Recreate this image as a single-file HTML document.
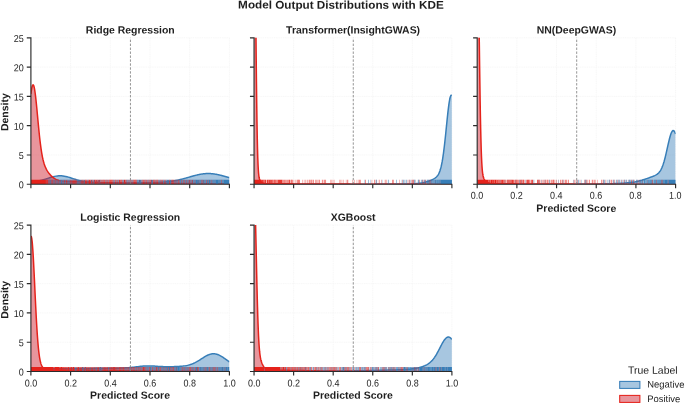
<!DOCTYPE html><html><head><meta charset="utf-8"><title>Model Output Distributions with KDE</title>
<style>html,body{margin:0;padding:0;background:#fff}svg{display:block;will-change:transform}text{font-family:"Liberation Sans",Arial,sans-serif;fill:#1e1e1e;text-rendering:geometricPrecision}</style></head><body>
<svg width="685" height="404" viewBox="0 0 685 404">
<rect width="685" height="404" fill="#fff"/>
<text transform="translate(340.95 8.7) scale(1.037 1) skewY(0.06)" font-size="11.3" text-anchor="middle" font-weight="bold" fill="#1a1a1a">Model Output Distributions with KDE</text>
<g>
<clipPath id="c0"><rect x="30.9" y="37.8" width="198.5" height="146.45"/></clipPath>
<path d="M70.6 37.8V184.25M30.9 154.96H229.4M110.3 37.8V184.25M30.9 125.67H229.4M150 37.8V184.25M30.9 96.38H229.4M189.7 37.8V184.25M30.9 67.09H229.4M229.4 37.8V184.25M30.9 37.8H229.4" stroke="#f4f4f4" stroke-width="0.75" stroke-dasharray="1.2 0.6" fill="none"/>
<g clip-path="url(#c0)">
<polygon points="30.9,184.25 30.9,181.92 31.17,181.9 31.44,181.88 31.7,181.86 31.97,181.84 32.24,181.81 32.51,181.79 32.77,181.76 33.04,181.73 33.31,181.7 33.58,181.67 33.84,181.64 34.11,181.61 34.38,181.58 34.65,181.54 34.91,181.51 35.18,181.47 35.45,181.43 35.72,181.4 35.99,181.36 36.25,181.31 36.52,181.27 36.79,181.23 37.06,181.18 37.32,181.13 37.59,181.09 37.86,181.04 38.13,180.99 38.39,180.93 38.66,180.88 38.93,180.82 39.2,180.77 39.46,180.71 39.73,180.65 40,180.59 40.27,180.53 40.54,180.46 40.8,180.4 41.07,180.33 41.34,180.27 41.61,180.2 41.87,180.13 42.14,180.06 42.41,179.98 42.68,179.91 42.94,179.84 43.21,179.76 43.48,179.68 43.75,179.61 44.01,179.53 44.28,179.45 44.55,179.37 44.82,179.29 45.08,179.2 45.35,179.12 45.62,179.04 45.89,178.95 46.16,178.87 46.42,178.78 46.69,178.7 46.96,178.61 47.23,178.53 47.49,178.44 47.76,178.35 48.03,178.27 48.3,178.18 48.56,178.1 48.83,178.01 49.1,177.92 49.37,177.84 49.63,177.76 49.9,177.67 50.17,177.59 50.44,177.51 50.71,177.42 50.97,177.34 51.24,177.26 51.51,177.19 51.78,177.11 52.04,177.03 52.31,176.96 52.58,176.89 52.85,176.82 53.11,176.75 53.38,176.68 53.65,176.61 53.92,176.55 54.18,176.49 54.45,176.43 54.72,176.37 56.08,176.12 57.45,175.93 58.81,175.82 60.17,175.79 61.54,175.84 62.9,175.97 64.26,176.18 65.63,176.45 66.99,176.77 68.35,177.15 69.72,177.56 71.08,178 72.44,178.45 73.81,178.89 75.17,179.33 76.53,179.75 77.9,180.14 79.26,180.51 80.63,180.84 81.99,181.13 83.35,181.39 84.72,181.61 86.08,181.81 87.44,181.97 88.81,182.11 90.17,182.22 91.53,182.32 92.9,182.4 94.26,182.46 95.62,182.51 96.99,182.56 98.35,182.6 99.71,182.63 101.08,182.65 102.44,182.68 103.8,182.7 105.17,182.72 106.53,182.74 107.89,182.76 109.26,182.77 110.62,182.79 111.98,182.8 113.35,182.82 114.71,182.83 116.07,182.84 117.44,182.85 118.8,182.86 120.16,182.87 121.53,182.88 122.89,182.89 124.26,182.89 125.62,182.9 126.98,182.9 128.35,182.9 129.71,182.9 131.07,182.9 132.44,182.9 133.8,182.89 135.16,182.89 136.53,182.88 137.89,182.87 139.25,182.86 140.62,182.85 141.98,182.84 143.34,182.82 144.71,182.81 146.07,182.79 147.43,182.76 148.8,182.74 150.16,182.71 151.52,182.67 152.89,182.63 154.25,182.59 155.61,182.54 156.98,182.49 158.34,182.42 159.7,182.35 161.07,182.27 162.43,182.18 163.79,182.07 165.16,181.96 166.52,181.83 167.89,181.68 169.25,181.52 170.61,181.34 171.98,181.14 173.34,180.92 174.7,180.69 176.07,180.43 177.43,180.15 178.79,179.86 180.16,179.54 181.52,179.21 182.88,178.86 184.25,178.5 185.61,178.12 186.97,177.74 188.34,177.35 189.7,176.95 190.15,176.83 190.59,176.7 191.04,176.57 191.48,176.44 191.93,176.32 192.38,176.19 192.82,176.07 193.27,175.95 193.71,175.82 194.16,175.7 194.61,175.59 195.05,175.47 195.5,175.36 195.94,175.24 196.39,175.13 196.84,175.03 197.28,174.92 197.73,174.82 198.18,174.72 198.62,174.63 199.07,174.53 199.51,174.45 199.96,174.36 200.41,174.28 200.85,174.2 201.3,174.13 201.74,174.06 202.19,173.99 202.64,173.93 203.08,173.87 203.53,173.82 203.97,173.77 204.42,173.73 204.87,173.69 205.31,173.65 205.76,173.62 206.2,173.6 206.65,173.58 207.1,173.56 207.54,173.55 207.99,173.55 208.43,173.55 208.88,173.55 209.33,173.56 209.77,173.58 210.22,173.6 210.67,173.62 211.11,173.65 211.56,173.69 212,173.72 212.45,173.77 212.9,173.81 213.34,173.87 213.79,173.92 214.23,173.98 214.68,174.05 215.13,174.12 215.57,174.19 216.02,174.27 216.46,174.35 216.91,174.43 217.36,174.52 217.8,174.61 218.25,174.71 218.69,174.81 219.14,174.91 219.59,175.01 220.03,175.12 220.48,175.22 220.92,175.33 221.37,175.45 221.82,175.56 222.26,175.68 222.71,175.8 223.16,175.92 223.6,176.04 224.05,176.16 224.49,176.28 224.94,176.41 225.39,176.53 225.83,176.66 226.28,176.78 226.72,176.91 227.17,177.03 227.62,177.16 228.06,177.28 228.51,177.41 228.95,177.53 229.4,177.66 229.4,184.25" fill="#377eb8" fill-opacity="0.44"/>
<polyline points="30.9,181.92 31.17,181.9 31.44,181.88 31.7,181.86 31.97,181.84 32.24,181.81 32.51,181.79 32.77,181.76 33.04,181.73 33.31,181.7 33.58,181.67 33.84,181.64 34.11,181.61 34.38,181.58 34.65,181.54 34.91,181.51 35.18,181.47 35.45,181.43 35.72,181.4 35.99,181.36 36.25,181.31 36.52,181.27 36.79,181.23 37.06,181.18 37.32,181.13 37.59,181.09 37.86,181.04 38.13,180.99 38.39,180.93 38.66,180.88 38.93,180.82 39.2,180.77 39.46,180.71 39.73,180.65 40,180.59 40.27,180.53 40.54,180.46 40.8,180.4 41.07,180.33 41.34,180.27 41.61,180.2 41.87,180.13 42.14,180.06 42.41,179.98 42.68,179.91 42.94,179.84 43.21,179.76 43.48,179.68 43.75,179.61 44.01,179.53 44.28,179.45 44.55,179.37 44.82,179.29 45.08,179.2 45.35,179.12 45.62,179.04 45.89,178.95 46.16,178.87 46.42,178.78 46.69,178.7 46.96,178.61 47.23,178.53 47.49,178.44 47.76,178.35 48.03,178.27 48.3,178.18 48.56,178.1 48.83,178.01 49.1,177.92 49.37,177.84 49.63,177.76 49.9,177.67 50.17,177.59 50.44,177.51 50.71,177.42 50.97,177.34 51.24,177.26 51.51,177.19 51.78,177.11 52.04,177.03 52.31,176.96 52.58,176.89 52.85,176.82 53.11,176.75 53.38,176.68 53.65,176.61 53.92,176.55 54.18,176.49 54.45,176.43 54.72,176.37 56.08,176.12 57.45,175.93 58.81,175.82 60.17,175.79 61.54,175.84 62.9,175.97 64.26,176.18 65.63,176.45 66.99,176.77 68.35,177.15 69.72,177.56 71.08,178 72.44,178.45 73.81,178.89 75.17,179.33 76.53,179.75 77.9,180.14 79.26,180.51 80.63,180.84 81.99,181.13 83.35,181.39 84.72,181.61 86.08,181.81 87.44,181.97 88.81,182.11 90.17,182.22 91.53,182.32 92.9,182.4 94.26,182.46 95.62,182.51 96.99,182.56 98.35,182.6 99.71,182.63 101.08,182.65 102.44,182.68 103.8,182.7 105.17,182.72 106.53,182.74 107.89,182.76 109.26,182.77 110.62,182.79 111.98,182.8 113.35,182.82 114.71,182.83 116.07,182.84 117.44,182.85 118.8,182.86 120.16,182.87 121.53,182.88 122.89,182.89 124.26,182.89 125.62,182.9 126.98,182.9 128.35,182.9 129.71,182.9 131.07,182.9 132.44,182.9 133.8,182.89 135.16,182.89 136.53,182.88 137.89,182.87 139.25,182.86 140.62,182.85 141.98,182.84 143.34,182.82 144.71,182.81 146.07,182.79 147.43,182.76 148.8,182.74 150.16,182.71 151.52,182.67 152.89,182.63 154.25,182.59 155.61,182.54 156.98,182.49 158.34,182.42 159.7,182.35 161.07,182.27 162.43,182.18 163.79,182.07 165.16,181.96 166.52,181.83 167.89,181.68 169.25,181.52 170.61,181.34 171.98,181.14 173.34,180.92 174.7,180.69 176.07,180.43 177.43,180.15 178.79,179.86 180.16,179.54 181.52,179.21 182.88,178.86 184.25,178.5 185.61,178.12 186.97,177.74 188.34,177.35 189.7,176.95 190.15,176.83 190.59,176.7 191.04,176.57 191.48,176.44 191.93,176.32 192.38,176.19 192.82,176.07 193.27,175.95 193.71,175.82 194.16,175.7 194.61,175.59 195.05,175.47 195.5,175.36 195.94,175.24 196.39,175.13 196.84,175.03 197.28,174.92 197.73,174.82 198.18,174.72 198.62,174.63 199.07,174.53 199.51,174.45 199.96,174.36 200.41,174.28 200.85,174.2 201.3,174.13 201.74,174.06 202.19,173.99 202.64,173.93 203.08,173.87 203.53,173.82 203.97,173.77 204.42,173.73 204.87,173.69 205.31,173.65 205.76,173.62 206.2,173.6 206.65,173.58 207.1,173.56 207.54,173.55 207.99,173.55 208.43,173.55 208.88,173.55 209.33,173.56 209.77,173.58 210.22,173.6 210.67,173.62 211.11,173.65 211.56,173.69 212,173.72 212.45,173.77 212.9,173.81 213.34,173.87 213.79,173.92 214.23,173.98 214.68,174.05 215.13,174.12 215.57,174.19 216.02,174.27 216.46,174.35 216.91,174.43 217.36,174.52 217.8,174.61 218.25,174.71 218.69,174.81 219.14,174.91 219.59,175.01 220.03,175.12 220.48,175.22 220.92,175.33 221.37,175.45 221.82,175.56 222.26,175.68 222.71,175.8 223.16,175.92 223.6,176.04 224.05,176.16 224.49,176.28 224.94,176.41 225.39,176.53 225.83,176.66 226.28,176.78 226.72,176.91 227.17,177.03 227.62,177.16 228.06,177.28 228.51,177.41 228.95,177.53 229.4,177.66" fill="none" stroke="#377eb8" stroke-width="1.5" stroke-linejoin="round"/>
<polygon points="30.9,184.25 30.9,93.96 31.17,91.92 31.44,90.12 31.7,88.56 31.97,87.25 32.24,86.22 32.51,85.47 32.77,85 33.04,84.82 33.31,84.93 33.58,85.32 33.84,86 34.11,86.95 34.38,88.17 34.65,89.63 34.91,91.32 35.18,93.23 35.45,95.34 35.72,97.62 35.99,100.05 36.25,102.61 36.52,105.28 36.79,108.03 37.06,110.85 37.32,113.7 37.59,116.58 37.86,119.45 38.13,122.31 38.39,125.13 38.66,127.9 38.93,130.6 39.2,133.23 39.46,135.77 39.73,138.21 40,140.56 40.27,142.79 40.54,144.92 40.8,146.94 41.07,148.85 41.34,150.65 41.61,152.33 41.87,153.92 42.14,155.4 42.41,156.78 42.68,158.07 42.94,159.28 43.21,160.4 43.48,161.44 43.75,162.41 44.01,163.32 44.28,164.16 44.55,164.95 44.82,165.69 45.08,166.39 45.35,167.04 45.62,167.65 45.89,168.23 46.16,168.78 46.42,169.3 46.69,169.79 46.96,170.27 47.23,170.72 47.49,171.15 47.76,171.57 48.03,171.97 48.3,172.36 48.56,172.73 48.83,173.09 49.1,173.44 49.37,173.78 49.63,174.11 49.9,174.42 50.17,174.73 50.44,175.03 50.71,175.32 50.97,175.6 51.24,175.87 51.51,176.13 51.78,176.38 52.04,176.63 52.31,176.86 52.58,177.09 52.85,177.31 53.11,177.52 53.38,177.73 53.65,177.92 53.92,178.11 54.18,178.29 54.45,178.47 54.72,178.63 56.08,179.37 57.45,179.95 58.81,180.4 60.17,180.73 61.54,180.97 62.9,181.15 64.26,181.28 65.63,181.37 66.99,181.45 68.35,181.5 69.72,181.55 71.08,181.59 72.44,181.64 73.81,181.68 75.17,181.72 76.53,181.77 77.9,181.82 79.26,181.87 80.63,181.92 81.99,181.97 83.35,182.03 84.72,182.08 86.08,182.14 87.44,182.19 88.81,182.25 90.17,182.3 91.53,182.35 92.9,182.4 94.26,182.45 95.62,182.5 96.99,182.54 98.35,182.59 99.71,182.63 101.08,182.67 102.44,182.71 103.8,182.74 105.17,182.77 106.53,182.8 107.89,182.83 109.26,182.86 110.62,182.88 111.98,182.91 113.35,182.93 114.71,182.95 116.07,182.96 117.44,182.98 118.8,183 120.16,183.01 121.53,183.02 122.89,183.04 124.26,183.05 125.62,183.06 126.98,183.07 128.35,183.08 129.71,183.09 131.07,183.1 132.44,183.1 133.8,183.11 135.16,183.12 136.53,183.13 137.89,183.14 139.25,183.15 140.62,183.15 141.98,183.16 143.34,183.17 144.71,183.18 146.07,183.19 147.43,183.2 148.8,183.21 150.16,183.22 151.52,183.22 152.89,183.23 154.25,183.24 155.61,183.25 156.98,183.26 158.34,183.27 159.7,183.28 161.07,183.29 162.43,183.31 163.79,183.32 165.16,183.33 166.52,183.34 167.89,183.35 169.25,183.36 170.61,183.37 171.98,183.38 173.34,183.4 174.7,183.41 176.07,183.42 177.43,183.43 178.79,183.44 180.16,183.45 181.52,183.47 182.88,183.48 184.25,183.49 185.61,183.5 186.97,183.51 188.34,183.53 189.7,183.54 190.15,183.54 190.59,183.55 191.04,183.55 191.48,183.56 191.93,183.56 192.38,183.56 192.82,183.57 193.27,183.57 193.71,183.58 194.16,183.58 194.61,183.58 195.05,183.59 195.5,183.59 195.94,183.6 196.39,183.6 196.84,183.6 197.28,183.61 197.73,183.61 198.18,183.61 198.62,183.62 199.07,183.62 199.51,183.63 199.96,183.63 200.41,183.63 200.85,183.64 201.3,183.64 201.74,183.65 202.19,183.65 202.64,183.65 203.08,183.66 203.53,183.66 203.97,183.67 204.42,183.67 204.87,183.67 205.31,183.68 205.76,183.68 206.2,183.69 206.65,183.69 207.1,183.69 207.54,183.7 207.99,183.7 208.43,183.7 208.88,183.71 209.33,183.71 209.77,183.72 210.22,183.72 210.67,183.72 211.11,183.73 211.56,183.73 212,183.73 212.45,183.74 212.9,183.74 213.34,183.75 213.79,183.75 214.23,183.75 214.68,183.76 215.13,183.76 215.57,183.76 216.02,183.77 216.46,183.77 216.91,183.77 217.36,183.78 217.8,183.78 218.25,183.79 218.69,183.79 219.14,183.79 219.59,183.8 220.03,183.8 220.48,183.8 220.92,183.81 221.37,183.81 221.82,183.81 222.26,183.82 222.71,183.82 223.16,183.82 223.6,183.83 224.05,183.83 224.49,183.83 224.94,183.84 225.39,183.84 225.83,183.84 226.28,183.85 226.72,183.85 227.17,183.85 227.62,183.86 228.06,183.86 228.51,183.86 228.95,183.87 229.4,183.87 229.4,184.25" fill="#cf1e2d" fill-opacity="0.47"/>
<polyline points="30.9,93.96 31.17,91.92 31.44,90.12 31.7,88.56 31.97,87.25 32.24,86.22 32.51,85.47 32.77,85 33.04,84.82 33.31,84.93 33.58,85.32 33.84,86 34.11,86.95 34.38,88.17 34.65,89.63 34.91,91.32 35.18,93.23 35.45,95.34 35.72,97.62 35.99,100.05 36.25,102.61 36.52,105.28 36.79,108.03 37.06,110.85 37.32,113.7 37.59,116.58 37.86,119.45 38.13,122.31 38.39,125.13 38.66,127.9 38.93,130.6 39.2,133.23 39.46,135.77 39.73,138.21 40,140.56 40.27,142.79 40.54,144.92 40.8,146.94 41.07,148.85 41.34,150.65 41.61,152.33 41.87,153.92 42.14,155.4 42.41,156.78 42.68,158.07 42.94,159.28 43.21,160.4 43.48,161.44 43.75,162.41 44.01,163.32 44.28,164.16 44.55,164.95 44.82,165.69 45.08,166.39 45.35,167.04 45.62,167.65 45.89,168.23 46.16,168.78 46.42,169.3 46.69,169.79 46.96,170.27 47.23,170.72 47.49,171.15 47.76,171.57 48.03,171.97 48.3,172.36 48.56,172.73 48.83,173.09 49.1,173.44 49.37,173.78 49.63,174.11 49.9,174.42 50.17,174.73 50.44,175.03 50.71,175.32 50.97,175.6 51.24,175.87 51.51,176.13 51.78,176.38 52.04,176.63 52.31,176.86 52.58,177.09 52.85,177.31 53.11,177.52 53.38,177.73 53.65,177.92 53.92,178.11 54.18,178.29 54.45,178.47 54.72,178.63 56.08,179.37 57.45,179.95 58.81,180.4 60.17,180.73 61.54,180.97 62.9,181.15 64.26,181.28 65.63,181.37 66.99,181.45 68.35,181.5 69.72,181.55 71.08,181.59 72.44,181.64 73.81,181.68 75.17,181.72 76.53,181.77 77.9,181.82 79.26,181.87 80.63,181.92 81.99,181.97 83.35,182.03 84.72,182.08 86.08,182.14 87.44,182.19 88.81,182.25 90.17,182.3 91.53,182.35 92.9,182.4 94.26,182.45 95.62,182.5 96.99,182.54 98.35,182.59 99.71,182.63 101.08,182.67 102.44,182.71 103.8,182.74 105.17,182.77 106.53,182.8 107.89,182.83 109.26,182.86 110.62,182.88 111.98,182.91 113.35,182.93 114.71,182.95 116.07,182.96 117.44,182.98 118.8,183 120.16,183.01 121.53,183.02 122.89,183.04 124.26,183.05 125.62,183.06 126.98,183.07 128.35,183.08 129.71,183.09 131.07,183.1 132.44,183.1 133.8,183.11 135.16,183.12 136.53,183.13 137.89,183.14 139.25,183.15 140.62,183.15 141.98,183.16 143.34,183.17 144.71,183.18 146.07,183.19 147.43,183.2 148.8,183.21 150.16,183.22 151.52,183.22 152.89,183.23 154.25,183.24 155.61,183.25 156.98,183.26 158.34,183.27 159.7,183.28 161.07,183.29 162.43,183.31 163.79,183.32 165.16,183.33 166.52,183.34 167.89,183.35 169.25,183.36 170.61,183.37 171.98,183.38 173.34,183.4 174.7,183.41 176.07,183.42 177.43,183.43 178.79,183.44 180.16,183.45 181.52,183.47 182.88,183.48 184.25,183.49 185.61,183.5 186.97,183.51 188.34,183.53 189.7,183.54 190.15,183.54 190.59,183.55 191.04,183.55 191.48,183.56 191.93,183.56 192.38,183.56 192.82,183.57 193.27,183.57 193.71,183.58 194.16,183.58 194.61,183.58 195.05,183.59 195.5,183.59 195.94,183.6 196.39,183.6 196.84,183.6 197.28,183.61 197.73,183.61 198.18,183.61 198.62,183.62 199.07,183.62 199.51,183.63 199.96,183.63 200.41,183.63 200.85,183.64 201.3,183.64 201.74,183.65 202.19,183.65 202.64,183.65 203.08,183.66 203.53,183.66 203.97,183.67 204.42,183.67 204.87,183.67 205.31,183.68 205.76,183.68 206.2,183.69 206.65,183.69 207.1,183.69 207.54,183.7 207.99,183.7 208.43,183.7 208.88,183.71 209.33,183.71 209.77,183.72 210.22,183.72 210.67,183.72 211.11,183.73 211.56,183.73 212,183.73 212.45,183.74 212.9,183.74 213.34,183.75 213.79,183.75 214.23,183.75 214.68,183.76 215.13,183.76 215.57,183.76 216.02,183.77 216.46,183.77 216.91,183.77 217.36,183.78 217.8,183.78 218.25,183.79 218.69,183.79 219.14,183.79 219.59,183.8 220.03,183.8 220.48,183.8 220.92,183.81 221.37,183.81 221.82,183.81 222.26,183.82 222.71,183.82 223.16,183.82 223.6,183.83 224.05,183.83 224.49,183.83 224.94,183.84 225.39,183.84 225.83,183.84 226.28,183.85 226.72,183.85 227.17,183.85 227.62,183.86 228.06,183.86 228.51,183.86 228.95,183.87 229.4,183.87" fill="none" stroke="#e5221b" stroke-width="1.5" stroke-linejoin="round"/>
<path d="M165.9 184.25v-4.4h0.6v4.4z" fill="#377eb8" fill-opacity="0.9"/>
<path d="M49.5 184.25v-4.4h0.6v4.4zM59.1 184.25v-4.4h0.6v4.4zM63.3 184.25v-4.4h0.6v4.4zM63.9 184.25v-4.4h0.6v4.4zM65.1 184.25v-4.4h0.6v4.4zM68.1 184.25v-4.4h0.6v4.4zM79.5 184.25v-4.4h0.6v4.4zM82.5 184.25v-4.4h0.6v4.4zM137.7 184.25v-4.4h0.6v4.4zM141.9 184.25v-4.4h0.6v4.4zM148.5 184.25v-4.4h0.6v4.4zM163.5 184.25v-4.4h0.6v4.4zM170.1 184.25v-4.4h0.6v4.4zM170.7 184.25v-4.4h0.6v4.4zM180.3 184.25v-4.4h0.6v4.4zM180.9 184.25v-4.4h0.6v4.4zM182.7 184.25v-4.4h0.6v4.4zM186.9 184.25v-4.4h0.6v4.4zM192.9 184.25v-4.4h0.6v4.4zM194.1 184.25v-4.4h0.6v4.4zM195.3 184.25v-4.4h0.6v4.4zM195.9 184.25v-4.4h0.6v4.4zM196.5 184.25v-4.4h0.6v4.4zM199.5 184.25v-4.4h0.6v4.4zM200.1 184.25v-4.4h0.6v4.4zM204.9 184.25v-4.4h0.6v4.4zM206.7 184.25v-4.4h0.6v4.4zM207.3 184.25v-4.4h0.6v4.4zM208.5 184.25v-4.4h0.6v4.4zM209.1 184.25v-4.4h0.6v4.4zM209.7 184.25v-4.4h0.6v4.4zM211.5 184.25v-4.4h0.6v4.4zM213.3 184.25v-4.4h0.6v4.4zM214.5 184.25v-4.4h0.6v4.4zM215.7 184.25v-4.4h0.6v4.4zM216.3 184.25v-4.4h0.6v4.4zM216.9 184.25v-4.4h0.6v4.4zM217.5 184.25v-4.4h0.6v4.4zM218.1 184.25v-4.4h0.6v4.4zM219.3 184.25v-4.4h0.6v4.4zM219.9 184.25v-4.4h0.6v4.4zM222.3 184.25v-4.4h0.6v4.4zM223.5 184.25v-4.4h0.6v4.4zM224.1 184.25v-4.4h0.6v4.4zM224.7 184.25v-4.4h0.6v4.4zM225.3 184.25v-4.4h0.6v4.4zM225.9 184.25v-4.4h0.6v4.4zM226.5 184.25v-4.4h0.6v4.4zM227.1 184.25v-4.4h0.6v4.4zM227.7 184.25v-4.4h0.6v4.4zM228.3 184.25v-4.4h0.6v4.4zM228.9 184.25v-4.4h0.6v4.4z" fill="#377eb8" fill-opacity="1.0"/>
<path d="M60.9 184.25v-4.4h0.6v4.4zM61.5 184.25v-4.4h0.6v4.4zM67.5 184.25v-4.4h0.6v4.4zM69.3 184.25v-4.4h0.6v4.4zM77.1 184.25v-4.4h0.6v4.4zM78.3 184.25v-4.4h0.6v4.4zM88.5 184.25v-4.4h0.6v4.4zM97.5 184.25v-4.4h0.6v4.4zM105.3 184.25v-4.4h0.6v4.4zM117.9 184.25v-4.4h0.6v4.4zM127.5 184.25v-4.4h0.6v4.4zM136.5 184.25v-4.4h0.6v4.4zM137.1 184.25v-4.4h0.6v4.4zM138.3 184.25v-4.4h0.6v4.4zM140.1 184.25v-4.4h0.6v4.4zM140.7 184.25v-4.4h0.6v4.4zM152.1 184.25v-4.4h0.6v4.4zM152.7 184.25v-4.4h0.6v4.4zM167.1 184.25v-4.4h0.6v4.4zM167.7 184.25v-4.4h0.6v4.4zM168.3 184.25v-4.4h0.6v4.4zM174.3 184.25v-4.4h0.6v4.4zM177.3 184.25v-4.4h0.6v4.4zM179.7 184.25v-4.4h0.6v4.4zM182.1 184.25v-4.4h0.6v4.4zM184.5 184.25v-4.4h0.6v4.4zM185.1 184.25v-4.4h0.6v4.4zM193.5 184.25v-4.4h0.6v4.4zM197.1 184.25v-4.4h0.6v4.4zM197.7 184.25v-4.4h0.6v4.4zM198.3 184.25v-4.4h0.6v4.4zM200.7 184.25v-4.4h0.6v4.4zM201.9 184.25v-4.4h0.6v4.4zM204.3 184.25v-4.4h0.6v4.4zM205.5 184.25v-4.4h0.6v4.4zM210.3 184.25v-4.4h0.6v4.4zM212.7 184.25v-4.4h0.6v4.4zM213.9 184.25v-4.4h0.6v4.4zM215.1 184.25v-4.4h0.6v4.4zM218.7 184.25v-4.4h0.6v4.4zM220.5 184.25v-4.4h0.6v4.4zM221.7 184.25v-4.4h0.6v4.4zM222.9 184.25v-4.4h0.6v4.4z" fill="#4875a8" fill-opacity="1.0"/>
<path d="M48.3 184.25v-4.4h0.6v4.4zM50.1 184.25v-4.4h0.6v4.4zM50.7 184.25v-4.4h0.6v4.4zM53.1 184.25v-4.4h0.6v4.4zM56.1 184.25v-4.4h0.6v4.4zM62.1 184.25v-4.4h0.6v4.4zM65.7 184.25v-4.4h0.6v4.4zM77.7 184.25v-4.4h0.6v4.4zM80.7 184.25v-4.4h0.6v4.4zM93.3 184.25v-4.4h0.6v4.4zM112.5 184.25v-4.4h0.6v4.4zM113.7 184.25v-4.4h0.6v4.4zM116.7 184.25v-4.4h0.6v4.4zM123.3 184.25v-4.4h0.6v4.4zM129.3 184.25v-4.4h0.6v4.4zM146.7 184.25v-4.4h0.6v4.4zM158.7 184.25v-4.4h0.6v4.4zM162.9 184.25v-4.4h0.6v4.4zM174.9 184.25v-4.4h0.6v4.4zM176.1 184.25v-4.4h0.6v4.4zM177.9 184.25v-4.4h0.6v4.4zM188.1 184.25v-4.4h0.6v4.4zM191.1 184.25v-4.4h0.6v4.4zM203.1 184.25v-4.4h0.6v4.4zM203.7 184.25v-4.4h0.6v4.4zM212.1 184.25v-4.4h0.6v4.4z" fill="#5a6c99" fill-opacity="1.0"/>
<path d="M54.3 184.25v-4.4h0.6v4.4zM54.9 184.25v-4.4h0.6v4.4zM57.3 184.25v-4.4h0.6v4.4zM60.3 184.25v-4.4h0.6v4.4zM70.5 184.25v-4.4h0.6v4.4zM80.1 184.25v-4.4h0.6v4.4zM83.7 184.25v-4.4h0.6v4.4zM84.3 184.25v-4.4h0.6v4.4zM87.3 184.25v-4.4h0.6v4.4zM107.7 184.25v-4.4h0.6v4.4zM114.3 184.25v-4.4h0.6v4.4zM122.1 184.25v-4.4h0.6v4.4zM126.3 184.25v-4.4h0.6v4.4zM126.9 184.25v-4.4h0.6v4.4zM128.1 184.25v-4.4h0.6v4.4zM131.1 184.25v-4.4h0.6v4.4zM132.3 184.25v-4.4h0.6v4.4zM138.9 184.25v-4.4h0.6v4.4zM139.5 184.25v-4.4h0.6v4.4zM143.7 184.25v-4.4h0.6v4.4zM145.5 184.25v-4.4h0.6v4.4zM158.1 184.25v-4.4h0.6v4.4zM159.3 184.25v-4.4h0.6v4.4zM164.7 184.25v-4.4h0.6v4.4zM166.5 184.25v-4.4h0.6v4.4zM168.9 184.25v-4.4h0.6v4.4zM185.7 184.25v-4.4h0.6v4.4zM187.5 184.25v-4.4h0.6v4.4zM190.5 184.25v-4.4h0.6v4.4zM198.9 184.25v-4.4h0.6v4.4z" fill="#6b6289" fill-opacity="1.0"/>
<path d="M51.9 184.25v-4.4h0.6v4.4zM53.7 184.25v-4.4h0.6v4.4zM56.7 184.25v-4.4h0.6v4.4zM57.9 184.25v-4.4h0.6v4.4zM59.7 184.25v-4.4h0.6v4.4zM62.7 184.25v-4.4h0.6v4.4zM66.9 184.25v-4.4h0.6v4.4zM68.7 184.25v-4.4h0.6v4.4zM71.1 184.25v-4.4h0.6v4.4zM73.5 184.25v-4.4h0.6v4.4zM74.7 184.25v-4.4h0.6v4.4zM76.5 184.25v-4.4h0.6v4.4zM78.9 184.25v-4.4h0.6v4.4zM86.7 184.25v-4.4h0.6v4.4zM90.9 184.25v-4.4h0.6v4.4zM91.5 184.25v-4.4h0.6v4.4zM92.7 184.25v-4.4h0.6v4.4zM100.5 184.25v-4.4h0.6v4.4zM102.9 184.25v-4.4h0.6v4.4zM106.5 184.25v-4.4h0.6v4.4zM108.3 184.25v-4.4h0.6v4.4zM116.1 184.25v-4.4h0.6v4.4zM118.5 184.25v-4.4h0.6v4.4zM122.7 184.25v-4.4h0.6v4.4zM129.9 184.25v-4.4h0.6v4.4zM132.9 184.25v-4.4h0.6v4.4zM141.3 184.25v-4.4h0.6v4.4zM147.3 184.25v-4.4h0.6v4.4zM150.9 184.25v-4.4h0.6v4.4zM151.5 184.25v-4.4h0.6v4.4zM155.1 184.25v-4.4h0.6v4.4zM159.9 184.25v-4.4h0.6v4.4zM161.1 184.25v-4.4h0.6v4.4zM179.1 184.25v-4.4h0.6v4.4zM189.9 184.25v-4.4h0.6v4.4z" fill="#7d5979" fill-opacity="1.0"/>
<path d="M58.5 184.25v-4.4h0.6v4.4zM72.3 184.25v-4.4h0.6v4.4zM81.3 184.25v-4.4h0.6v4.4zM83.1 184.25v-4.4h0.6v4.4zM93.9 184.25v-4.4h0.6v4.4zM94.5 184.25v-4.4h0.6v4.4zM98.1 184.25v-4.4h0.6v4.4zM98.7 184.25v-4.4h0.6v4.4zM99.3 184.25v-4.4h0.6v4.4zM99.9 184.25v-4.4h0.6v4.4zM101.7 184.25v-4.4h0.6v4.4zM113.1 184.25v-4.4h0.6v4.4zM114.9 184.25v-4.4h0.6v4.4zM121.5 184.25v-4.4h0.6v4.4zM128.7 184.25v-4.4h0.6v4.4zM131.7 184.25v-4.4h0.6v4.4zM135.3 184.25v-4.4h0.6v4.4zM144.9 184.25v-4.4h0.6v4.4zM149.1 184.25v-4.4h0.6v4.4zM154.5 184.25v-4.4h0.6v4.4zM156.3 184.25v-4.4h0.6v4.4zM160.5 184.25v-4.4h0.6v4.4zM165.3 184.25v-4.4h0.6v4.4zM171.9 184.25v-4.4h0.6v4.4zM173.1 184.25v-4.4h0.6v4.4zM175.5 184.25v-4.4h0.6v4.4zM176.7 184.25v-4.4h0.6v4.4zM183.3 184.25v-4.4h0.6v4.4zM186.3 184.25v-4.4h0.6v4.4zM188.7 184.25v-4.4h0.6v4.4zM189.3 184.25v-4.4h0.6v4.4zM191.7 184.25v-4.4h0.6v4.4zM192.3 184.25v-4.4h0.6v4.4zM194.7 184.25v-4.4h0.6v4.4zM201.3 184.25v-4.4h0.6v4.4zM207.9 184.25v-4.4h0.6v4.4zM210.9 184.25v-4.4h0.6v4.4zM221.1 184.25v-4.4h0.6v4.4z" fill="#9f475a" fill-opacity="1.0"/>
<path d="M48.9 184.25v-4.4h0.6v4.4zM51.3 184.25v-4.4h0.6v4.4zM55.5 184.25v-4.4h0.6v4.4zM71.7 184.25v-4.4h0.6v4.4zM75.9 184.25v-4.4h0.6v4.4zM84.9 184.25v-4.4h0.6v4.4zM90.3 184.25v-4.4h0.6v4.4zM92.1 184.25v-4.4h0.6v4.4zM95.7 184.25v-4.4h0.6v4.4zM96.3 184.25v-4.4h0.6v4.4zM101.1 184.25v-4.4h0.6v4.4zM102.3 184.25v-4.4h0.6v4.4zM105.9 184.25v-4.4h0.6v4.4zM120.3 184.25v-4.4h0.6v4.4zM125.1 184.25v-4.4h0.6v4.4zM130.5 184.25v-4.4h0.6v4.4zM147.9 184.25v-4.4h0.6v4.4zM149.7 184.25v-4.4h0.6v4.4zM155.7 184.25v-4.4h0.6v4.4zM156.9 184.25v-4.4h0.6v4.4zM162.3 184.25v-4.4h0.6v4.4zM164.1 184.25v-4.4h0.6v4.4zM183.9 184.25v-4.4h0.6v4.4zM202.5 184.25v-4.4h0.6v4.4zM206.1 184.25v-4.4h0.6v4.4z" fill="#b13e4a" fill-opacity="1.0"/>
<path d="M47.7 184.25v-4.4h0.6v4.4zM66.3 184.25v-4.4h0.6v4.4zM69.9 184.25v-4.4h0.6v4.4zM75.3 184.25v-4.4h0.6v4.4zM104.1 184.25v-4.4h0.6v4.4zM107.1 184.25v-4.4h0.6v4.4zM108.9 184.25v-4.4h0.6v4.4zM117.3 184.25v-4.4h0.6v4.4zM125.7 184.25v-4.4h0.6v4.4zM133.5 184.25v-4.4h0.6v4.4zM142.5 184.25v-4.4h0.6v4.4zM144.3 184.25v-4.4h0.6v4.4zM171.3 184.25v-4.4h0.6v4.4zM173.7 184.25v-4.4h0.6v4.4zM181.5 184.25v-4.4h0.6v4.4z" fill="#c2343a" fill-opacity="1.0"/>
<path d="M45.9 184.25v-4.4h0.6v4.4zM52.5 184.25v-4.4h0.6v4.4zM64.5 184.25v-4.4h0.6v4.4zM74.1 184.25v-4.4h0.6v4.4zM86.1 184.25v-4.4h0.6v4.4zM87.9 184.25v-4.4h0.6v4.4zM103.5 184.25v-4.4h0.6v4.4zM109.5 184.25v-4.4h0.6v4.4zM110.1 184.25v-4.4h0.6v4.4zM111.3 184.25v-4.4h0.6v4.4zM115.5 184.25v-4.4h0.6v4.4zM119.1 184.25v-4.4h0.6v4.4zM119.7 184.25v-4.4h0.6v4.4zM123.9 184.25v-4.4h0.6v4.4zM124.5 184.25v-4.4h0.6v4.4zM134.1 184.25v-4.4h0.6v4.4zM146.1 184.25v-4.4h0.6v4.4zM150.3 184.25v-4.4h0.6v4.4zM153.3 184.25v-4.4h0.6v4.4zM153.9 184.25v-4.4h0.6v4.4zM157.5 184.25v-4.4h0.6v4.4zM161.7 184.25v-4.4h0.6v4.4zM169.5 184.25v-4.4h0.6v4.4zM178.5 184.25v-4.4h0.6v4.4z" fill="#d42b2b" fill-opacity="1.0"/>
<path d="M30.9 184.25v-4.4h0.6v4.4zM31.5 184.25v-4.4h0.6v4.4zM32.1 184.25v-4.4h0.6v4.4zM32.7 184.25v-4.4h0.6v4.4zM33.3 184.25v-4.4h0.6v4.4zM33.9 184.25v-4.4h0.6v4.4zM34.5 184.25v-4.4h0.6v4.4zM35.1 184.25v-4.4h0.6v4.4zM35.7 184.25v-4.4h0.6v4.4zM36.3 184.25v-4.4h0.6v4.4zM36.9 184.25v-4.4h0.6v4.4zM37.5 184.25v-4.4h0.6v4.4zM38.1 184.25v-4.4h0.6v4.4zM38.7 184.25v-4.4h0.6v4.4zM39.3 184.25v-4.4h0.6v4.4zM39.9 184.25v-4.4h0.6v4.4zM40.5 184.25v-4.4h0.6v4.4zM41.1 184.25v-4.4h0.6v4.4zM41.7 184.25v-4.4h0.6v4.4zM42.3 184.25v-4.4h0.6v4.4zM42.9 184.25v-4.4h0.6v4.4zM43.5 184.25v-4.4h0.6v4.4zM44.1 184.25v-4.4h0.6v4.4zM44.7 184.25v-4.4h0.6v4.4zM45.3 184.25v-4.4h0.6v4.4zM46.5 184.25v-4.4h0.6v4.4zM47.1 184.25v-4.4h0.6v4.4zM72.9 184.25v-4.4h0.6v4.4zM81.9 184.25v-4.4h0.6v4.4zM85.5 184.25v-4.4h0.6v4.4zM89.1 184.25v-4.4h0.6v4.4zM89.7 184.25v-4.4h0.6v4.4zM95.1 184.25v-4.4h0.6v4.4zM96.9 184.25v-4.4h0.6v4.4zM104.7 184.25v-4.4h0.6v4.4zM110.7 184.25v-4.4h0.6v4.4zM111.9 184.25v-4.4h0.6v4.4zM120.9 184.25v-4.4h0.6v4.4zM134.7 184.25v-4.4h0.6v4.4zM135.9 184.25v-4.4h0.6v4.4zM143.1 184.25v-4.4h0.6v4.4zM172.5 184.25v-4.4h0.6v4.4z" fill="#e5221b" fill-opacity="1.0"/>
</g>
<path d="M130.45 184.25V37.8" stroke="#828282" stroke-width="0.85" stroke-dasharray="2.4 1.55" fill="none"/>
<path d="M30.9 37.3V184.25H229.9M30.9 184.25v4.1M30.9 184.25h-4.1M70.6 184.25v4.1M30.9 154.96h-4.1M110.3 184.25v4.1M30.9 125.67h-4.1M150 184.25v4.1M30.9 96.38h-4.1M189.7 184.25v4.1M30.9 67.09h-4.1M229.4 184.25v4.1M30.9 37.8h-4.1" stroke="#2b2b2b" stroke-width="1.15" fill="none"/>
<text transform="translate(130.25 33.5) scale(1.005 1) skewY(0.06)" font-size="10.4" text-anchor="middle" font-weight="bold">Ridge Regression</text>
<text transform="translate(23.7 188.35) scale(0.900 1) skewY(0.06)" font-size="10.0" text-anchor="end">0</text>
<text transform="translate(23.7 159.06) scale(0.900 1) skewY(0.06)" font-size="10.0" text-anchor="end">5</text>
<text transform="translate(23.7 129.77) scale(0.900 1) skewY(0.06)" font-size="10.0" text-anchor="end">10</text>
<text transform="translate(23.7 100.48) scale(0.900 1) skewY(0.06)" font-size="10.0" text-anchor="end">15</text>
<text transform="translate(23.7 71.19) scale(0.900 1) skewY(0.06)" font-size="10.0" text-anchor="end">20</text>
<text transform="translate(23.7 41.9) scale(0.900 1) skewY(0.06)" font-size="10.0" text-anchor="end">25</text>
<text transform="translate(8.2 112.12) rotate(-90) scale(1.010 1) skewY(0.06)" font-size="10.4" text-anchor="middle" font-weight="bold">Density</text>
</g>
<g>
<clipPath id="c1"><rect x="254.05" y="37.8" width="197.85" height="146.45"/></clipPath>
<path d="M293.62 37.8V184.25M254.05 154.96H451.9M333.19 37.8V184.25M254.05 125.67H451.9M372.76 37.8V184.25M254.05 96.38H451.9M412.33 37.8V184.25M254.05 67.09H451.9M451.9 37.8V184.25M254.05 37.8H451.9" stroke="#f4f4f4" stroke-width="0.75" stroke-dasharray="1.2 0.6" fill="none"/>
<g clip-path="url(#c1)">
<polygon points="254.05,184.25 254.05,184.25 254.32,184.25 254.58,184.25 254.85,184.25 255.12,184.25 255.38,184.25 255.65,184.25 255.92,184.25 256.18,184.25 256.45,184.25 256.72,184.25 256.98,184.25 257.25,184.25 257.52,184.25 257.78,184.25 258.05,184.25 258.32,184.25 258.58,184.25 258.85,184.25 259.12,184.25 259.39,184.25 259.65,184.25 259.92,184.25 260.19,184.25 260.45,184.25 260.72,184.25 260.99,184.25 261.25,184.25 261.52,184.25 261.79,184.25 262.05,184.25 262.32,184.25 262.59,184.25 262.85,184.25 263.12,184.25 263.39,184.25 263.65,184.25 263.92,184.25 264.19,184.25 264.45,184.25 264.72,184.25 264.99,184.25 265.25,184.25 265.52,184.25 265.79,184.25 266.05,184.25 266.32,184.25 266.59,184.25 266.85,184.25 267.12,184.25 267.39,184.25 267.65,184.25 267.92,184.25 268.19,184.25 268.46,184.25 268.72,184.25 268.99,184.25 269.26,184.25 269.52,184.25 269.79,184.25 270.06,184.25 270.32,184.25 270.59,184.25 270.86,184.25 271.12,184.25 271.39,184.25 271.66,184.25 271.92,184.25 272.19,184.25 272.46,184.25 272.72,184.25 272.99,184.25 273.26,184.25 273.52,184.25 273.79,184.25 274.06,184.25 274.32,184.25 274.59,184.25 274.86,184.25 275.12,184.25 275.39,184.25 275.66,184.25 275.92,184.25 276.19,184.25 276.46,184.25 276.72,184.25 276.99,184.25 277.26,184.25 277.53,184.25 277.79,184.25 279.15,184.25 280.51,184.25 281.87,184.25 283.23,184.24 284.59,184.24 285.95,184.24 287.3,184.24 288.66,184.24 290.02,184.24 291.38,184.24 292.74,184.24 294.1,184.24 295.46,184.24 296.82,184.24 298.18,184.24 299.54,184.24 300.89,184.24 302.25,184.24 303.61,184.24 304.97,184.24 306.33,184.24 307.69,184.23 309.05,184.23 310.41,184.23 311.77,184.23 313.13,184.23 314.48,184.23 315.84,184.23 317.2,184.23 318.56,184.23 319.92,184.23 321.28,184.22 322.64,184.22 324,184.22 325.36,184.22 326.71,184.22 328.07,184.22 329.43,184.22 330.79,184.21 332.15,184.21 333.51,184.21 334.87,184.21 336.23,184.21 337.59,184.2 338.95,184.2 340.3,184.2 341.66,184.2 343.02,184.2 344.38,184.19 345.74,184.19 347.1,184.19 348.46,184.19 349.82,184.18 351.18,184.18 352.54,184.18 353.89,184.18 355.25,184.17 356.61,184.17 357.97,184.17 359.33,184.16 360.69,184.16 362.05,184.16 363.41,184.15 364.77,184.15 366.13,184.15 367.48,184.14 368.84,184.14 370.2,184.14 371.56,184.13 372.92,184.13 374.28,184.13 375.64,184.12 377,184.12 378.36,184.11 379.71,184.11 381.07,184.11 382.43,184.1 383.79,184.1 385.15,184.09 386.51,184.09 387.87,184.09 389.23,184.08 390.59,184.08 391.95,184.07 393.3,184.07 394.66,184.06 396.02,184.06 397.38,184.05 398.74,184.05 400.1,184.04 401.46,184.03 402.82,184.02 404.18,184.01 405.54,184 406.89,183.98 408.25,183.96 409.61,183.93 410.97,183.89 412.33,183.84 412.77,183.82 413.22,183.8 413.66,183.78 414.11,183.75 414.55,183.73 415,183.7 415.44,183.67 415.89,183.64 416.33,183.61 416.78,183.57 417.22,183.53 417.67,183.49 418.11,183.44 418.55,183.39 419,183.34 419.44,183.29 419.89,183.23 420.33,183.17 420.78,183.1 421.22,183.03 421.67,182.96 422.11,182.88 422.56,182.8 423,182.71 423.45,182.62 423.89,182.52 424.33,182.42 424.78,182.31 425.22,182.2 425.67,182.08 426.11,181.95 426.56,181.82 427,181.69 427.45,181.55 427.89,181.4 428.34,181.25 428.78,181.09 429.23,180.93 429.67,180.76 430.11,180.58 430.56,180.4 431,180.21 431.45,180.01 431.89,179.81 432.34,179.6 432.78,179.38 433.23,179.15 433.67,178.91 434.12,178.65 434.56,178.37 435,178.08 435.45,177.75 435.89,177.4 436.34,177 436.78,176.56 437.23,176.05 437.67,175.48 438.12,174.82 438.56,174.05 439.01,173.17 439.45,172.15 439.9,170.96 440.34,169.6 440.78,168.03 441.23,166.24 441.67,164.2 442.12,161.9 442.56,159.33 443.01,156.48 443.45,153.35 443.9,149.94 444.34,146.27 444.79,142.37 445.23,138.26 445.68,133.99 446.12,129.62 446.56,125.21 447.01,120.82 447.45,116.54 447.9,112.45 448.34,108.62 448.79,105.14 449.23,102.09 449.68,99.53 450.12,97.52 450.57,96.12 451.01,95.35 451.46,95.25 451.9,95.8 451.9,184.25" fill="#377eb8" fill-opacity="0.44"/>
<polyline points="254.05,184.25 254.32,184.25 254.58,184.25 254.85,184.25 255.12,184.25 255.38,184.25 255.65,184.25 255.92,184.25 256.18,184.25 256.45,184.25 256.72,184.25 256.98,184.25 257.25,184.25 257.52,184.25 257.78,184.25 258.05,184.25 258.32,184.25 258.58,184.25 258.85,184.25 259.12,184.25 259.39,184.25 259.65,184.25 259.92,184.25 260.19,184.25 260.45,184.25 260.72,184.25 260.99,184.25 261.25,184.25 261.52,184.25 261.79,184.25 262.05,184.25 262.32,184.25 262.59,184.25 262.85,184.25 263.12,184.25 263.39,184.25 263.65,184.25 263.92,184.25 264.19,184.25 264.45,184.25 264.72,184.25 264.99,184.25 265.25,184.25 265.52,184.25 265.79,184.25 266.05,184.25 266.32,184.25 266.59,184.25 266.85,184.25 267.12,184.25 267.39,184.25 267.65,184.25 267.92,184.25 268.19,184.25 268.46,184.25 268.72,184.25 268.99,184.25 269.26,184.25 269.52,184.25 269.79,184.25 270.06,184.25 270.32,184.25 270.59,184.25 270.86,184.25 271.12,184.25 271.39,184.25 271.66,184.25 271.92,184.25 272.19,184.25 272.46,184.25 272.72,184.25 272.99,184.25 273.26,184.25 273.52,184.25 273.79,184.25 274.06,184.25 274.32,184.25 274.59,184.25 274.86,184.25 275.12,184.25 275.39,184.25 275.66,184.25 275.92,184.25 276.19,184.25 276.46,184.25 276.72,184.25 276.99,184.25 277.26,184.25 277.53,184.25 277.79,184.25 279.15,184.25 280.51,184.25 281.87,184.25 283.23,184.24 284.59,184.24 285.95,184.24 287.3,184.24 288.66,184.24 290.02,184.24 291.38,184.24 292.74,184.24 294.1,184.24 295.46,184.24 296.82,184.24 298.18,184.24 299.54,184.24 300.89,184.24 302.25,184.24 303.61,184.24 304.97,184.24 306.33,184.24 307.69,184.23 309.05,184.23 310.41,184.23 311.77,184.23 313.13,184.23 314.48,184.23 315.84,184.23 317.2,184.23 318.56,184.23 319.92,184.23 321.28,184.22 322.64,184.22 324,184.22 325.36,184.22 326.71,184.22 328.07,184.22 329.43,184.22 330.79,184.21 332.15,184.21 333.51,184.21 334.87,184.21 336.23,184.21 337.59,184.2 338.95,184.2 340.3,184.2 341.66,184.2 343.02,184.2 344.38,184.19 345.74,184.19 347.1,184.19 348.46,184.19 349.82,184.18 351.18,184.18 352.54,184.18 353.89,184.18 355.25,184.17 356.61,184.17 357.97,184.17 359.33,184.16 360.69,184.16 362.05,184.16 363.41,184.15 364.77,184.15 366.13,184.15 367.48,184.14 368.84,184.14 370.2,184.14 371.56,184.13 372.92,184.13 374.28,184.13 375.64,184.12 377,184.12 378.36,184.11 379.71,184.11 381.07,184.11 382.43,184.1 383.79,184.1 385.15,184.09 386.51,184.09 387.87,184.09 389.23,184.08 390.59,184.08 391.95,184.07 393.3,184.07 394.66,184.06 396.02,184.06 397.38,184.05 398.74,184.05 400.1,184.04 401.46,184.03 402.82,184.02 404.18,184.01 405.54,184 406.89,183.98 408.25,183.96 409.61,183.93 410.97,183.89 412.33,183.84 412.77,183.82 413.22,183.8 413.66,183.78 414.11,183.75 414.55,183.73 415,183.7 415.44,183.67 415.89,183.64 416.33,183.61 416.78,183.57 417.22,183.53 417.67,183.49 418.11,183.44 418.55,183.39 419,183.34 419.44,183.29 419.89,183.23 420.33,183.17 420.78,183.1 421.22,183.03 421.67,182.96 422.11,182.88 422.56,182.8 423,182.71 423.45,182.62 423.89,182.52 424.33,182.42 424.78,182.31 425.22,182.2 425.67,182.08 426.11,181.95 426.56,181.82 427,181.69 427.45,181.55 427.89,181.4 428.34,181.25 428.78,181.09 429.23,180.93 429.67,180.76 430.11,180.58 430.56,180.4 431,180.21 431.45,180.01 431.89,179.81 432.34,179.6 432.78,179.38 433.23,179.15 433.67,178.91 434.12,178.65 434.56,178.37 435,178.08 435.45,177.75 435.89,177.4 436.34,177 436.78,176.56 437.23,176.05 437.67,175.48 438.12,174.82 438.56,174.05 439.01,173.17 439.45,172.15 439.9,170.96 440.34,169.6 440.78,168.03 441.23,166.24 441.67,164.2 442.12,161.9 442.56,159.33 443.01,156.48 443.45,153.35 443.9,149.94 444.34,146.27 444.79,142.37 445.23,138.26 445.68,133.99 446.12,129.62 446.56,125.21 447.01,120.82 447.45,116.54 447.9,112.45 448.34,108.62 448.79,105.14 449.23,102.09 449.68,99.53 450.12,97.52 450.57,96.12 451.01,95.35 451.46,95.25 451.9,95.8" fill="none" stroke="#377eb8" stroke-width="1.5" stroke-linejoin="round"/>
<polygon points="254.05,184.25 254.05,26.08 254.32,26.08 254.58,26.08 254.85,26.08 255.12,26.08 255.38,26.08 255.65,26.08 255.92,30.41 256.18,57.31 256.45,81.92 256.72,103.55 256.98,121.88 257.25,136.89 257.52,148.77 257.78,157.9 258.05,164.73 258.32,169.71 258.58,173.27 258.85,175.77 259.12,177.52 259.39,178.75 259.65,179.62 259.92,180.26 260.19,180.75 260.45,181.14 260.72,181.46 260.99,181.74 261.25,181.98 261.52,182.2 261.79,182.4 262.05,182.57 262.32,182.73 262.59,182.87 262.85,183 263.12,183.11 263.39,183.21 263.65,183.29 263.92,183.37 264.19,183.44 264.45,183.49 264.72,183.54 264.99,183.58 265.25,183.62 265.52,183.65 265.79,183.68 266.05,183.7 266.32,183.71 266.59,183.73 266.85,183.74 267.12,183.75 267.39,183.76 267.65,183.77 267.92,183.77 268.19,183.78 268.46,183.78 268.72,183.79 268.99,183.79 269.26,183.79 269.52,183.79 269.79,183.79 270.06,183.8 270.32,183.8 270.59,183.8 270.86,183.8 271.12,183.8 271.39,183.8 271.66,183.8 271.92,183.8 272.19,183.8 272.46,183.8 272.72,183.8 272.99,183.8 273.26,183.81 273.52,183.81 273.79,183.81 274.06,183.81 274.32,183.81 274.59,183.81 274.86,183.81 275.12,183.81 275.39,183.81 275.66,183.81 275.92,183.81 276.19,183.81 276.46,183.81 276.72,183.81 276.99,183.82 277.26,183.82 277.53,183.82 277.79,183.82 279.15,183.82 280.51,183.83 281.87,183.83 283.23,183.83 284.59,183.84 285.95,183.84 287.3,183.85 288.66,183.85 290.02,183.86 291.38,183.87 292.74,183.87 294.1,183.88 295.46,183.88 296.82,183.89 298.18,183.89 299.54,183.9 300.89,183.91 302.25,183.91 303.61,183.92 304.97,183.93 306.33,183.93 307.69,183.94 309.05,183.94 310.41,183.95 311.77,183.96 313.13,183.96 314.48,183.97 315.84,183.98 317.2,183.98 318.56,183.99 319.92,184 321.28,184 322.64,184.01 324,184.02 325.36,184.02 326.71,184.03 328.07,184.03 329.43,184.04 330.79,184.05 332.15,184.05 333.51,184.06 334.87,184.06 336.23,184.07 337.59,184.08 338.95,184.08 340.3,184.09 341.66,184.09 343.02,184.1 344.38,184.1 345.74,184.11 347.1,184.11 348.46,184.12 349.82,184.12 351.18,184.13 352.54,184.13 353.89,184.14 355.25,184.14 356.61,184.14 357.97,184.15 359.33,184.15 360.69,184.16 362.05,184.16 363.41,184.16 364.77,184.17 366.13,184.17 367.48,184.17 368.84,184.18 370.2,184.18 371.56,184.18 372.92,184.19 374.28,184.19 375.64,184.19 377,184.2 378.36,184.2 379.71,184.2 381.07,184.2 382.43,184.2 383.79,184.21 385.15,184.21 386.51,184.21 387.87,184.21 389.23,184.21 390.59,184.22 391.95,184.22 393.3,184.22 394.66,184.22 396.02,184.22 397.38,184.22 398.74,184.23 400.1,184.23 401.46,184.23 402.82,184.23 404.18,184.23 405.54,184.23 406.89,184.23 408.25,184.23 409.61,184.23 410.97,184.24 412.33,184.24 412.77,184.24 413.22,184.24 413.66,184.24 414.11,184.24 414.55,184.24 415,184.24 415.44,184.24 415.89,184.24 416.33,184.24 416.78,184.24 417.22,184.24 417.67,184.24 418.11,184.24 418.55,184.24 419,184.24 419.44,184.24 419.89,184.24 420.33,184.24 420.78,184.24 421.22,184.24 421.67,184.24 422.11,184.24 422.56,184.24 423,184.24 423.45,184.24 423.89,184.24 424.33,184.24 424.78,184.24 425.22,184.24 425.67,184.24 426.11,184.24 426.56,184.24 427,184.24 427.45,184.24 427.89,184.24 428.34,184.24 428.78,184.24 429.23,184.24 429.67,184.24 430.11,184.24 430.56,184.24 431,184.24 431.45,184.24 431.89,184.24 432.34,184.24 432.78,184.24 433.23,184.25 433.67,184.25 434.12,184.25 434.56,184.25 435,184.25 435.45,184.25 435.89,184.25 436.34,184.25 436.78,184.25 437.23,184.25 437.67,184.25 438.12,184.25 438.56,184.25 439.01,184.25 439.45,184.25 439.9,184.25 440.34,184.25 440.78,184.25 441.23,184.25 441.67,184.25 442.12,184.25 442.56,184.25 443.01,184.25 443.45,184.25 443.9,184.25 444.34,184.25 444.79,184.25 445.23,184.25 445.68,184.25 446.12,184.25 446.56,184.25 447.01,184.25 447.45,184.25 447.9,184.25 448.34,184.25 448.79,184.25 449.23,184.25 449.68,184.25 450.12,184.25 450.57,184.25 451.01,184.25 451.46,184.25 451.9,184.25 451.9,184.25" fill="#cf1e2d" fill-opacity="0.47"/>
<polyline points="254.05,26.08 254.32,26.08 254.58,26.08 254.85,26.08 255.12,26.08 255.38,26.08 255.65,26.08 255.92,30.41 256.18,57.31 256.45,81.92 256.72,103.55 256.98,121.88 257.25,136.89 257.52,148.77 257.78,157.9 258.05,164.73 258.32,169.71 258.58,173.27 258.85,175.77 259.12,177.52 259.39,178.75 259.65,179.62 259.92,180.26 260.19,180.75 260.45,181.14 260.72,181.46 260.99,181.74 261.25,181.98 261.52,182.2 261.79,182.4 262.05,182.57 262.32,182.73 262.59,182.87 262.85,183 263.12,183.11 263.39,183.21 263.65,183.29 263.92,183.37 264.19,183.44 264.45,183.49 264.72,183.54 264.99,183.58 265.25,183.62 265.52,183.65 265.79,183.68 266.05,183.7 266.32,183.71 266.59,183.73 266.85,183.74 267.12,183.75 267.39,183.76 267.65,183.77 267.92,183.77 268.19,183.78 268.46,183.78 268.72,183.79 268.99,183.79 269.26,183.79 269.52,183.79 269.79,183.79 270.06,183.8 270.32,183.8 270.59,183.8 270.86,183.8 271.12,183.8 271.39,183.8 271.66,183.8 271.92,183.8 272.19,183.8 272.46,183.8 272.72,183.8 272.99,183.8 273.26,183.81 273.52,183.81 273.79,183.81 274.06,183.81 274.32,183.81 274.59,183.81 274.86,183.81 275.12,183.81 275.39,183.81 275.66,183.81 275.92,183.81 276.19,183.81 276.46,183.81 276.72,183.81 276.99,183.82 277.26,183.82 277.53,183.82 277.79,183.82 279.15,183.82 280.51,183.83 281.87,183.83 283.23,183.83 284.59,183.84 285.95,183.84 287.3,183.85 288.66,183.85 290.02,183.86 291.38,183.87 292.74,183.87 294.1,183.88 295.46,183.88 296.82,183.89 298.18,183.89 299.54,183.9 300.89,183.91 302.25,183.91 303.61,183.92 304.97,183.93 306.33,183.93 307.69,183.94 309.05,183.94 310.41,183.95 311.77,183.96 313.13,183.96 314.48,183.97 315.84,183.98 317.2,183.98 318.56,183.99 319.92,184 321.28,184 322.64,184.01 324,184.02 325.36,184.02 326.71,184.03 328.07,184.03 329.43,184.04 330.79,184.05 332.15,184.05 333.51,184.06 334.87,184.06 336.23,184.07 337.59,184.08 338.95,184.08 340.3,184.09 341.66,184.09 343.02,184.1 344.38,184.1 345.74,184.11 347.1,184.11 348.46,184.12 349.82,184.12 351.18,184.13 352.54,184.13 353.89,184.14 355.25,184.14 356.61,184.14 357.97,184.15 359.33,184.15 360.69,184.16 362.05,184.16 363.41,184.16 364.77,184.17 366.13,184.17 367.48,184.17 368.84,184.18 370.2,184.18 371.56,184.18 372.92,184.19 374.28,184.19 375.64,184.19 377,184.2 378.36,184.2 379.71,184.2 381.07,184.2 382.43,184.2 383.79,184.21 385.15,184.21 386.51,184.21 387.87,184.21 389.23,184.21 390.59,184.22 391.95,184.22 393.3,184.22 394.66,184.22 396.02,184.22 397.38,184.22 398.74,184.23 400.1,184.23 401.46,184.23 402.82,184.23 404.18,184.23 405.54,184.23 406.89,184.23 408.25,184.23 409.61,184.23 410.97,184.24 412.33,184.24 412.77,184.24 413.22,184.24 413.66,184.24 414.11,184.24 414.55,184.24 415,184.24 415.44,184.24 415.89,184.24 416.33,184.24 416.78,184.24 417.22,184.24 417.67,184.24 418.11,184.24 418.55,184.24 419,184.24 419.44,184.24 419.89,184.24 420.33,184.24 420.78,184.24 421.22,184.24 421.67,184.24 422.11,184.24 422.56,184.24 423,184.24 423.45,184.24 423.89,184.24 424.33,184.24 424.78,184.24 425.22,184.24 425.67,184.24 426.11,184.24 426.56,184.24 427,184.24 427.45,184.24 427.89,184.24 428.34,184.24 428.78,184.24 429.23,184.24 429.67,184.24 430.11,184.24 430.56,184.24 431,184.24 431.45,184.24 431.89,184.24 432.34,184.24 432.78,184.24 433.23,184.25 433.67,184.25 434.12,184.25 434.56,184.25 435,184.25 435.45,184.25 435.89,184.25 436.34,184.25 436.78,184.25 437.23,184.25 437.67,184.25 438.12,184.25 438.56,184.25 439.01,184.25 439.45,184.25 439.9,184.25 440.34,184.25 440.78,184.25 441.23,184.25 441.67,184.25 442.12,184.25 442.56,184.25 443.01,184.25 443.45,184.25 443.9,184.25 444.34,184.25 444.79,184.25 445.23,184.25 445.68,184.25 446.12,184.25 446.56,184.25 447.01,184.25 447.45,184.25 447.9,184.25 448.34,184.25 448.79,184.25 449.23,184.25 449.68,184.25 450.12,184.25 450.57,184.25 451.01,184.25 451.46,184.25 451.9,184.25" fill="none" stroke="#e5221b" stroke-width="1.5" stroke-linejoin="round"/>
<path d="M364.45 184.25v-4.4h0.6v4.4zM370.45 184.25v-4.4h0.6v4.4zM381.85 184.25v-4.4h0.6v4.4zM387.85 184.25v-4.4h0.6v4.4zM388.45 184.25v-4.4h0.6v4.4zM401.65 184.25v-4.4h0.6v4.4zM402.85 184.25v-4.4h0.6v4.4zM403.45 184.25v-4.4h0.6v4.4zM410.05 184.25v-4.4h0.6v4.4zM411.85 184.25v-4.4h0.6v4.4zM413.65 184.25v-4.4h0.6v4.4zM420.85 184.25v-4.4h0.6v4.4zM421.45 184.25v-4.4h0.6v4.4zM425.65 184.25v-4.4h0.6v4.4zM432.25 184.25v-4.4h0.6v4.4zM433.45 184.25v-4.4h0.6v4.4zM434.05 184.25v-4.4h0.6v4.4zM435.85 184.25v-4.4h0.6v4.4z" fill="#377eb8" fill-opacity="0.5"/>
<path d="M368.05 184.25v-4.4h0.6v4.4zM375.85 184.25v-4.4h0.6v4.4zM396.25 184.25v-4.4h0.6v4.4zM414.25 184.25v-4.4h0.6v4.4zM417.85 184.25v-4.4h0.6v4.4zM424.45 184.25v-4.4h0.6v4.4zM427.45 184.25v-4.4h0.6v4.4zM438.25 184.25v-4.4h0.6v4.4z" fill="#377eb8" fill-opacity="0.8"/>
<path d="M406.45 184.25v-4.4h0.6v4.4zM422.05 184.25v-4.4h0.6v4.4zM431.05 184.25v-4.4h0.6v4.4zM432.85 184.25v-4.4h0.6v4.4zM436.45 184.25v-4.4h0.6v4.4zM437.05 184.25v-4.4h0.6v4.4z" fill="#377eb8" fill-opacity="0.9"/>
<path d="M437.65 184.25v-4.4h0.6v4.4zM439.45 184.25v-4.4h0.6v4.4zM440.65 184.25v-4.4h0.6v4.4zM441.25 184.25v-4.4h0.6v4.4zM441.85 184.25v-4.4h0.6v4.4zM442.45 184.25v-4.4h0.6v4.4zM443.05 184.25v-4.4h0.6v4.4zM443.65 184.25v-4.4h0.6v4.4zM444.25 184.25v-4.4h0.6v4.4zM444.85 184.25v-4.4h0.6v4.4zM445.45 184.25v-4.4h0.6v4.4zM446.05 184.25v-4.4h0.6v4.4zM446.65 184.25v-4.4h0.6v4.4zM447.25 184.25v-4.4h0.6v4.4zM447.85 184.25v-4.4h0.6v4.4zM448.45 184.25v-4.4h0.6v4.4zM449.05 184.25v-4.4h0.6v4.4zM449.65 184.25v-4.4h0.6v4.4zM450.25 184.25v-4.4h0.6v4.4zM450.85 184.25v-4.4h0.6v4.4zM451.45 184.25v-4.4h0.6v4.4z" fill="#377eb8" fill-opacity="1.0"/>
<path d="M404.65 184.25v-4.4h0.6v4.4zM418.45 184.25v-4.4h0.6v4.4zM426.85 184.25v-4.4h0.6v4.4zM428.65 184.25v-4.4h0.6v4.4zM430.45 184.25v-4.4h0.6v4.4z" fill="#4875a8" fill-opacity="0.9"/>
<path d="M428.05 184.25v-4.4h0.6v4.4zM434.65 184.25v-4.4h0.6v4.4zM435.25 184.25v-4.4h0.6v4.4zM438.85 184.25v-4.4h0.6v4.4zM440.05 184.25v-4.4h0.6v4.4z" fill="#4875a8" fill-opacity="1.0"/>
<path d="M376.45 184.25v-4.4h0.6v4.4zM408.85 184.25v-4.4h0.6v4.4zM414.85 184.25v-4.4h0.6v4.4zM431.65 184.25v-4.4h0.6v4.4z" fill="#6b6289" fill-opacity="0.8"/>
<path d="M423.85 184.25v-4.4h0.6v4.4z" fill="#6b6289" fill-opacity="0.9"/>
<path d="M429.25 184.25v-4.4h0.6v4.4z" fill="#6b6289" fill-opacity="1.0"/>
<path d="M419.05 184.25v-4.4h0.6v4.4zM429.85 184.25v-4.4h0.6v4.4z" fill="#b13e4a" fill-opacity="0.8"/>
<path d="M425.05 184.25v-4.4h0.6v4.4z" fill="#b13e4a" fill-opacity="0.9"/>
<path d="M273.25 184.25v-4.4h0.6v4.4zM276.25 184.25v-4.4h0.6v4.4zM277.45 184.25v-4.4h0.6v4.4zM282.25 184.25v-4.4h0.6v4.4zM282.85 184.25v-4.4h0.6v4.4zM283.45 184.25v-4.4h0.6v4.4zM287.05 184.25v-4.4h0.6v4.4zM287.65 184.25v-4.4h0.6v4.4zM288.25 184.25v-4.4h0.6v4.4zM291.85 184.25v-4.4h0.6v4.4zM292.45 184.25v-4.4h0.6v4.4zM293.65 184.25v-4.4h0.6v4.4zM295.45 184.25v-4.4h0.6v4.4zM296.65 184.25v-4.4h0.6v4.4zM297.25 184.25v-4.4h0.6v4.4zM298.45 184.25v-4.4h0.6v4.4zM302.05 184.25v-4.4h0.6v4.4zM303.85 184.25v-4.4h0.6v4.4zM305.05 184.25v-4.4h0.6v4.4zM308.65 184.25v-4.4h0.6v4.4zM309.25 184.25v-4.4h0.6v4.4zM311.05 184.25v-4.4h0.6v4.4zM312.85 184.25v-4.4h0.6v4.4zM313.45 184.25v-4.4h0.6v4.4zM315.25 184.25v-4.4h0.6v4.4zM318.85 184.25v-4.4h0.6v4.4zM319.45 184.25v-4.4h0.6v4.4zM321.85 184.25v-4.4h0.6v4.4zM322.45 184.25v-4.4h0.6v4.4zM323.65 184.25v-4.4h0.6v4.4zM324.25 184.25v-4.4h0.6v4.4zM324.85 184.25v-4.4h0.6v4.4zM325.45 184.25v-4.4h0.6v4.4zM330.25 184.25v-4.4h0.6v4.4zM331.45 184.25v-4.4h0.6v4.4zM332.65 184.25v-4.4h0.6v4.4zM333.85 184.25v-4.4h0.6v4.4zM339.25 184.25v-4.4h0.6v4.4zM340.45 184.25v-4.4h0.6v4.4zM341.65 184.25v-4.4h0.6v4.4zM343.45 184.25v-4.4h0.6v4.4zM345.85 184.25v-4.4h0.6v4.4zM347.05 184.25v-4.4h0.6v4.4zM347.65 184.25v-4.4h0.6v4.4zM352.45 184.25v-4.4h0.6v4.4zM354.25 184.25v-4.4h0.6v4.4zM356.65 184.25v-4.4h0.6v4.4zM358.45 184.25v-4.4h0.6v4.4zM359.05 184.25v-4.4h0.6v4.4zM359.65 184.25v-4.4h0.6v4.4zM360.25 184.25v-4.4h0.6v4.4zM371.65 184.25v-4.4h0.6v4.4zM374.05 184.25v-4.4h0.6v4.4zM374.65 184.25v-4.4h0.6v4.4zM381.25 184.25v-4.4h0.6v4.4zM386.05 184.25v-4.4h0.6v4.4zM392.05 184.25v-4.4h0.6v4.4zM392.65 184.25v-4.4h0.6v4.4zM393.25 184.25v-4.4h0.6v4.4zM399.25 184.25v-4.4h0.6v4.4zM402.25 184.25v-4.4h0.6v4.4zM407.65 184.25v-4.4h0.6v4.4zM409.45 184.25v-4.4h0.6v4.4zM411.25 184.25v-4.4h0.6v4.4z" fill="#e5221b" fill-opacity="0.5"/>
<path d="M264.25 184.25v-4.4h0.6v4.4zM268.45 184.25v-4.4h0.6v4.4zM270.85 184.25v-4.4h0.6v4.4zM271.45 184.25v-4.4h0.6v4.4zM272.05 184.25v-4.4h0.6v4.4zM275.05 184.25v-4.4h0.6v4.4zM285.25 184.25v-4.4h0.6v4.4zM286.45 184.25v-4.4h0.6v4.4zM288.85 184.25v-4.4h0.6v4.4zM289.45 184.25v-4.4h0.6v4.4zM291.25 184.25v-4.4h0.6v4.4zM306.85 184.25v-4.4h0.6v4.4zM309.85 184.25v-4.4h0.6v4.4zM311.65 184.25v-4.4h0.6v4.4zM315.85 184.25v-4.4h0.6v4.4zM317.65 184.25v-4.4h0.6v4.4zM365.05 184.25v-4.4h0.6v4.4zM378.85 184.25v-4.4h0.6v4.4zM384.85 184.25v-4.4h0.6v4.4zM412.45 184.25v-4.4h0.6v4.4zM413.05 184.25v-4.4h0.6v4.4zM422.65 184.25v-4.4h0.6v4.4z" fill="#e5221b" fill-opacity="0.8"/>
<path d="M261.85 184.25v-4.4h0.6v4.4zM262.45 184.25v-4.4h0.6v4.4zM263.05 184.25v-4.4h0.6v4.4zM264.85 184.25v-4.4h0.6v4.4zM265.45 184.25v-4.4h0.6v4.4zM266.65 184.25v-4.4h0.6v4.4zM267.25 184.25v-4.4h0.6v4.4zM267.85 184.25v-4.4h0.6v4.4zM269.05 184.25v-4.4h0.6v4.4zM269.65 184.25v-4.4h0.6v4.4zM270.25 184.25v-4.4h0.6v4.4zM273.85 184.25v-4.4h0.6v4.4zM275.65 184.25v-4.4h0.6v4.4zM276.85 184.25v-4.4h0.6v4.4zM278.05 184.25v-4.4h0.6v4.4zM278.65 184.25v-4.4h0.6v4.4zM279.25 184.25v-4.4h0.6v4.4zM279.85 184.25v-4.4h0.6v4.4zM280.45 184.25v-4.4h0.6v4.4zM281.05 184.25v-4.4h0.6v4.4zM281.65 184.25v-4.4h0.6v4.4zM284.05 184.25v-4.4h0.6v4.4zM290.65 184.25v-4.4h0.6v4.4zM297.85 184.25v-4.4h0.6v4.4zM299.05 184.25v-4.4h0.6v4.4z" fill="#e5221b" fill-opacity="0.9"/>
<path d="M254.05 184.25v-4.4h0.6v4.4zM254.65 184.25v-4.4h0.6v4.4zM255.25 184.25v-4.4h0.6v4.4zM255.85 184.25v-4.4h0.6v4.4zM256.45 184.25v-4.4h0.6v4.4zM257.05 184.25v-4.4h0.6v4.4zM257.65 184.25v-4.4h0.6v4.4zM258.25 184.25v-4.4h0.6v4.4zM258.85 184.25v-4.4h0.6v4.4zM259.45 184.25v-4.4h0.6v4.4zM260.05 184.25v-4.4h0.6v4.4zM260.65 184.25v-4.4h0.6v4.4zM261.25 184.25v-4.4h0.6v4.4zM263.65 184.25v-4.4h0.6v4.4zM272.65 184.25v-4.4h0.6v4.4zM274.45 184.25v-4.4h0.6v4.4z" fill="#e5221b" fill-opacity="1.0"/>
</g>
<path d="M353.28 184.25V37.8" stroke="#828282" stroke-width="0.85" stroke-dasharray="2.4 1.55" fill="none"/>
<path d="M254.05 37.3V184.25H452.4M254.05 184.25v4.1M254.05 184.25h-4.1M293.62 184.25v4.1M254.05 154.96h-4.1M333.19 184.25v4.1M254.05 125.67h-4.1M372.76 184.25v4.1M254.05 96.38h-4.1M412.33 184.25v4.1M254.05 67.09h-4.1M451.9 184.25v4.1M254.05 37.8h-4.1" stroke="#2b2b2b" stroke-width="1.15" fill="none"/>
<text transform="translate(353.08 33.5) scale(1.005 1) skewY(0.06)" font-size="10.4" text-anchor="middle" font-weight="bold">Transformer(InsightGWAS)</text>
</g>
<g>
<clipPath id="c2"><rect x="477.2" y="37.8" width="198.4" height="146.45"/></clipPath>
<path d="M516.88 37.8V184.25M477.2 154.96H675.6M556.56 37.8V184.25M477.2 125.67H675.6M596.24 37.8V184.25M477.2 96.38H675.6M635.92 37.8V184.25M477.2 67.09H675.6M675.6 37.8V184.25M477.2 37.8H675.6" stroke="#f4f4f4" stroke-width="0.75" stroke-dasharray="1.2 0.6" fill="none"/>
<g clip-path="url(#c2)">
<polygon points="477.2,184.25 477.2,184.25 477.47,184.25 477.74,184.25 478,184.25 478.27,184.25 478.54,184.25 478.81,184.25 479.07,184.25 479.34,184.25 479.61,184.25 479.88,184.25 480.14,184.25 480.41,184.25 480.68,184.25 480.95,184.25 481.21,184.25 481.48,184.25 481.75,184.25 482.02,184.25 482.28,184.25 482.55,184.25 482.82,184.25 483.09,184.25 483.35,184.25 483.62,184.25 483.89,184.25 484.16,184.25 484.42,184.25 484.69,184.25 484.96,184.25 485.23,184.25 485.49,184.25 485.76,184.25 486.03,184.25 486.3,184.25 486.56,184.25 486.83,184.25 487.1,184.25 487.37,184.25 487.63,184.25 487.9,184.25 488.17,184.25 488.44,184.25 488.7,184.25 488.97,184.25 489.24,184.25 489.51,184.25 489.77,184.25 490.04,184.25 490.31,184.25 490.58,184.25 490.84,184.25 491.11,184.25 491.38,184.25 491.65,184.25 491.91,184.25 492.18,184.25 492.45,184.25 492.72,184.25 492.98,184.25 493.25,184.25 493.52,184.25 493.79,184.25 494.05,184.25 494.32,184.25 494.59,184.25 494.86,184.25 495.12,184.25 495.39,184.25 495.66,184.25 495.93,184.25 496.19,184.25 496.46,184.25 496.73,184.25 497,184.25 497.26,184.25 497.53,184.25 497.8,184.25 498.07,184.25 498.33,184.25 498.6,184.25 498.87,184.25 499.14,184.25 499.4,184.25 499.67,184.25 499.94,184.25 500.21,184.25 500.47,184.25 500.74,184.25 501.01,184.25 502.37,184.25 503.73,184.25 505.1,184.25 506.46,184.25 507.82,184.25 509.18,184.25 510.55,184.25 511.91,184.25 513.27,184.25 514.64,184.25 516,184.25 517.36,184.25 518.72,184.25 520.09,184.25 521.45,184.25 522.81,184.25 524.17,184.25 525.54,184.25 526.9,184.25 528.26,184.24 529.63,184.24 530.99,184.24 532.35,184.24 533.71,184.24 535.08,184.24 536.44,184.24 537.8,184.24 539.16,184.24 540.53,184.24 541.89,184.23 543.25,184.23 544.62,184.23 545.98,184.23 547.34,184.23 548.7,184.23 550.07,184.22 551.43,184.22 552.79,184.22 554.16,184.22 555.52,184.21 556.88,184.21 558.24,184.21 559.61,184.2 560.97,184.2 562.33,184.19 563.69,184.19 565.06,184.18 566.42,184.18 567.78,184.17 569.15,184.17 570.51,184.16 571.87,184.15 573.23,184.15 574.6,184.14 575.96,184.13 577.32,184.12 578.68,184.11 580.05,184.1 581.41,184.09 582.77,184.08 584.14,184.07 585.5,184.06 586.86,184.04 588.22,184.03 589.59,184.01 590.95,184 592.31,183.98 593.67,183.97 595.04,183.95 596.4,183.93 597.76,183.91 599.13,183.9 600.49,183.87 601.85,183.85 603.21,183.83 604.58,183.81 605.94,183.78 607.3,183.76 608.67,183.73 610.03,183.7 611.39,183.67 612.75,183.63 614.12,183.6 615.48,183.56 616.84,183.51 618.2,183.46 619.57,183.4 620.93,183.34 622.29,183.26 623.66,183.18 625.02,183.08 626.38,182.97 627.74,182.85 629.11,182.7 630.47,182.54 631.83,182.35 633.19,182.14 634.56,181.91 635.92,181.65 636.37,181.56 636.81,181.46 637.26,181.37 637.7,181.27 638.15,181.16 638.6,181.06 639.04,180.95 639.49,180.83 639.93,180.72 640.38,180.6 640.82,180.48 641.27,180.35 641.72,180.23 642.16,180.1 642.61,179.96 643.05,179.83 643.5,179.69 643.95,179.55 644.39,179.41 644.84,179.26 645.28,179.11 645.73,178.96 646.17,178.81 646.62,178.66 647.07,178.51 647.51,178.35 647.96,178.19 648.4,178.03 648.85,177.88 649.3,177.72 649.74,177.55 650.19,177.39 650.63,177.23 651.08,177.06 651.52,176.9 651.97,176.73 652.42,176.55 652.86,176.38 653.31,176.2 653.75,176.01 654.2,175.82 654.65,175.62 655.09,175.41 655.54,175.18 655.98,174.94 656.43,174.67 656.87,174.38 657.32,174.07 657.77,173.71 658.21,173.32 658.66,172.88 659.1,172.39 659.55,171.84 660,171.22 660.44,170.53 660.89,169.76 661.33,168.91 661.78,167.96 662.22,166.91 662.67,165.76 663.12,164.51 663.56,163.14 664.01,161.68 664.45,160.1 664.9,158.43 665.35,156.67 665.79,154.83 666.24,152.92 666.68,150.96 667.13,148.96 667.57,146.95 668.02,144.95 668.47,142.98 668.91,141.07 669.36,139.24 669.8,137.53 670.25,135.95 670.7,134.54 671.14,133.31 671.59,132.29 672.03,131.49 672.48,130.93 672.92,130.62 673.37,130.57 673.82,130.78 674.26,131.25 674.71,131.96 675.15,132.92 675.6,134.1 675.6,184.25" fill="#377eb8" fill-opacity="0.44"/>
<polyline points="477.2,184.25 477.47,184.25 477.74,184.25 478,184.25 478.27,184.25 478.54,184.25 478.81,184.25 479.07,184.25 479.34,184.25 479.61,184.25 479.88,184.25 480.14,184.25 480.41,184.25 480.68,184.25 480.95,184.25 481.21,184.25 481.48,184.25 481.75,184.25 482.02,184.25 482.28,184.25 482.55,184.25 482.82,184.25 483.09,184.25 483.35,184.25 483.62,184.25 483.89,184.25 484.16,184.25 484.42,184.25 484.69,184.25 484.96,184.25 485.23,184.25 485.49,184.25 485.76,184.25 486.03,184.25 486.3,184.25 486.56,184.25 486.83,184.25 487.1,184.25 487.37,184.25 487.63,184.25 487.9,184.25 488.17,184.25 488.44,184.25 488.7,184.25 488.97,184.25 489.24,184.25 489.51,184.25 489.77,184.25 490.04,184.25 490.31,184.25 490.58,184.25 490.84,184.25 491.11,184.25 491.38,184.25 491.65,184.25 491.91,184.25 492.18,184.25 492.45,184.25 492.72,184.25 492.98,184.25 493.25,184.25 493.52,184.25 493.79,184.25 494.05,184.25 494.32,184.25 494.59,184.25 494.86,184.25 495.12,184.25 495.39,184.25 495.66,184.25 495.93,184.25 496.19,184.25 496.46,184.25 496.73,184.25 497,184.25 497.26,184.25 497.53,184.25 497.8,184.25 498.07,184.25 498.33,184.25 498.6,184.25 498.87,184.25 499.14,184.25 499.4,184.25 499.67,184.25 499.94,184.25 500.21,184.25 500.47,184.25 500.74,184.25 501.01,184.25 502.37,184.25 503.73,184.25 505.1,184.25 506.46,184.25 507.82,184.25 509.18,184.25 510.55,184.25 511.91,184.25 513.27,184.25 514.64,184.25 516,184.25 517.36,184.25 518.72,184.25 520.09,184.25 521.45,184.25 522.81,184.25 524.17,184.25 525.54,184.25 526.9,184.25 528.26,184.24 529.63,184.24 530.99,184.24 532.35,184.24 533.71,184.24 535.08,184.24 536.44,184.24 537.8,184.24 539.16,184.24 540.53,184.24 541.89,184.23 543.25,184.23 544.62,184.23 545.98,184.23 547.34,184.23 548.7,184.23 550.07,184.22 551.43,184.22 552.79,184.22 554.16,184.22 555.52,184.21 556.88,184.21 558.24,184.21 559.61,184.2 560.97,184.2 562.33,184.19 563.69,184.19 565.06,184.18 566.42,184.18 567.78,184.17 569.15,184.17 570.51,184.16 571.87,184.15 573.23,184.15 574.6,184.14 575.96,184.13 577.32,184.12 578.68,184.11 580.05,184.1 581.41,184.09 582.77,184.08 584.14,184.07 585.5,184.06 586.86,184.04 588.22,184.03 589.59,184.01 590.95,184 592.31,183.98 593.67,183.97 595.04,183.95 596.4,183.93 597.76,183.91 599.13,183.9 600.49,183.87 601.85,183.85 603.21,183.83 604.58,183.81 605.94,183.78 607.3,183.76 608.67,183.73 610.03,183.7 611.39,183.67 612.75,183.63 614.12,183.6 615.48,183.56 616.84,183.51 618.2,183.46 619.57,183.4 620.93,183.34 622.29,183.26 623.66,183.18 625.02,183.08 626.38,182.97 627.74,182.85 629.11,182.7 630.47,182.54 631.83,182.35 633.19,182.14 634.56,181.91 635.92,181.65 636.37,181.56 636.81,181.46 637.26,181.37 637.7,181.27 638.15,181.16 638.6,181.06 639.04,180.95 639.49,180.83 639.93,180.72 640.38,180.6 640.82,180.48 641.27,180.35 641.72,180.23 642.16,180.1 642.61,179.96 643.05,179.83 643.5,179.69 643.95,179.55 644.39,179.41 644.84,179.26 645.28,179.11 645.73,178.96 646.17,178.81 646.62,178.66 647.07,178.51 647.51,178.35 647.96,178.19 648.4,178.03 648.85,177.88 649.3,177.72 649.74,177.55 650.19,177.39 650.63,177.23 651.08,177.06 651.52,176.9 651.97,176.73 652.42,176.55 652.86,176.38 653.31,176.2 653.75,176.01 654.2,175.82 654.65,175.62 655.09,175.41 655.54,175.18 655.98,174.94 656.43,174.67 656.87,174.38 657.32,174.07 657.77,173.71 658.21,173.32 658.66,172.88 659.1,172.39 659.55,171.84 660,171.22 660.44,170.53 660.89,169.76 661.33,168.91 661.78,167.96 662.22,166.91 662.67,165.76 663.12,164.51 663.56,163.14 664.01,161.68 664.45,160.1 664.9,158.43 665.35,156.67 665.79,154.83 666.24,152.92 666.68,150.96 667.13,148.96 667.57,146.95 668.02,144.95 668.47,142.98 668.91,141.07 669.36,139.24 669.8,137.53 670.25,135.95 670.7,134.54 671.14,133.31 671.59,132.29 672.03,131.49 672.48,130.93 672.92,130.62 673.37,130.57 673.82,130.78 674.26,131.25 674.71,131.96 675.15,132.92 675.6,134.1" fill="none" stroke="#377eb8" stroke-width="1.5" stroke-linejoin="round"/>
<polygon points="477.2,184.25 477.2,26.08 477.47,26.08 477.74,26.08 478,26.08 478.27,26.08 478.54,26.08 478.81,26.08 479.07,26.08 479.34,45.35 479.61,65.33 479.88,84.08 480.14,101.14 480.41,116.24 480.68,129.26 480.95,140.22 481.21,149.23 481.48,156.48 481.75,162.2 482.02,166.64 482.28,170.03 482.55,172.59 482.82,174.51 483.09,175.96 483.35,177.05 483.62,177.9 483.89,178.56 484.16,179.1 484.42,179.55 484.69,179.93 484.96,180.28 485.23,180.59 485.49,180.87 485.76,181.13 486.03,181.38 486.3,181.6 486.56,181.81 486.83,182.01 487.1,182.19 487.37,182.35 487.63,182.51 487.9,182.65 488.17,182.77 488.44,182.89 488.7,182.99 488.97,183.09 489.24,183.17 489.51,183.25 489.77,183.32 490.04,183.38 490.31,183.44 490.58,183.48 490.84,183.53 491.11,183.56 491.38,183.6 491.65,183.63 491.91,183.65 492.18,183.67 492.45,183.69 492.72,183.71 492.98,183.72 493.25,183.74 493.52,183.75 493.79,183.76 494.05,183.76 494.32,183.77 494.59,183.78 494.86,183.78 495.12,183.79 495.39,183.79 495.66,183.79 495.93,183.79 496.19,183.8 496.46,183.8 496.73,183.8 497,183.8 497.26,183.8 497.53,183.81 497.8,183.81 498.07,183.81 498.33,183.81 498.6,183.81 498.87,183.81 499.14,183.81 499.4,183.81 499.67,183.81 499.94,183.81 500.21,183.81 500.47,183.82 500.74,183.82 501.01,183.82 502.37,183.82 503.73,183.83 505.1,183.83 506.46,183.83 507.82,183.84 509.18,183.84 510.55,183.85 511.91,183.85 513.27,183.86 514.64,183.87 516,183.87 517.36,183.88 518.72,183.88 520.09,183.89 521.45,183.89 522.81,183.9 524.17,183.91 525.54,183.91 526.9,183.92 528.26,183.93 529.63,183.93 530.99,183.94 532.35,183.94 533.71,183.95 535.08,183.96 536.44,183.96 537.8,183.97 539.16,183.98 540.53,183.98 541.89,183.99 543.25,184 544.62,184 545.98,184.01 547.34,184.02 548.7,184.02 550.07,184.03 551.43,184.03 552.79,184.04 554.16,184.05 555.52,184.05 556.88,184.06 558.24,184.06 559.61,184.07 560.97,184.08 562.33,184.08 563.69,184.09 565.06,184.09 566.42,184.1 567.78,184.1 569.15,184.11 570.51,184.11 571.87,184.12 573.23,184.12 574.6,184.13 575.96,184.13 577.32,184.14 578.68,184.14 580.05,184.14 581.41,184.15 582.77,184.15 584.14,184.16 585.5,184.16 586.86,184.16 588.22,184.17 589.59,184.17 590.95,184.17 592.31,184.18 593.67,184.18 595.04,184.18 596.4,184.19 597.76,184.19 599.13,184.19 600.49,184.2 601.85,184.2 603.21,184.2 604.58,184.2 605.94,184.2 607.3,184.21 608.67,184.21 610.03,184.21 611.39,184.21 612.75,184.21 614.12,184.22 615.48,184.22 616.84,184.22 618.2,184.22 619.57,184.22 620.93,184.22 622.29,184.23 623.66,184.23 625.02,184.23 626.38,184.23 627.74,184.23 629.11,184.23 630.47,184.23 631.83,184.23 633.19,184.23 634.56,184.24 635.92,184.24 636.37,184.24 636.81,184.24 637.26,184.24 637.7,184.24 638.15,184.24 638.6,184.24 639.04,184.24 639.49,184.24 639.93,184.24 640.38,184.24 640.82,184.24 641.27,184.24 641.72,184.24 642.16,184.24 642.61,184.24 643.05,184.24 643.5,184.24 643.95,184.24 644.39,184.24 644.84,184.24 645.28,184.24 645.73,184.24 646.17,184.24 646.62,184.24 647.07,184.24 647.51,184.24 647.96,184.24 648.4,184.24 648.85,184.24 649.3,184.24 649.74,184.24 650.19,184.24 650.63,184.24 651.08,184.24 651.52,184.24 651.97,184.24 652.42,184.24 652.86,184.24 653.31,184.24 653.75,184.24 654.2,184.24 654.65,184.24 655.09,184.24 655.54,184.24 655.98,184.24 656.43,184.24 656.87,184.25 657.32,184.25 657.77,184.25 658.21,184.25 658.66,184.25 659.1,184.25 659.55,184.25 660,184.25 660.44,184.25 660.89,184.25 661.33,184.25 661.78,184.25 662.22,184.25 662.67,184.25 663.12,184.25 663.56,184.25 664.01,184.25 664.45,184.25 664.9,184.25 665.35,184.25 665.79,184.25 666.24,184.25 666.68,184.25 667.13,184.25 667.57,184.25 668.02,184.25 668.47,184.25 668.91,184.25 669.36,184.25 669.8,184.25 670.25,184.25 670.7,184.25 671.14,184.25 671.59,184.25 672.03,184.25 672.48,184.25 672.92,184.25 673.37,184.25 673.82,184.25 674.26,184.25 674.71,184.25 675.15,184.25 675.6,184.25 675.6,184.25" fill="#cf1e2d" fill-opacity="0.47"/>
<polyline points="477.2,26.08 477.47,26.08 477.74,26.08 478,26.08 478.27,26.08 478.54,26.08 478.81,26.08 479.07,26.08 479.34,45.35 479.61,65.33 479.88,84.08 480.14,101.14 480.41,116.24 480.68,129.26 480.95,140.22 481.21,149.23 481.48,156.48 481.75,162.2 482.02,166.64 482.28,170.03 482.55,172.59 482.82,174.51 483.09,175.96 483.35,177.05 483.62,177.9 483.89,178.56 484.16,179.1 484.42,179.55 484.69,179.93 484.96,180.28 485.23,180.59 485.49,180.87 485.76,181.13 486.03,181.38 486.3,181.6 486.56,181.81 486.83,182.01 487.1,182.19 487.37,182.35 487.63,182.51 487.9,182.65 488.17,182.77 488.44,182.89 488.7,182.99 488.97,183.09 489.24,183.17 489.51,183.25 489.77,183.32 490.04,183.38 490.31,183.44 490.58,183.48 490.84,183.53 491.11,183.56 491.38,183.6 491.65,183.63 491.91,183.65 492.18,183.67 492.45,183.69 492.72,183.71 492.98,183.72 493.25,183.74 493.52,183.75 493.79,183.76 494.05,183.76 494.32,183.77 494.59,183.78 494.86,183.78 495.12,183.79 495.39,183.79 495.66,183.79 495.93,183.79 496.19,183.8 496.46,183.8 496.73,183.8 497,183.8 497.26,183.8 497.53,183.81 497.8,183.81 498.07,183.81 498.33,183.81 498.6,183.81 498.87,183.81 499.14,183.81 499.4,183.81 499.67,183.81 499.94,183.81 500.21,183.81 500.47,183.82 500.74,183.82 501.01,183.82 502.37,183.82 503.73,183.83 505.1,183.83 506.46,183.83 507.82,183.84 509.18,183.84 510.55,183.85 511.91,183.85 513.27,183.86 514.64,183.87 516,183.87 517.36,183.88 518.72,183.88 520.09,183.89 521.45,183.89 522.81,183.9 524.17,183.91 525.54,183.91 526.9,183.92 528.26,183.93 529.63,183.93 530.99,183.94 532.35,183.94 533.71,183.95 535.08,183.96 536.44,183.96 537.8,183.97 539.16,183.98 540.53,183.98 541.89,183.99 543.25,184 544.62,184 545.98,184.01 547.34,184.02 548.7,184.02 550.07,184.03 551.43,184.03 552.79,184.04 554.16,184.05 555.52,184.05 556.88,184.06 558.24,184.06 559.61,184.07 560.97,184.08 562.33,184.08 563.69,184.09 565.06,184.09 566.42,184.1 567.78,184.1 569.15,184.11 570.51,184.11 571.87,184.12 573.23,184.12 574.6,184.13 575.96,184.13 577.32,184.14 578.68,184.14 580.05,184.14 581.41,184.15 582.77,184.15 584.14,184.16 585.5,184.16 586.86,184.16 588.22,184.17 589.59,184.17 590.95,184.17 592.31,184.18 593.67,184.18 595.04,184.18 596.4,184.19 597.76,184.19 599.13,184.19 600.49,184.2 601.85,184.2 603.21,184.2 604.58,184.2 605.94,184.2 607.3,184.21 608.67,184.21 610.03,184.21 611.39,184.21 612.75,184.21 614.12,184.22 615.48,184.22 616.84,184.22 618.2,184.22 619.57,184.22 620.93,184.22 622.29,184.23 623.66,184.23 625.02,184.23 626.38,184.23 627.74,184.23 629.11,184.23 630.47,184.23 631.83,184.23 633.19,184.23 634.56,184.24 635.92,184.24 636.37,184.24 636.81,184.24 637.26,184.24 637.7,184.24 638.15,184.24 638.6,184.24 639.04,184.24 639.49,184.24 639.93,184.24 640.38,184.24 640.82,184.24 641.27,184.24 641.72,184.24 642.16,184.24 642.61,184.24 643.05,184.24 643.5,184.24 643.95,184.24 644.39,184.24 644.84,184.24 645.28,184.24 645.73,184.24 646.17,184.24 646.62,184.24 647.07,184.24 647.51,184.24 647.96,184.24 648.4,184.24 648.85,184.24 649.3,184.24 649.74,184.24 650.19,184.24 650.63,184.24 651.08,184.24 651.52,184.24 651.97,184.24 652.42,184.24 652.86,184.24 653.31,184.24 653.75,184.24 654.2,184.24 654.65,184.24 655.09,184.24 655.54,184.24 655.98,184.24 656.43,184.24 656.87,184.25 657.32,184.25 657.77,184.25 658.21,184.25 658.66,184.25 659.1,184.25 659.55,184.25 660,184.25 660.44,184.25 660.89,184.25 661.33,184.25 661.78,184.25 662.22,184.25 662.67,184.25 663.12,184.25 663.56,184.25 664.01,184.25 664.45,184.25 664.9,184.25 665.35,184.25 665.79,184.25 666.24,184.25 666.68,184.25 667.13,184.25 667.57,184.25 668.02,184.25 668.47,184.25 668.91,184.25 669.36,184.25 669.8,184.25 670.25,184.25 670.7,184.25 671.14,184.25 671.59,184.25 672.03,184.25 672.48,184.25 672.92,184.25 673.37,184.25 673.82,184.25 674.26,184.25 674.71,184.25 675.15,184.25 675.6,184.25" fill="none" stroke="#e5221b" stroke-width="1.5" stroke-linejoin="round"/>
<path d="M525.2 184.25v-4.4h0.6v4.4zM541.4 184.25v-4.4h0.6v4.4zM543.8 184.25v-4.4h0.6v4.4zM563 184.25v-4.4h0.6v4.4zM573.2 184.25v-4.4h0.6v4.4zM576.2 184.25v-4.4h0.6v4.4zM578 184.25v-4.4h0.6v4.4zM578.6 184.25v-4.4h0.6v4.4zM581 184.25v-4.4h0.6v4.4zM584.6 184.25v-4.4h0.6v4.4zM586.4 184.25v-4.4h0.6v4.4zM603.8 184.25v-4.4h0.6v4.4zM604.4 184.25v-4.4h0.6v4.4zM607.4 184.25v-4.4h0.6v4.4zM608.6 184.25v-4.4h0.6v4.4zM612.8 184.25v-4.4h0.6v4.4zM614.6 184.25v-4.4h0.6v4.4zM617.6 184.25v-4.4h0.6v4.4zM618.2 184.25v-4.4h0.6v4.4zM619.4 184.25v-4.4h0.6v4.4zM620.6 184.25v-4.4h0.6v4.4zM626.6 184.25v-4.4h0.6v4.4zM630.2 184.25v-4.4h0.6v4.4zM630.8 184.25v-4.4h0.6v4.4zM632 184.25v-4.4h0.6v4.4zM637.4 184.25v-4.4h0.6v4.4zM639.2 184.25v-4.4h0.6v4.4zM639.8 184.25v-4.4h0.6v4.4zM641 184.25v-4.4h0.6v4.4zM641.6 184.25v-4.4h0.6v4.4zM642.8 184.25v-4.4h0.6v4.4zM645.2 184.25v-4.4h0.6v4.4zM647.6 184.25v-4.4h0.6v4.4zM649.4 184.25v-4.4h0.6v4.4zM656.6 184.25v-4.4h0.6v4.4z" fill="#377eb8" fill-opacity="0.5"/>
<path d="M621.8 184.25v-4.4h0.6v4.4zM644 184.25v-4.4h0.6v4.4zM644.6 184.25v-4.4h0.6v4.4zM646.4 184.25v-4.4h0.6v4.4zM650.6 184.25v-4.4h0.6v4.4zM651.2 184.25v-4.4h0.6v4.4zM653.6 184.25v-4.4h0.6v4.4zM654.8 184.25v-4.4h0.6v4.4zM657.2 184.25v-4.4h0.6v4.4zM658.4 184.25v-4.4h0.6v4.4zM659.6 184.25v-4.4h0.6v4.4zM660.2 184.25v-4.4h0.6v4.4z" fill="#377eb8" fill-opacity="0.8"/>
<path d="M624.8 184.25v-4.4h0.6v4.4zM629.6 184.25v-4.4h0.6v4.4zM632.6 184.25v-4.4h0.6v4.4zM648.2 184.25v-4.4h0.6v4.4zM650 184.25v-4.4h0.6v4.4zM654.2 184.25v-4.4h0.6v4.4zM655.4 184.25v-4.4h0.6v4.4zM657.8 184.25v-4.4h0.6v4.4zM659 184.25v-4.4h0.6v4.4zM663.2 184.25v-4.4h0.6v4.4zM663.8 184.25v-4.4h0.6v4.4z" fill="#377eb8" fill-opacity="0.9"/>
<path d="M648.8 184.25v-4.4h0.6v4.4zM660.8 184.25v-4.4h0.6v4.4zM662.6 184.25v-4.4h0.6v4.4zM664.4 184.25v-4.4h0.6v4.4zM665 184.25v-4.4h0.6v4.4zM665.6 184.25v-4.4h0.6v4.4zM666.2 184.25v-4.4h0.6v4.4zM666.8 184.25v-4.4h0.6v4.4zM668.6 184.25v-4.4h0.6v4.4zM669.2 184.25v-4.4h0.6v4.4zM669.8 184.25v-4.4h0.6v4.4zM670.4 184.25v-4.4h0.6v4.4zM671 184.25v-4.4h0.6v4.4zM671.6 184.25v-4.4h0.6v4.4zM672.2 184.25v-4.4h0.6v4.4zM672.8 184.25v-4.4h0.6v4.4zM673.4 184.25v-4.4h0.6v4.4zM674 184.25v-4.4h0.6v4.4zM674.6 184.25v-4.4h0.6v4.4zM675.2 184.25v-4.4h0.6v4.4z" fill="#377eb8" fill-opacity="1.0"/>
<path d="M549.2 184.25v-4.4h0.6v4.4zM585.2 184.25v-4.4h0.6v4.4zM609.2 184.25v-4.4h0.6v4.4zM616.4 184.25v-4.4h0.6v4.4zM629 184.25v-4.4h0.6v4.4zM636.2 184.25v-4.4h0.6v4.4z" fill="#4875a8" fill-opacity="0.9"/>
<path d="M667.4 184.25v-4.4h0.6v4.4z" fill="#4875a8" fill-opacity="1.0"/>
<path d="M519.2 184.25v-4.4h0.6v4.4z" fill="#5a6c99" fill-opacity="0.9"/>
<path d="M558.2 184.25v-4.4h0.6v4.4zM613.4 184.25v-4.4h0.6v4.4zM618.8 184.25v-4.4h0.6v4.4zM624.2 184.25v-4.4h0.6v4.4zM626 184.25v-4.4h0.6v4.4zM628.4 184.25v-4.4h0.6v4.4zM636.8 184.25v-4.4h0.6v4.4zM640.4 184.25v-4.4h0.6v4.4zM647 184.25v-4.4h0.6v4.4z" fill="#6b6289" fill-opacity="0.8"/>
<path d="M533.6 184.25v-4.4h0.6v4.4zM603.2 184.25v-4.4h0.6v4.4zM633.8 184.25v-4.4h0.6v4.4z" fill="#6b6289" fill-opacity="0.9"/>
<path d="M642.2 184.25v-4.4h0.6v4.4zM668 184.25v-4.4h0.6v4.4z" fill="#6b6289" fill-opacity="1.0"/>
<path d="M515 184.25v-4.4h0.6v4.4zM538.4 184.25v-4.4h0.6v4.4z" fill="#7d5979" fill-opacity="0.9"/>
<path d="M521 184.25v-4.4h0.6v4.4z" fill="#8e506a" fill-opacity="0.9"/>
<path d="M507.8 184.25v-4.4h0.6v4.4zM651.8 184.25v-4.4h0.6v4.4zM656 184.25v-4.4h0.6v4.4zM661.4 184.25v-4.4h0.6v4.4z" fill="#8e506a" fill-opacity="1.0"/>
<path d="M662 184.25v-4.4h0.6v4.4z" fill="#9f475a" fill-opacity="0.9"/>
<path d="M498.8 184.25v-4.4h0.6v4.4zM505.4 184.25v-4.4h0.6v4.4zM545 184.25v-4.4h0.6v4.4zM556.4 184.25v-4.4h0.6v4.4zM562.4 184.25v-4.4h0.6v4.4zM577.4 184.25v-4.4h0.6v4.4zM605.6 184.25v-4.4h0.6v4.4zM623.6 184.25v-4.4h0.6v4.4zM633.2 184.25v-4.4h0.6v4.4zM638.6 184.25v-4.4h0.6v4.4zM652.4 184.25v-4.4h0.6v4.4z" fill="#b13e4a" fill-opacity="0.8"/>
<path d="M500 184.25v-4.4h0.6v4.4zM504.2 184.25v-4.4h0.6v4.4zM510.8 184.25v-4.4h0.6v4.4z" fill="#b13e4a" fill-opacity="0.9"/>
<path d="M573.8 184.25v-4.4h0.6v4.4z" fill="#d42b2b" fill-opacity="0.9"/>
<path d="M504.8 184.25v-4.4h0.6v4.4zM517.4 184.25v-4.4h0.6v4.4zM518 184.25v-4.4h0.6v4.4zM518.6 184.25v-4.4h0.6v4.4zM519.8 184.25v-4.4h0.6v4.4zM522.2 184.25v-4.4h0.6v4.4zM524 184.25v-4.4h0.6v4.4zM525.8 184.25v-4.4h0.6v4.4zM526.4 184.25v-4.4h0.6v4.4zM529.4 184.25v-4.4h0.6v4.4zM530 184.25v-4.4h0.6v4.4zM539.6 184.25v-4.4h0.6v4.4zM540.8 184.25v-4.4h0.6v4.4zM542 184.25v-4.4h0.6v4.4zM543.2 184.25v-4.4h0.6v4.4zM544.4 184.25v-4.4h0.6v4.4zM545.6 184.25v-4.4h0.6v4.4zM547.4 184.25v-4.4h0.6v4.4zM548 184.25v-4.4h0.6v4.4zM549.8 184.25v-4.4h0.6v4.4zM552.2 184.25v-4.4h0.6v4.4zM552.8 184.25v-4.4h0.6v4.4zM560 184.25v-4.4h0.6v4.4zM560.6 184.25v-4.4h0.6v4.4zM561.8 184.25v-4.4h0.6v4.4zM563.6 184.25v-4.4h0.6v4.4zM564.8 184.25v-4.4h0.6v4.4zM565.4 184.25v-4.4h0.6v4.4zM567.8 184.25v-4.4h0.6v4.4zM568.4 184.25v-4.4h0.6v4.4zM575.6 184.25v-4.4h0.6v4.4zM579.8 184.25v-4.4h0.6v4.4zM584 184.25v-4.4h0.6v4.4zM587 184.25v-4.4h0.6v4.4zM588.8 184.25v-4.4h0.6v4.4zM589.4 184.25v-4.4h0.6v4.4zM591.8 184.25v-4.4h0.6v4.4zM592.4 184.25v-4.4h0.6v4.4zM593.6 184.25v-4.4h0.6v4.4zM594.2 184.25v-4.4h0.6v4.4zM595.4 184.25v-4.4h0.6v4.4zM597.2 184.25v-4.4h0.6v4.4zM602.6 184.25v-4.4h0.6v4.4zM609.8 184.25v-4.4h0.6v4.4zM611 184.25v-4.4h0.6v4.4zM611.6 184.25v-4.4h0.6v4.4zM614 184.25v-4.4h0.6v4.4zM617 184.25v-4.4h0.6v4.4zM621.2 184.25v-4.4h0.6v4.4z" fill="#e5221b" fill-opacity="0.5"/>
<path d="M489.8 184.25v-4.4h0.6v4.4zM496.4 184.25v-4.4h0.6v4.4zM497 184.25v-4.4h0.6v4.4zM497.6 184.25v-4.4h0.6v4.4zM500.6 184.25v-4.4h0.6v4.4zM503 184.25v-4.4h0.6v4.4zM506.6 184.25v-4.4h0.6v4.4zM509.6 184.25v-4.4h0.6v4.4zM514.4 184.25v-4.4h0.6v4.4zM516.2 184.25v-4.4h0.6v4.4zM522.8 184.25v-4.4h0.6v4.4zM527 184.25v-4.4h0.6v4.4zM527.6 184.25v-4.4h0.6v4.4zM531.2 184.25v-4.4h0.6v4.4zM531.8 184.25v-4.4h0.6v4.4zM532.4 184.25v-4.4h0.6v4.4zM539 184.25v-4.4h0.6v4.4zM551 184.25v-4.4h0.6v4.4zM554.6 184.25v-4.4h0.6v4.4zM566 184.25v-4.4h0.6v4.4zM585.8 184.25v-4.4h0.6v4.4zM601.4 184.25v-4.4h0.6v4.4zM631.4 184.25v-4.4h0.6v4.4z" fill="#e5221b" fill-opacity="0.8"/>
<path d="M488 184.25v-4.4h0.6v4.4zM490.4 184.25v-4.4h0.6v4.4zM492.8 184.25v-4.4h0.6v4.4zM493.4 184.25v-4.4h0.6v4.4zM494 184.25v-4.4h0.6v4.4zM498.2 184.25v-4.4h0.6v4.4zM499.4 184.25v-4.4h0.6v4.4zM501.2 184.25v-4.4h0.6v4.4zM501.8 184.25v-4.4h0.6v4.4zM502.4 184.25v-4.4h0.6v4.4zM503.6 184.25v-4.4h0.6v4.4zM508.4 184.25v-4.4h0.6v4.4zM509 184.25v-4.4h0.6v4.4zM510.2 184.25v-4.4h0.6v4.4zM512 184.25v-4.4h0.6v4.4zM512.6 184.25v-4.4h0.6v4.4zM513.2 184.25v-4.4h0.6v4.4zM516.8 184.25v-4.4h0.6v4.4zM521.6 184.25v-4.4h0.6v4.4zM528.2 184.25v-4.4h0.6v4.4zM528.8 184.25v-4.4h0.6v4.4zM537.2 184.25v-4.4h0.6v4.4zM537.8 184.25v-4.4h0.6v4.4zM546.8 184.25v-4.4h0.6v4.4zM553.4 184.25v-4.4h0.6v4.4z" fill="#e5221b" fill-opacity="0.9"/>
<path d="M477.2 184.25v-4.4h0.6v4.4zM477.8 184.25v-4.4h0.6v4.4zM478.4 184.25v-4.4h0.6v4.4zM479 184.25v-4.4h0.6v4.4zM479.6 184.25v-4.4h0.6v4.4zM480.2 184.25v-4.4h0.6v4.4zM480.8 184.25v-4.4h0.6v4.4zM481.4 184.25v-4.4h0.6v4.4zM482 184.25v-4.4h0.6v4.4zM482.6 184.25v-4.4h0.6v4.4zM483.2 184.25v-4.4h0.6v4.4zM483.8 184.25v-4.4h0.6v4.4zM484.4 184.25v-4.4h0.6v4.4zM485 184.25v-4.4h0.6v4.4zM485.6 184.25v-4.4h0.6v4.4zM486.2 184.25v-4.4h0.6v4.4zM486.8 184.25v-4.4h0.6v4.4zM487.4 184.25v-4.4h0.6v4.4zM488.6 184.25v-4.4h0.6v4.4zM489.2 184.25v-4.4h0.6v4.4zM491 184.25v-4.4h0.6v4.4zM491.6 184.25v-4.4h0.6v4.4zM492.2 184.25v-4.4h0.6v4.4zM494.6 184.25v-4.4h0.6v4.4zM495.2 184.25v-4.4h0.6v4.4zM495.8 184.25v-4.4h0.6v4.4zM507.2 184.25v-4.4h0.6v4.4zM511.4 184.25v-4.4h0.6v4.4zM515.6 184.25v-4.4h0.6v4.4zM520.4 184.25v-4.4h0.6v4.4zM523.4 184.25v-4.4h0.6v4.4z" fill="#e5221b" fill-opacity="1.0"/>
</g>
<path d="M576.7 184.25V37.8" stroke="#828282" stroke-width="0.85" stroke-dasharray="2.4 1.55" fill="none"/>
<path d="M477.2 37.3V184.25H676.1M477.2 184.25v4.1M477.2 184.25h-4.1M516.88 184.25v4.1M477.2 154.96h-4.1M556.56 184.25v4.1M477.2 125.67h-4.1M596.24 184.25v4.1M477.2 96.38h-4.1M635.92 184.25v4.1M477.2 67.09h-4.1M675.6 184.25v4.1M477.2 37.8h-4.1" stroke="#2b2b2b" stroke-width="1.15" fill="none"/>
<text transform="translate(576.5 33.5) scale(1.005 1) skewY(0.06)" font-size="10.4" text-anchor="middle" font-weight="bold">NN(DeepGWAS)</text>
<text transform="translate(476.9 198.75) scale(0.900 1) skewY(0.06)" font-size="10.0" text-anchor="middle">0.0</text>
<text transform="translate(516.58 198.75) scale(0.900 1) skewY(0.06)" font-size="10.0" text-anchor="middle">0.2</text>
<text transform="translate(556.26 198.75) scale(0.900 1) skewY(0.06)" font-size="10.0" text-anchor="middle">0.4</text>
<text transform="translate(595.94 198.75) scale(0.900 1) skewY(0.06)" font-size="10.0" text-anchor="middle">0.6</text>
<text transform="translate(635.62 198.75) scale(0.900 1) skewY(0.06)" font-size="10.0" text-anchor="middle">0.8</text>
<text transform="translate(675.3 198.75) scale(0.900 1) skewY(0.06)" font-size="10.0" text-anchor="middle">1.0</text>
<text transform="translate(576.3 211.85) scale(1.010 1) skewY(0.06)" font-size="10.4" text-anchor="middle" font-weight="bold">Predicted Score</text>
</g>
<g>
<clipPath id="c3"><rect x="30.9" y="225.05" width="198.5" height="146.45"/></clipPath>
<path d="M70.6 225.05V371.5M30.9 342.21H229.4M110.3 225.05V371.5M30.9 312.92H229.4M150 225.05V371.5M30.9 283.63H229.4M189.7 225.05V371.5M30.9 254.34H229.4M229.4 225.05V371.5M30.9 225.05H229.4" stroke="#f4f4f4" stroke-width="0.75" stroke-dasharray="1.2 0.6" fill="none"/>
<g clip-path="url(#c3)">
<polygon points="30.9,371.5 30.9,368.86 31.17,368.86 31.44,368.86 31.7,368.86 31.97,368.86 32.24,368.86 32.51,368.86 32.77,368.86 33.04,368.86 33.31,368.86 33.58,368.86 33.84,368.86 34.11,368.86 34.38,368.86 34.65,368.86 34.91,368.86 35.18,368.86 35.45,368.86 35.72,368.86 35.99,368.86 36.25,368.86 36.52,368.86 36.79,368.86 37.06,368.86 37.32,368.86 37.59,368.86 37.86,368.86 38.13,368.86 38.39,368.86 38.66,368.86 38.93,368.86 39.2,368.86 39.46,368.86 39.73,368.86 40,368.86 40.27,368.86 40.54,368.86 40.8,368.86 41.07,368.86 41.34,368.86 41.61,368.86 41.87,368.86 42.14,368.86 42.41,368.86 42.68,368.86 42.94,368.86 43.21,368.86 43.48,368.86 43.75,368.86 44.01,368.86 44.28,368.86 44.55,368.86 44.82,368.86 45.08,368.86 45.35,368.86 45.62,368.86 45.89,368.86 46.16,368.86 46.42,368.86 46.69,368.86 46.96,368.86 47.23,368.86 47.49,368.86 47.76,368.86 48.03,368.86 48.3,368.86 48.56,368.86 48.83,368.86 49.1,368.86 49.37,368.86 49.63,368.86 49.9,368.86 50.17,368.86 50.44,368.86 50.71,368.86 50.97,368.86 51.24,368.86 51.51,368.86 51.78,368.86 52.04,368.86 52.31,368.86 52.58,368.86 52.85,368.86 53.11,368.86 53.38,368.86 53.65,368.86 53.92,368.86 54.18,368.86 54.45,368.86 54.72,368.86 56.08,368.86 57.45,368.86 58.81,368.86 60.17,368.86 61.54,368.86 62.9,368.85 64.26,368.85 65.63,368.85 66.99,368.85 68.35,368.84 69.72,368.84 71.08,368.84 72.44,368.83 73.81,368.83 75.17,368.82 76.53,368.81 77.9,368.8 79.26,368.79 80.63,368.78 81.99,368.77 83.35,368.76 84.72,368.75 86.08,368.73 87.44,368.71 88.81,368.7 90.17,368.68 91.53,368.66 92.9,368.64 94.26,368.61 95.62,368.59 96.99,368.57 98.35,368.54 99.71,368.52 101.08,368.49 102.44,368.47 103.8,368.45 105.17,368.42 106.53,368.4 107.89,368.37 109.26,368.35 110.62,368.32 111.98,368.3 113.35,368.27 114.71,368.25 116.07,368.22 117.44,368.19 118.8,368.15 120.16,368.11 121.53,368.06 122.89,368 124.26,367.94 125.62,367.86 126.98,367.77 128.35,367.66 129.71,367.55 131.07,367.42 132.44,367.28 133.8,367.13 135.16,366.97 136.53,366.81 137.89,366.65 139.25,366.5 140.62,366.35 141.98,366.22 143.34,366.11 144.71,366.03 146.07,365.96 147.43,365.92 148.8,365.91 150.16,365.93 151.52,365.97 152.89,366.03 154.25,366.1 155.61,366.19 156.98,366.28 158.34,366.38 159.7,366.47 161.07,366.55 162.43,366.62 163.79,366.67 165.16,366.71 166.52,366.74 167.89,366.75 169.25,366.74 170.61,366.72 171.98,366.68 173.34,366.64 174.7,366.59 176.07,366.53 177.43,366.46 178.79,366.38 180.16,366.28 181.52,366.17 182.88,366.04 184.25,365.87 185.61,365.67 186.97,365.42 188.34,365.12 189.7,364.76 190.15,364.62 190.59,364.48 191.04,364.34 191.48,364.18 191.93,364.02 192.38,363.84 192.82,363.66 193.27,363.48 193.71,363.28 194.16,363.08 194.61,362.87 195.05,362.65 195.5,362.42 195.94,362.19 196.39,361.94 196.84,361.7 197.28,361.44 197.73,361.18 198.18,360.92 198.62,360.64 199.07,360.37 199.51,360.09 199.96,359.81 200.41,359.52 200.85,359.24 201.3,358.95 201.74,358.66 202.19,358.37 202.64,358.08 203.08,357.8 203.53,357.52 203.97,357.24 204.42,356.97 204.87,356.7 205.31,356.44 205.76,356.18 206.2,355.94 206.65,355.7 207.1,355.48 207.54,355.26 207.99,355.06 208.43,354.87 208.88,354.69 209.33,354.52 209.77,354.37 210.22,354.24 210.67,354.12 211.11,354.02 211.56,353.93 212,353.86 212.45,353.81 212.9,353.78 213.34,353.76 213.79,353.77 214.23,353.79 214.68,353.82 215.13,353.88 215.57,353.95 216.02,354.04 216.46,354.15 216.91,354.28 217.36,354.42 217.8,354.57 218.25,354.75 218.69,354.93 219.14,355.14 219.59,355.35 220.03,355.58 220.48,355.82 220.92,356.07 221.37,356.33 221.82,356.6 222.26,356.88 222.71,357.17 223.16,357.47 223.6,357.77 224.05,358.08 224.49,358.39 224.94,358.7 225.39,359.02 225.83,359.34 226.28,359.66 226.72,359.98 227.17,360.3 227.62,360.61 228.06,360.93 228.51,361.24 228.95,361.55 229.4,361.86 229.4,371.5" fill="#377eb8" fill-opacity="0.44"/>
<polyline points="30.9,368.86 31.17,368.86 31.44,368.86 31.7,368.86 31.97,368.86 32.24,368.86 32.51,368.86 32.77,368.86 33.04,368.86 33.31,368.86 33.58,368.86 33.84,368.86 34.11,368.86 34.38,368.86 34.65,368.86 34.91,368.86 35.18,368.86 35.45,368.86 35.72,368.86 35.99,368.86 36.25,368.86 36.52,368.86 36.79,368.86 37.06,368.86 37.32,368.86 37.59,368.86 37.86,368.86 38.13,368.86 38.39,368.86 38.66,368.86 38.93,368.86 39.2,368.86 39.46,368.86 39.73,368.86 40,368.86 40.27,368.86 40.54,368.86 40.8,368.86 41.07,368.86 41.34,368.86 41.61,368.86 41.87,368.86 42.14,368.86 42.41,368.86 42.68,368.86 42.94,368.86 43.21,368.86 43.48,368.86 43.75,368.86 44.01,368.86 44.28,368.86 44.55,368.86 44.82,368.86 45.08,368.86 45.35,368.86 45.62,368.86 45.89,368.86 46.16,368.86 46.42,368.86 46.69,368.86 46.96,368.86 47.23,368.86 47.49,368.86 47.76,368.86 48.03,368.86 48.3,368.86 48.56,368.86 48.83,368.86 49.1,368.86 49.37,368.86 49.63,368.86 49.9,368.86 50.17,368.86 50.44,368.86 50.71,368.86 50.97,368.86 51.24,368.86 51.51,368.86 51.78,368.86 52.04,368.86 52.31,368.86 52.58,368.86 52.85,368.86 53.11,368.86 53.38,368.86 53.65,368.86 53.92,368.86 54.18,368.86 54.45,368.86 54.72,368.86 56.08,368.86 57.45,368.86 58.81,368.86 60.17,368.86 61.54,368.86 62.9,368.85 64.26,368.85 65.63,368.85 66.99,368.85 68.35,368.84 69.72,368.84 71.08,368.84 72.44,368.83 73.81,368.83 75.17,368.82 76.53,368.81 77.9,368.8 79.26,368.79 80.63,368.78 81.99,368.77 83.35,368.76 84.72,368.75 86.08,368.73 87.44,368.71 88.81,368.7 90.17,368.68 91.53,368.66 92.9,368.64 94.26,368.61 95.62,368.59 96.99,368.57 98.35,368.54 99.71,368.52 101.08,368.49 102.44,368.47 103.8,368.45 105.17,368.42 106.53,368.4 107.89,368.37 109.26,368.35 110.62,368.32 111.98,368.3 113.35,368.27 114.71,368.25 116.07,368.22 117.44,368.19 118.8,368.15 120.16,368.11 121.53,368.06 122.89,368 124.26,367.94 125.62,367.86 126.98,367.77 128.35,367.66 129.71,367.55 131.07,367.42 132.44,367.28 133.8,367.13 135.16,366.97 136.53,366.81 137.89,366.65 139.25,366.5 140.62,366.35 141.98,366.22 143.34,366.11 144.71,366.03 146.07,365.96 147.43,365.92 148.8,365.91 150.16,365.93 151.52,365.97 152.89,366.03 154.25,366.1 155.61,366.19 156.98,366.28 158.34,366.38 159.7,366.47 161.07,366.55 162.43,366.62 163.79,366.67 165.16,366.71 166.52,366.74 167.89,366.75 169.25,366.74 170.61,366.72 171.98,366.68 173.34,366.64 174.7,366.59 176.07,366.53 177.43,366.46 178.79,366.38 180.16,366.28 181.52,366.17 182.88,366.04 184.25,365.87 185.61,365.67 186.97,365.42 188.34,365.12 189.7,364.76 190.15,364.62 190.59,364.48 191.04,364.34 191.48,364.18 191.93,364.02 192.38,363.84 192.82,363.66 193.27,363.48 193.71,363.28 194.16,363.08 194.61,362.87 195.05,362.65 195.5,362.42 195.94,362.19 196.39,361.94 196.84,361.7 197.28,361.44 197.73,361.18 198.18,360.92 198.62,360.64 199.07,360.37 199.51,360.09 199.96,359.81 200.41,359.52 200.85,359.24 201.3,358.95 201.74,358.66 202.19,358.37 202.64,358.08 203.08,357.8 203.53,357.52 203.97,357.24 204.42,356.97 204.87,356.7 205.31,356.44 205.76,356.18 206.2,355.94 206.65,355.7 207.1,355.48 207.54,355.26 207.99,355.06 208.43,354.87 208.88,354.69 209.33,354.52 209.77,354.37 210.22,354.24 210.67,354.12 211.11,354.02 211.56,353.93 212,353.86 212.45,353.81 212.9,353.78 213.34,353.76 213.79,353.77 214.23,353.79 214.68,353.82 215.13,353.88 215.57,353.95 216.02,354.04 216.46,354.15 216.91,354.28 217.36,354.42 217.8,354.57 218.25,354.75 218.69,354.93 219.14,355.14 219.59,355.35 220.03,355.58 220.48,355.82 220.92,356.07 221.37,356.33 221.82,356.6 222.26,356.88 222.71,357.17 223.16,357.47 223.6,357.77 224.05,358.08 224.49,358.39 224.94,358.7 225.39,359.02 225.83,359.34 226.28,359.66 226.72,359.98 227.17,360.3 227.62,360.61 228.06,360.93 228.51,361.24 228.95,361.55 229.4,361.86" fill="none" stroke="#377eb8" stroke-width="1.5" stroke-linejoin="round"/>
<polygon points="30.9,371.5 30.9,236.6 31.17,236.44 31.44,236.96 31.7,238.15 31.97,239.99 32.24,242.45 32.51,245.5 32.77,249.09 33.04,253.16 33.31,257.66 33.58,262.53 33.84,267.69 34.11,273.09 34.38,278.65 34.65,284.31 34.91,290 35.18,295.67 35.45,301.26 35.72,306.72 35.99,312.02 36.25,317.1 36.52,321.95 36.79,326.53 37.06,330.84 37.32,334.85 37.59,338.57 37.86,342 38.13,345.13 38.39,347.98 38.66,350.55 38.93,352.86 39.2,354.93 39.46,356.77 39.73,358.4 40,359.84 40.27,361.1 40.54,362.2 40.8,363.17 41.07,364 41.34,364.73 41.61,365.36 41.87,365.91 42.14,366.38 42.41,366.79 42.68,367.15 42.94,367.46 43.21,367.73 43.48,367.97 43.75,368.18 44.01,368.37 44.28,368.54 44.55,368.69 44.82,368.82 45.08,368.94 45.35,369.05 45.62,369.15 45.89,369.25 46.16,369.33 46.42,369.41 46.69,369.49 46.96,369.56 47.23,369.62 47.49,369.68 47.76,369.73 48.03,369.78 48.3,369.83 48.56,369.88 48.83,369.92 49.1,369.96 49.37,369.99 49.63,370.02 49.9,370.05 50.17,370.08 50.44,370.11 50.71,370.13 50.97,370.15 51.24,370.17 51.51,370.19 51.78,370.21 52.04,370.22 52.31,370.24 52.58,370.25 52.85,370.26 53.11,370.27 53.38,370.28 53.65,370.29 53.92,370.3 54.18,370.3 54.45,370.31 54.72,370.31 56.08,370.33 57.45,370.34 58.81,370.34 60.17,370.34 61.54,370.34 62.9,370.34 64.26,370.33 65.63,370.33 66.99,370.33 68.35,370.33 69.72,370.33 71.08,370.33 72.44,370.33 73.81,370.33 75.17,370.33 76.53,370.33 77.9,370.34 79.26,370.34 80.63,370.34 81.99,370.35 83.35,370.35 84.72,370.36 86.08,370.37 87.44,370.37 88.81,370.38 90.17,370.39 91.53,370.4 92.9,370.41 94.26,370.42 95.62,370.43 96.99,370.44 98.35,370.45 99.71,370.46 101.08,370.47 102.44,370.48 103.8,370.5 105.17,370.51 106.53,370.52 107.89,370.54 109.26,370.55 110.62,370.57 111.98,370.58 113.35,370.59 114.71,370.61 116.07,370.62 117.44,370.64 118.8,370.66 120.16,370.67 121.53,370.69 122.89,370.7 124.26,370.72 125.62,370.74 126.98,370.75 128.35,370.77 129.71,370.78 131.07,370.8 132.44,370.82 133.8,370.83 135.16,370.85 136.53,370.87 137.89,370.88 139.25,370.9 140.62,370.91 141.98,370.93 143.34,370.94 144.71,370.96 146.07,370.98 147.43,370.99 148.8,371.01 150.16,371.02 151.52,371.03 152.89,371.05 154.25,371.06 155.61,371.08 156.98,371.09 158.34,371.1 159.7,371.12 161.07,371.13 162.43,371.14 163.79,371.16 165.16,371.17 166.52,371.18 167.89,371.19 169.25,371.2 170.61,371.21 171.98,371.22 173.34,371.24 174.7,371.25 176.07,371.26 177.43,371.27 178.79,371.28 180.16,371.28 181.52,371.29 182.88,371.3 184.25,371.31 185.61,371.32 186.97,371.33 188.34,371.33 189.7,371.34 190.15,371.34 190.59,371.35 191.04,371.35 191.48,371.35 191.93,371.35 192.38,371.36 192.82,371.36 193.27,371.36 193.71,371.36 194.16,371.36 194.61,371.37 195.05,371.37 195.5,371.37 195.94,371.37 196.39,371.37 196.84,371.38 197.28,371.38 197.73,371.38 198.18,371.38 198.62,371.38 199.07,371.39 199.51,371.39 199.96,371.39 200.41,371.39 200.85,371.39 201.3,371.39 201.74,371.4 202.19,371.4 202.64,371.4 203.08,371.4 203.53,371.4 203.97,371.4 204.42,371.41 204.87,371.41 205.31,371.41 205.76,371.41 206.2,371.41 206.65,371.41 207.1,371.42 207.54,371.42 207.99,371.42 208.43,371.42 208.88,371.42 209.33,371.42 209.77,371.42 210.22,371.42 210.67,371.43 211.11,371.43 211.56,371.43 212,371.43 212.45,371.43 212.9,371.43 213.34,371.43 213.79,371.43 214.23,371.44 214.68,371.44 215.13,371.44 215.57,371.44 216.02,371.44 216.46,371.44 216.91,371.44 217.36,371.44 217.8,371.44 218.25,371.45 218.69,371.45 219.14,371.45 219.59,371.45 220.03,371.45 220.48,371.45 220.92,371.45 221.37,371.45 221.82,371.45 222.26,371.45 222.71,371.46 223.16,371.46 223.6,371.46 224.05,371.46 224.49,371.46 224.94,371.46 225.39,371.46 225.83,371.46 226.28,371.46 226.72,371.46 227.17,371.46 227.62,371.46 228.06,371.46 228.51,371.47 228.95,371.47 229.4,371.47 229.4,371.5" fill="#cf1e2d" fill-opacity="0.47"/>
<polyline points="30.9,236.6 31.17,236.44 31.44,236.96 31.7,238.15 31.97,239.99 32.24,242.45 32.51,245.5 32.77,249.09 33.04,253.16 33.31,257.66 33.58,262.53 33.84,267.69 34.11,273.09 34.38,278.65 34.65,284.31 34.91,290 35.18,295.67 35.45,301.26 35.72,306.72 35.99,312.02 36.25,317.1 36.52,321.95 36.79,326.53 37.06,330.84 37.32,334.85 37.59,338.57 37.86,342 38.13,345.13 38.39,347.98 38.66,350.55 38.93,352.86 39.2,354.93 39.46,356.77 39.73,358.4 40,359.84 40.27,361.1 40.54,362.2 40.8,363.17 41.07,364 41.34,364.73 41.61,365.36 41.87,365.91 42.14,366.38 42.41,366.79 42.68,367.15 42.94,367.46 43.21,367.73 43.48,367.97 43.75,368.18 44.01,368.37 44.28,368.54 44.55,368.69 44.82,368.82 45.08,368.94 45.35,369.05 45.62,369.15 45.89,369.25 46.16,369.33 46.42,369.41 46.69,369.49 46.96,369.56 47.23,369.62 47.49,369.68 47.76,369.73 48.03,369.78 48.3,369.83 48.56,369.88 48.83,369.92 49.1,369.96 49.37,369.99 49.63,370.02 49.9,370.05 50.17,370.08 50.44,370.11 50.71,370.13 50.97,370.15 51.24,370.17 51.51,370.19 51.78,370.21 52.04,370.22 52.31,370.24 52.58,370.25 52.85,370.26 53.11,370.27 53.38,370.28 53.65,370.29 53.92,370.3 54.18,370.3 54.45,370.31 54.72,370.31 56.08,370.33 57.45,370.34 58.81,370.34 60.17,370.34 61.54,370.34 62.9,370.34 64.26,370.33 65.63,370.33 66.99,370.33 68.35,370.33 69.72,370.33 71.08,370.33 72.44,370.33 73.81,370.33 75.17,370.33 76.53,370.33 77.9,370.34 79.26,370.34 80.63,370.34 81.99,370.35 83.35,370.35 84.72,370.36 86.08,370.37 87.44,370.37 88.81,370.38 90.17,370.39 91.53,370.4 92.9,370.41 94.26,370.42 95.62,370.43 96.99,370.44 98.35,370.45 99.71,370.46 101.08,370.47 102.44,370.48 103.8,370.5 105.17,370.51 106.53,370.52 107.89,370.54 109.26,370.55 110.62,370.57 111.98,370.58 113.35,370.59 114.71,370.61 116.07,370.62 117.44,370.64 118.8,370.66 120.16,370.67 121.53,370.69 122.89,370.7 124.26,370.72 125.62,370.74 126.98,370.75 128.35,370.77 129.71,370.78 131.07,370.8 132.44,370.82 133.8,370.83 135.16,370.85 136.53,370.87 137.89,370.88 139.25,370.9 140.62,370.91 141.98,370.93 143.34,370.94 144.71,370.96 146.07,370.98 147.43,370.99 148.8,371.01 150.16,371.02 151.52,371.03 152.89,371.05 154.25,371.06 155.61,371.08 156.98,371.09 158.34,371.1 159.7,371.12 161.07,371.13 162.43,371.14 163.79,371.16 165.16,371.17 166.52,371.18 167.89,371.19 169.25,371.2 170.61,371.21 171.98,371.22 173.34,371.24 174.7,371.25 176.07,371.26 177.43,371.27 178.79,371.28 180.16,371.28 181.52,371.29 182.88,371.3 184.25,371.31 185.61,371.32 186.97,371.33 188.34,371.33 189.7,371.34 190.15,371.34 190.59,371.35 191.04,371.35 191.48,371.35 191.93,371.35 192.38,371.36 192.82,371.36 193.27,371.36 193.71,371.36 194.16,371.36 194.61,371.37 195.05,371.37 195.5,371.37 195.94,371.37 196.39,371.37 196.84,371.38 197.28,371.38 197.73,371.38 198.18,371.38 198.62,371.38 199.07,371.39 199.51,371.39 199.96,371.39 200.41,371.39 200.85,371.39 201.3,371.39 201.74,371.4 202.19,371.4 202.64,371.4 203.08,371.4 203.53,371.4 203.97,371.4 204.42,371.41 204.87,371.41 205.31,371.41 205.76,371.41 206.2,371.41 206.65,371.41 207.1,371.42 207.54,371.42 207.99,371.42 208.43,371.42 208.88,371.42 209.33,371.42 209.77,371.42 210.22,371.42 210.67,371.43 211.11,371.43 211.56,371.43 212,371.43 212.45,371.43 212.9,371.43 213.34,371.43 213.79,371.43 214.23,371.44 214.68,371.44 215.13,371.44 215.57,371.44 216.02,371.44 216.46,371.44 216.91,371.44 217.36,371.44 217.8,371.44 218.25,371.45 218.69,371.45 219.14,371.45 219.59,371.45 220.03,371.45 220.48,371.45 220.92,371.45 221.37,371.45 221.82,371.45 222.26,371.45 222.71,371.46 223.16,371.46 223.6,371.46 224.05,371.46 224.49,371.46 224.94,371.46 225.39,371.46 225.83,371.46 226.28,371.46 226.72,371.46 227.17,371.46 227.62,371.46 228.06,371.46 228.51,371.47 228.95,371.47 229.4,371.47" fill="none" stroke="#e5221b" stroke-width="1.5" stroke-linejoin="round"/>
<path d="M137.7 371.5v-4.4h0.6v4.4z" fill="#377eb8" fill-opacity="0.8"/>
<path d="M134.7 371.5v-4.4h0.6v4.4zM141.9 371.5v-4.4h0.6v4.4zM146.1 371.5v-4.4h0.6v4.4zM147.3 371.5v-4.4h0.6v4.4zM151.5 371.5v-4.4h0.6v4.4zM153.3 371.5v-4.4h0.6v4.4zM155.1 371.5v-4.4h0.6v4.4zM162.9 371.5v-4.4h0.6v4.4zM167.1 371.5v-4.4h0.6v4.4zM167.7 371.5v-4.4h0.6v4.4zM174.3 371.5v-4.4h0.6v4.4zM175.5 371.5v-4.4h0.6v4.4zM177.3 371.5v-4.4h0.6v4.4zM177.9 371.5v-4.4h0.6v4.4zM178.5 371.5v-4.4h0.6v4.4zM179.1 371.5v-4.4h0.6v4.4zM180.9 371.5v-4.4h0.6v4.4zM182.7 371.5v-4.4h0.6v4.4zM185.1 371.5v-4.4h0.6v4.4zM188.1 371.5v-4.4h0.6v4.4zM194.1 371.5v-4.4h0.6v4.4zM195.9 371.5v-4.4h0.6v4.4zM196.5 371.5v-4.4h0.6v4.4zM199.5 371.5v-4.4h0.6v4.4zM201.3 371.5v-4.4h0.6v4.4zM202.5 371.5v-4.4h0.6v4.4zM203.1 371.5v-4.4h0.6v4.4zM204.3 371.5v-4.4h0.6v4.4zM206.7 371.5v-4.4h0.6v4.4zM207.3 371.5v-4.4h0.6v4.4zM208.5 371.5v-4.4h0.6v4.4zM210.3 371.5v-4.4h0.6v4.4zM210.9 371.5v-4.4h0.6v4.4zM212.7 371.5v-4.4h0.6v4.4zM216.3 371.5v-4.4h0.6v4.4zM218.7 371.5v-4.4h0.6v4.4zM220.5 371.5v-4.4h0.6v4.4zM221.1 371.5v-4.4h0.6v4.4zM223.5 371.5v-4.4h0.6v4.4zM224.1 371.5v-4.4h0.6v4.4zM225.3 371.5v-4.4h0.6v4.4zM225.9 371.5v-4.4h0.6v4.4zM226.5 371.5v-4.4h0.6v4.4zM227.7 371.5v-4.4h0.6v4.4zM228.3 371.5v-4.4h0.6v4.4zM228.9 371.5v-4.4h0.6v4.4z" fill="#377eb8" fill-opacity="1.0"/>
<path d="M74.7 371.5v-4.4h0.6v4.4zM79.5 371.5v-4.4h0.6v4.4zM98.7 371.5v-4.4h0.6v4.4zM116.7 371.5v-4.4h0.6v4.4zM125.7 371.5v-4.4h0.6v4.4zM129.3 371.5v-4.4h0.6v4.4zM129.9 371.5v-4.4h0.6v4.4zM135.9 371.5v-4.4h0.6v4.4zM141.3 371.5v-4.4h0.6v4.4zM148.5 371.5v-4.4h0.6v4.4zM150.9 371.5v-4.4h0.6v4.4zM156.9 371.5v-4.4h0.6v4.4zM158.1 371.5v-4.4h0.6v4.4zM158.7 371.5v-4.4h0.6v4.4zM161.7 371.5v-4.4h0.6v4.4zM164.1 371.5v-4.4h0.6v4.4zM165.3 371.5v-4.4h0.6v4.4zM166.5 371.5v-4.4h0.6v4.4zM168.9 371.5v-4.4h0.6v4.4zM169.5 371.5v-4.4h0.6v4.4zM179.7 371.5v-4.4h0.6v4.4zM186.9 371.5v-4.4h0.6v4.4zM191.1 371.5v-4.4h0.6v4.4zM193.5 371.5v-4.4h0.6v4.4zM194.7 371.5v-4.4h0.6v4.4zM198.9 371.5v-4.4h0.6v4.4zM200.1 371.5v-4.4h0.6v4.4zM200.7 371.5v-4.4h0.6v4.4zM201.9 371.5v-4.4h0.6v4.4zM218.1 371.5v-4.4h0.6v4.4zM219.3 371.5v-4.4h0.6v4.4zM219.9 371.5v-4.4h0.6v4.4zM221.7 371.5v-4.4h0.6v4.4zM222.3 371.5v-4.4h0.6v4.4zM222.9 371.5v-4.4h0.6v4.4zM227.1 371.5v-4.4h0.6v4.4z" fill="#4875a8" fill-opacity="1.0"/>
<path d="M75.3 371.5v-4.4h0.6v4.4zM101.7 371.5v-4.4h0.6v4.4zM107.7 371.5v-4.4h0.6v4.4zM108.9 371.5v-4.4h0.6v4.4zM118.5 371.5v-4.4h0.6v4.4zM161.1 371.5v-4.4h0.6v4.4zM180.3 371.5v-4.4h0.6v4.4zM186.3 371.5v-4.4h0.6v4.4zM214.5 371.5v-4.4h0.6v4.4zM215.7 371.5v-4.4h0.6v4.4z" fill="#5a6c99" fill-opacity="1.0"/>
<path d="M83.7 371.5v-4.4h0.6v4.4zM93.3 371.5v-4.4h0.6v4.4zM95.7 371.5v-4.4h0.6v4.4zM101.1 371.5v-4.4h0.6v4.4zM124.5 371.5v-4.4h0.6v4.4zM126.9 371.5v-4.4h0.6v4.4zM132.3 371.5v-4.4h0.6v4.4zM133.5 371.5v-4.4h0.6v4.4zM137.1 371.5v-4.4h0.6v4.4zM139.5 371.5v-4.4h0.6v4.4zM145.5 371.5v-4.4h0.6v4.4zM147.9 371.5v-4.4h0.6v4.4zM149.7 371.5v-4.4h0.6v4.4zM150.3 371.5v-4.4h0.6v4.4zM154.5 371.5v-4.4h0.6v4.4zM162.3 371.5v-4.4h0.6v4.4zM170.7 371.5v-4.4h0.6v4.4zM171.9 371.5v-4.4h0.6v4.4zM174.9 371.5v-4.4h0.6v4.4zM176.1 371.5v-4.4h0.6v4.4zM176.7 371.5v-4.4h0.6v4.4zM183.3 371.5v-4.4h0.6v4.4zM192.3 371.5v-4.4h0.6v4.4zM205.5 371.5v-4.4h0.6v4.4zM206.1 371.5v-4.4h0.6v4.4zM211.5 371.5v-4.4h0.6v4.4zM212.1 371.5v-4.4h0.6v4.4z" fill="#6b6289" fill-opacity="1.0"/>
<path d="M164.7 371.5v-4.4h0.6v4.4z" fill="#7d5979" fill-opacity="0.9"/>
<path d="M53.7 371.5v-4.4h0.6v4.4zM69.3 371.5v-4.4h0.6v4.4zM72.3 371.5v-4.4h0.6v4.4zM76.5 371.5v-4.4h0.6v4.4zM81.9 371.5v-4.4h0.6v4.4zM82.5 371.5v-4.4h0.6v4.4zM83.1 371.5v-4.4h0.6v4.4zM84.9 371.5v-4.4h0.6v4.4zM85.5 371.5v-4.4h0.6v4.4zM87.3 371.5v-4.4h0.6v4.4zM90.3 371.5v-4.4h0.6v4.4zM90.9 371.5v-4.4h0.6v4.4zM94.5 371.5v-4.4h0.6v4.4zM96.3 371.5v-4.4h0.6v4.4zM96.9 371.5v-4.4h0.6v4.4zM99.3 371.5v-4.4h0.6v4.4zM99.9 371.5v-4.4h0.6v4.4zM100.5 371.5v-4.4h0.6v4.4zM102.9 371.5v-4.4h0.6v4.4zM108.3 371.5v-4.4h0.6v4.4zM120.9 371.5v-4.4h0.6v4.4zM122.1 371.5v-4.4h0.6v4.4zM135.3 371.5v-4.4h0.6v4.4zM140.1 371.5v-4.4h0.6v4.4zM152.7 371.5v-4.4h0.6v4.4zM153.9 371.5v-4.4h0.6v4.4zM159.9 371.5v-4.4h0.6v4.4zM171.3 371.5v-4.4h0.6v4.4zM181.5 371.5v-4.4h0.6v4.4zM184.5 371.5v-4.4h0.6v4.4zM185.7 371.5v-4.4h0.6v4.4zM207.9 371.5v-4.4h0.6v4.4zM217.5 371.5v-4.4h0.6v4.4z" fill="#7d5979" fill-opacity="1.0"/>
<path d="M105.9 371.5v-4.4h0.6v4.4z" fill="#9f475a" fill-opacity="0.9"/>
<path d="M87.9 371.5v-4.4h0.6v4.4zM89.1 371.5v-4.4h0.6v4.4zM92.7 371.5v-4.4h0.6v4.4zM95.1 371.5v-4.4h0.6v4.4zM110.1 371.5v-4.4h0.6v4.4zM115.5 371.5v-4.4h0.6v4.4zM125.1 371.5v-4.4h0.6v4.4zM126.3 371.5v-4.4h0.6v4.4zM128.1 371.5v-4.4h0.6v4.4zM131.7 371.5v-4.4h0.6v4.4zM159.3 371.5v-4.4h0.6v4.4zM163.5 371.5v-4.4h0.6v4.4zM173.7 371.5v-4.4h0.6v4.4zM183.9 371.5v-4.4h0.6v4.4zM187.5 371.5v-4.4h0.6v4.4zM188.7 371.5v-4.4h0.6v4.4zM190.5 371.5v-4.4h0.6v4.4zM191.7 371.5v-4.4h0.6v4.4zM192.9 371.5v-4.4h0.6v4.4zM197.1 371.5v-4.4h0.6v4.4zM197.7 371.5v-4.4h0.6v4.4zM203.7 371.5v-4.4h0.6v4.4zM204.9 371.5v-4.4h0.6v4.4zM209.7 371.5v-4.4h0.6v4.4zM215.1 371.5v-4.4h0.6v4.4zM216.9 371.5v-4.4h0.6v4.4zM224.7 371.5v-4.4h0.6v4.4z" fill="#9f475a" fill-opacity="1.0"/>
<path d="M67.5 371.5v-4.4h0.6v4.4z" fill="#b13e4a" fill-opacity="0.9"/>
<path d="M75.9 371.5v-4.4h0.6v4.4zM89.7 371.5v-4.4h0.6v4.4zM102.3 371.5v-4.4h0.6v4.4zM112.5 371.5v-4.4h0.6v4.4zM127.5 371.5v-4.4h0.6v4.4zM130.5 371.5v-4.4h0.6v4.4zM138.3 371.5v-4.4h0.6v4.4zM138.9 371.5v-4.4h0.6v4.4zM144.3 371.5v-4.4h0.6v4.4zM144.9 371.5v-4.4h0.6v4.4zM146.7 371.5v-4.4h0.6v4.4zM155.7 371.5v-4.4h0.6v4.4zM156.3 371.5v-4.4h0.6v4.4zM165.9 371.5v-4.4h0.6v4.4zM170.1 371.5v-4.4h0.6v4.4zM172.5 371.5v-4.4h0.6v4.4zM173.1 371.5v-4.4h0.6v4.4zM189.3 371.5v-4.4h0.6v4.4zM198.3 371.5v-4.4h0.6v4.4zM209.1 371.5v-4.4h0.6v4.4zM213.3 371.5v-4.4h0.6v4.4z" fill="#b13e4a" fill-opacity="1.0"/>
<path d="M66.3 371.5v-4.4h0.6v4.4zM74.1 371.5v-4.4h0.6v4.4zM77.1 371.5v-4.4h0.6v4.4zM80.7 371.5v-4.4h0.6v4.4zM104.7 371.5v-4.4h0.6v4.4zM106.5 371.5v-4.4h0.6v4.4zM117.3 371.5v-4.4h0.6v4.4zM120.3 371.5v-4.4h0.6v4.4zM123.9 371.5v-4.4h0.6v4.4zM128.7 371.5v-4.4h0.6v4.4zM131.1 371.5v-4.4h0.6v4.4zM134.1 371.5v-4.4h0.6v4.4zM140.7 371.5v-4.4h0.6v4.4zM157.5 371.5v-4.4h0.6v4.4zM168.3 371.5v-4.4h0.6v4.4zM182.1 371.5v-4.4h0.6v4.4zM213.9 371.5v-4.4h0.6v4.4z" fill="#c2343a" fill-opacity="1.0"/>
<path d="M59.7 371.5v-4.4h0.6v4.4zM62.7 371.5v-4.4h0.6v4.4zM64.5 371.5v-4.4h0.6v4.4zM65.7 371.5v-4.4h0.6v4.4zM70.5 371.5v-4.4h0.6v4.4zM78.9 371.5v-4.4h0.6v4.4zM80.1 371.5v-4.4h0.6v4.4zM81.3 371.5v-4.4h0.6v4.4zM84.3 371.5v-4.4h0.6v4.4zM86.1 371.5v-4.4h0.6v4.4zM92.1 371.5v-4.4h0.6v4.4zM103.5 371.5v-4.4h0.6v4.4zM104.1 371.5v-4.4h0.6v4.4zM105.3 371.5v-4.4h0.6v4.4zM110.7 371.5v-4.4h0.6v4.4zM111.9 371.5v-4.4h0.6v4.4zM113.1 371.5v-4.4h0.6v4.4zM113.7 371.5v-4.4h0.6v4.4zM114.3 371.5v-4.4h0.6v4.4zM116.1 371.5v-4.4h0.6v4.4zM117.9 371.5v-4.4h0.6v4.4zM119.7 371.5v-4.4h0.6v4.4zM121.5 371.5v-4.4h0.6v4.4zM122.7 371.5v-4.4h0.6v4.4zM143.1 371.5v-4.4h0.6v4.4zM143.7 371.5v-4.4h0.6v4.4zM149.1 371.5v-4.4h0.6v4.4zM152.1 371.5v-4.4h0.6v4.4zM160.5 371.5v-4.4h0.6v4.4zM189.9 371.5v-4.4h0.6v4.4zM195.3 371.5v-4.4h0.6v4.4z" fill="#d42b2b" fill-opacity="1.0"/>
<path d="M30.9 371.5v-4.4h0.6v4.4zM31.5 371.5v-4.4h0.6v4.4zM32.1 371.5v-4.4h0.6v4.4zM32.7 371.5v-4.4h0.6v4.4zM33.3 371.5v-4.4h0.6v4.4zM33.9 371.5v-4.4h0.6v4.4zM34.5 371.5v-4.4h0.6v4.4zM35.1 371.5v-4.4h0.6v4.4zM35.7 371.5v-4.4h0.6v4.4zM36.3 371.5v-4.4h0.6v4.4zM36.9 371.5v-4.4h0.6v4.4zM37.5 371.5v-4.4h0.6v4.4zM38.1 371.5v-4.4h0.6v4.4zM38.7 371.5v-4.4h0.6v4.4zM39.3 371.5v-4.4h0.6v4.4zM39.9 371.5v-4.4h0.6v4.4zM40.5 371.5v-4.4h0.6v4.4zM41.1 371.5v-4.4h0.6v4.4zM41.7 371.5v-4.4h0.6v4.4zM42.3 371.5v-4.4h0.6v4.4zM42.9 371.5v-4.4h0.6v4.4zM43.5 371.5v-4.4h0.6v4.4zM44.1 371.5v-4.4h0.6v4.4zM44.7 371.5v-4.4h0.6v4.4zM45.3 371.5v-4.4h0.6v4.4zM45.9 371.5v-4.4h0.6v4.4zM46.5 371.5v-4.4h0.6v4.4zM47.1 371.5v-4.4h0.6v4.4zM47.7 371.5v-4.4h0.6v4.4zM48.3 371.5v-4.4h0.6v4.4zM48.9 371.5v-4.4h0.6v4.4zM49.5 371.5v-4.4h0.6v4.4zM50.1 371.5v-4.4h0.6v4.4zM50.7 371.5v-4.4h0.6v4.4zM51.3 371.5v-4.4h0.6v4.4zM51.9 371.5v-4.4h0.6v4.4zM52.5 371.5v-4.4h0.6v4.4zM53.1 371.5v-4.4h0.6v4.4zM54.3 371.5v-4.4h0.6v4.4zM54.9 371.5v-4.4h0.6v4.4zM55.5 371.5v-4.4h0.6v4.4zM56.1 371.5v-4.4h0.6v4.4zM56.7 371.5v-4.4h0.6v4.4zM57.3 371.5v-4.4h0.6v4.4zM57.9 371.5v-4.4h0.6v4.4zM58.5 371.5v-4.4h0.6v4.4zM59.1 371.5v-4.4h0.6v4.4zM60.3 371.5v-4.4h0.6v4.4zM60.9 371.5v-4.4h0.6v4.4zM61.5 371.5v-4.4h0.6v4.4zM62.1 371.5v-4.4h0.6v4.4zM63.3 371.5v-4.4h0.6v4.4zM63.9 371.5v-4.4h0.6v4.4zM65.1 371.5v-4.4h0.6v4.4zM66.9 371.5v-4.4h0.6v4.4zM68.1 371.5v-4.4h0.6v4.4zM68.7 371.5v-4.4h0.6v4.4zM69.9 371.5v-4.4h0.6v4.4zM71.1 371.5v-4.4h0.6v4.4zM71.7 371.5v-4.4h0.6v4.4zM72.9 371.5v-4.4h0.6v4.4zM73.5 371.5v-4.4h0.6v4.4zM77.7 371.5v-4.4h0.6v4.4zM78.3 371.5v-4.4h0.6v4.4zM86.7 371.5v-4.4h0.6v4.4zM88.5 371.5v-4.4h0.6v4.4zM91.5 371.5v-4.4h0.6v4.4zM93.9 371.5v-4.4h0.6v4.4zM97.5 371.5v-4.4h0.6v4.4zM98.1 371.5v-4.4h0.6v4.4zM107.1 371.5v-4.4h0.6v4.4zM109.5 371.5v-4.4h0.6v4.4zM111.3 371.5v-4.4h0.6v4.4zM114.9 371.5v-4.4h0.6v4.4zM119.1 371.5v-4.4h0.6v4.4zM123.3 371.5v-4.4h0.6v4.4zM132.9 371.5v-4.4h0.6v4.4zM136.5 371.5v-4.4h0.6v4.4zM142.5 371.5v-4.4h0.6v4.4z" fill="#e5221b" fill-opacity="1.0"/>
</g>
<path d="M130.45 371.5V225.05" stroke="#828282" stroke-width="0.85" stroke-dasharray="2.4 1.55" fill="none"/>
<path d="M30.9 224.55V371.5H229.9M30.9 371.5v4.1M30.9 371.5h-4.1M70.6 371.5v4.1M30.9 342.21h-4.1M110.3 371.5v4.1M30.9 312.92h-4.1M150 371.5v4.1M30.9 283.63h-4.1M189.7 371.5v4.1M30.9 254.34h-4.1M229.4 371.5v4.1M30.9 225.05h-4.1" stroke="#2b2b2b" stroke-width="1.15" fill="none"/>
<text transform="translate(130.25 220.75) scale(1.005 1) skewY(0.06)" font-size="10.4" text-anchor="middle" font-weight="bold">Logistic Regression</text>
<text transform="translate(23.7 375.6) scale(0.900 1) skewY(0.06)" font-size="10.0" text-anchor="end">0</text>
<text transform="translate(23.7 346.31) scale(0.900 1) skewY(0.06)" font-size="10.0" text-anchor="end">5</text>
<text transform="translate(23.7 317.02) scale(0.900 1) skewY(0.06)" font-size="10.0" text-anchor="end">10</text>
<text transform="translate(23.7 287.73) scale(0.900 1) skewY(0.06)" font-size="10.0" text-anchor="end">15</text>
<text transform="translate(23.7 258.44) scale(0.900 1) skewY(0.06)" font-size="10.0" text-anchor="end">20</text>
<text transform="translate(23.7 229.15) scale(0.900 1) skewY(0.06)" font-size="10.0" text-anchor="end">25</text>
<text transform="translate(31 386.4) scale(0.900 1) skewY(0.06)" font-size="10.0" text-anchor="middle">0.0</text>
<text transform="translate(70.7 386.4) scale(0.900 1) skewY(0.06)" font-size="10.0" text-anchor="middle">0.2</text>
<text transform="translate(110.4 386.4) scale(0.900 1) skewY(0.06)" font-size="10.0" text-anchor="middle">0.4</text>
<text transform="translate(150.1 386.4) scale(0.900 1) skewY(0.06)" font-size="10.0" text-anchor="middle">0.6</text>
<text transform="translate(189.8 386.4) scale(0.900 1) skewY(0.06)" font-size="10.0" text-anchor="middle">0.8</text>
<text transform="translate(229.5 386.4) scale(0.900 1) skewY(0.06)" font-size="10.0" text-anchor="middle">1.0</text>
<text transform="translate(130.05 398.7) scale(1.010 1) skewY(0.06)" font-size="10.4" text-anchor="middle" font-weight="bold">Predicted Score</text>
<text transform="translate(8.2 299.77) rotate(-90) scale(1.010 1) skewY(0.06)" font-size="10.4" text-anchor="middle" font-weight="bold">Density</text>
</g>
<g>
<clipPath id="c4"><rect x="254.05" y="225.05" width="197.85" height="146.45"/></clipPath>
<path d="M293.62 225.05V371.5M254.05 342.21H451.9M333.19 225.05V371.5M254.05 312.92H451.9M372.76 225.05V371.5M254.05 283.63H451.9M412.33 225.05V371.5M254.05 254.34H451.9M451.9 225.05V371.5M254.05 225.05H451.9" stroke="#f4f4f4" stroke-width="0.75" stroke-dasharray="1.2 0.6" fill="none"/>
<g clip-path="url(#c4)">
<polygon points="254.05,371.5 254.05,371.49 254.32,371.49 254.58,371.49 254.85,371.49 255.12,371.49 255.38,371.49 255.65,371.49 255.92,371.49 256.18,371.49 256.45,371.49 256.72,371.49 256.98,371.49 257.25,371.49 257.52,371.49 257.78,371.49 258.05,371.49 258.32,371.49 258.58,371.49 258.85,371.49 259.12,371.49 259.39,371.49 259.65,371.49 259.92,371.49 260.19,371.49 260.45,371.49 260.72,371.49 260.99,371.49 261.25,371.49 261.52,371.49 261.79,371.49 262.05,371.49 262.32,371.49 262.59,371.48 262.85,371.48 263.12,371.48 263.39,371.48 263.65,371.48 263.92,371.48 264.19,371.48 264.45,371.48 264.72,371.48 264.99,371.48 265.25,371.48 265.52,371.48 265.79,371.48 266.05,371.48 266.32,371.48 266.59,371.48 266.85,371.48 267.12,371.48 267.39,371.48 267.65,371.48 267.92,371.48 268.19,371.48 268.46,371.48 268.72,371.48 268.99,371.48 269.26,371.48 269.52,371.48 269.79,371.48 270.06,371.48 270.32,371.48 270.59,371.48 270.86,371.48 271.12,371.48 271.39,371.48 271.66,371.48 271.92,371.48 272.19,371.47 272.46,371.47 272.72,371.47 272.99,371.47 273.26,371.47 273.52,371.47 273.79,371.47 274.06,371.47 274.32,371.47 274.59,371.47 274.86,371.47 275.12,371.47 275.39,371.47 275.66,371.47 275.92,371.47 276.19,371.47 276.46,371.47 276.72,371.47 276.99,371.47 277.26,371.47 277.53,371.47 277.79,371.47 279.15,371.46 280.51,371.46 281.87,371.46 283.23,371.46 284.59,371.45 285.95,371.45 287.3,371.45 288.66,371.44 290.02,371.44 291.38,371.44 292.74,371.43 294.1,371.43 295.46,371.42 296.82,371.42 298.18,371.41 299.54,371.41 300.89,371.4 302.25,371.4 303.61,371.39 304.97,371.39 306.33,371.38 307.69,371.37 309.05,371.36 310.41,371.36 311.77,371.35 313.13,371.34 314.48,371.33 315.84,371.32 317.2,371.31 318.56,371.3 319.92,371.29 321.28,371.28 322.64,371.27 324,371.26 325.36,371.25 326.71,371.23 328.07,371.22 329.43,371.21 330.79,371.19 332.15,371.18 333.51,371.16 334.87,371.15 336.23,371.13 337.59,371.11 338.95,371.1 340.3,371.08 341.66,371.06 343.02,371.04 344.38,371.02 345.74,371 347.1,370.98 348.46,370.96 349.82,370.94 351.18,370.92 352.54,370.89 353.89,370.87 355.25,370.85 356.61,370.82 357.97,370.8 359.33,370.77 360.69,370.74 362.05,370.72 363.41,370.69 364.77,370.66 366.13,370.63 367.48,370.61 368.84,370.58 370.2,370.55 371.56,370.52 372.92,370.48 374.28,370.45 375.64,370.42 377,370.39 378.36,370.36 379.71,370.33 381.07,370.29 382.43,370.26 383.79,370.23 385.15,370.19 386.51,370.16 387.87,370.12 389.23,370.09 390.59,370.05 391.95,370.01 393.3,369.97 394.66,369.93 396.02,369.89 397.38,369.85 398.74,369.8 400.1,369.75 401.46,369.69 402.82,369.63 404.18,369.56 405.54,369.48 406.89,369.39 408.25,369.28 409.61,369.16 410.97,369.02 412.33,368.86 412.77,368.8 413.22,368.74 413.66,368.67 414.11,368.6 414.55,368.53 415,368.46 415.44,368.38 415.89,368.3 416.33,368.22 416.78,368.13 417.22,368.04 417.67,367.94 418.11,367.84 418.55,367.74 419,367.63 419.44,367.52 419.89,367.4 420.33,367.28 420.78,367.15 421.22,367.01 421.67,366.87 422.11,366.72 422.56,366.57 423,366.41 423.45,366.24 423.89,366.06 424.33,365.88 424.78,365.69 425.22,365.48 425.67,365.27 426.11,365.04 426.56,364.81 427,364.56 427.45,364.29 427.89,364.02 428.34,363.72 428.78,363.41 429.23,363.08 429.67,362.73 430.11,362.36 430.56,361.97 431,361.56 431.45,361.13 431.89,360.66 432.34,360.18 432.78,359.66 433.23,359.12 433.67,358.55 434.12,357.95 434.56,357.33 435,356.67 435.45,355.99 435.89,355.28 436.34,354.54 436.78,353.78 437.23,352.99 437.67,352.19 438.12,351.36 438.56,350.52 439.01,349.66 439.45,348.8 439.9,347.93 440.34,347.06 440.78,346.19 441.23,345.33 441.67,344.49 442.12,343.67 442.56,342.87 443.01,342.1 443.45,341.37 443.9,340.67 444.34,340.03 444.79,339.44 445.23,338.9 445.68,338.43 446.12,338.02 446.56,337.68 447.01,337.41 447.45,337.21 447.9,337.09 448.34,337.05 448.79,337.09 449.23,337.2 449.68,337.39 450.12,337.66 450.57,338 451.01,338.41 451.46,338.89 451.9,339.43 451.9,371.5" fill="#377eb8" fill-opacity="0.44"/>
<polyline points="254.05,371.49 254.32,371.49 254.58,371.49 254.85,371.49 255.12,371.49 255.38,371.49 255.65,371.49 255.92,371.49 256.18,371.49 256.45,371.49 256.72,371.49 256.98,371.49 257.25,371.49 257.52,371.49 257.78,371.49 258.05,371.49 258.32,371.49 258.58,371.49 258.85,371.49 259.12,371.49 259.39,371.49 259.65,371.49 259.92,371.49 260.19,371.49 260.45,371.49 260.72,371.49 260.99,371.49 261.25,371.49 261.52,371.49 261.79,371.49 262.05,371.49 262.32,371.49 262.59,371.48 262.85,371.48 263.12,371.48 263.39,371.48 263.65,371.48 263.92,371.48 264.19,371.48 264.45,371.48 264.72,371.48 264.99,371.48 265.25,371.48 265.52,371.48 265.79,371.48 266.05,371.48 266.32,371.48 266.59,371.48 266.85,371.48 267.12,371.48 267.39,371.48 267.65,371.48 267.92,371.48 268.19,371.48 268.46,371.48 268.72,371.48 268.99,371.48 269.26,371.48 269.52,371.48 269.79,371.48 270.06,371.48 270.32,371.48 270.59,371.48 270.86,371.48 271.12,371.48 271.39,371.48 271.66,371.48 271.92,371.48 272.19,371.47 272.46,371.47 272.72,371.47 272.99,371.47 273.26,371.47 273.52,371.47 273.79,371.47 274.06,371.47 274.32,371.47 274.59,371.47 274.86,371.47 275.12,371.47 275.39,371.47 275.66,371.47 275.92,371.47 276.19,371.47 276.46,371.47 276.72,371.47 276.99,371.47 277.26,371.47 277.53,371.47 277.79,371.47 279.15,371.46 280.51,371.46 281.87,371.46 283.23,371.46 284.59,371.45 285.95,371.45 287.3,371.45 288.66,371.44 290.02,371.44 291.38,371.44 292.74,371.43 294.1,371.43 295.46,371.42 296.82,371.42 298.18,371.41 299.54,371.41 300.89,371.4 302.25,371.4 303.61,371.39 304.97,371.39 306.33,371.38 307.69,371.37 309.05,371.36 310.41,371.36 311.77,371.35 313.13,371.34 314.48,371.33 315.84,371.32 317.2,371.31 318.56,371.3 319.92,371.29 321.28,371.28 322.64,371.27 324,371.26 325.36,371.25 326.71,371.23 328.07,371.22 329.43,371.21 330.79,371.19 332.15,371.18 333.51,371.16 334.87,371.15 336.23,371.13 337.59,371.11 338.95,371.1 340.3,371.08 341.66,371.06 343.02,371.04 344.38,371.02 345.74,371 347.1,370.98 348.46,370.96 349.82,370.94 351.18,370.92 352.54,370.89 353.89,370.87 355.25,370.85 356.61,370.82 357.97,370.8 359.33,370.77 360.69,370.74 362.05,370.72 363.41,370.69 364.77,370.66 366.13,370.63 367.48,370.61 368.84,370.58 370.2,370.55 371.56,370.52 372.92,370.48 374.28,370.45 375.64,370.42 377,370.39 378.36,370.36 379.71,370.33 381.07,370.29 382.43,370.26 383.79,370.23 385.15,370.19 386.51,370.16 387.87,370.12 389.23,370.09 390.59,370.05 391.95,370.01 393.3,369.97 394.66,369.93 396.02,369.89 397.38,369.85 398.74,369.8 400.1,369.75 401.46,369.69 402.82,369.63 404.18,369.56 405.54,369.48 406.89,369.39 408.25,369.28 409.61,369.16 410.97,369.02 412.33,368.86 412.77,368.8 413.22,368.74 413.66,368.67 414.11,368.6 414.55,368.53 415,368.46 415.44,368.38 415.89,368.3 416.33,368.22 416.78,368.13 417.22,368.04 417.67,367.94 418.11,367.84 418.55,367.74 419,367.63 419.44,367.52 419.89,367.4 420.33,367.28 420.78,367.15 421.22,367.01 421.67,366.87 422.11,366.72 422.56,366.57 423,366.41 423.45,366.24 423.89,366.06 424.33,365.88 424.78,365.69 425.22,365.48 425.67,365.27 426.11,365.04 426.56,364.81 427,364.56 427.45,364.29 427.89,364.02 428.34,363.72 428.78,363.41 429.23,363.08 429.67,362.73 430.11,362.36 430.56,361.97 431,361.56 431.45,361.13 431.89,360.66 432.34,360.18 432.78,359.66 433.23,359.12 433.67,358.55 434.12,357.95 434.56,357.33 435,356.67 435.45,355.99 435.89,355.28 436.34,354.54 436.78,353.78 437.23,352.99 437.67,352.19 438.12,351.36 438.56,350.52 439.01,349.66 439.45,348.8 439.9,347.93 440.34,347.06 440.78,346.19 441.23,345.33 441.67,344.49 442.12,343.67 442.56,342.87 443.01,342.1 443.45,341.37 443.9,340.67 444.34,340.03 444.79,339.44 445.23,338.9 445.68,338.43 446.12,338.02 446.56,337.68 447.01,337.41 447.45,337.21 447.9,337.09 448.34,337.05 448.79,337.09 449.23,337.2 449.68,337.39 450.12,337.66 450.57,338 451.01,338.41 451.46,338.89 451.9,339.43" fill="none" stroke="#377eb8" stroke-width="1.5" stroke-linejoin="round"/>
<polygon points="254.05,371.5 254.05,213.33 254.32,213.33 254.58,213.33 254.85,213.33 255.12,213.33 255.38,216.36 255.65,227.11 255.92,238.76 256.18,250.89 256.45,263.14 256.72,275.16 256.98,286.66 257.25,297.42 257.52,307.28 257.78,316.14 258.05,323.97 258.32,330.78 258.58,336.61 258.85,341.55 259.12,345.68 259.39,349.11 259.65,351.95 259.92,354.29 260.19,356.22 260.45,357.82 260.72,359.16 260.99,360.3 261.25,361.27 261.52,362.12 261.79,362.87 262.05,363.54 262.32,364.15 262.59,364.7 262.85,365.21 263.12,365.67 263.39,366.1 263.65,366.5 263.92,366.86 264.19,367.19 264.45,367.5 264.72,367.78 264.99,368.04 265.25,368.27 265.52,368.48 265.79,368.67 266.05,368.85 266.32,369 266.59,369.14 266.85,369.26 267.12,369.37 267.39,369.47 267.65,369.56 267.92,369.63 268.19,369.7 268.46,369.76 268.72,369.81 268.99,369.86 269.26,369.9 269.52,369.93 269.79,369.96 270.06,369.99 270.32,370.01 270.59,370.03 270.86,370.04 271.12,370.06 271.39,370.07 271.66,370.08 271.92,370.09 272.19,370.1 272.46,370.11 272.72,370.12 272.99,370.12 273.26,370.13 273.52,370.13 273.79,370.14 274.06,370.14 274.32,370.15 274.59,370.15 274.86,370.16 275.12,370.16 275.39,370.16 275.66,370.17 275.92,370.17 276.19,370.17 276.46,370.18 276.72,370.18 276.99,370.18 277.26,370.19 277.53,370.19 277.79,370.19 279.15,370.21 280.51,370.23 281.87,370.25 283.23,370.27 284.59,370.29 285.95,370.31 287.3,370.33 288.66,370.35 290.02,370.38 291.38,370.4 292.74,370.42 294.1,370.44 295.46,370.47 296.82,370.49 298.18,370.52 299.54,370.54 300.89,370.56 302.25,370.59 303.61,370.61 304.97,370.64 306.33,370.66 307.69,370.69 309.05,370.71 310.41,370.73 311.77,370.76 313.13,370.78 314.48,370.81 315.84,370.83 317.2,370.85 318.56,370.87 319.92,370.9 321.28,370.92 322.64,370.94 324,370.96 325.36,370.98 326.71,371 328.07,371.02 329.43,371.04 330.79,371.06 332.15,371.08 333.51,371.1 334.87,371.11 336.23,371.13 337.59,371.15 338.95,371.16 340.3,371.18 341.66,371.19 343.02,371.21 344.38,371.22 345.74,371.24 347.1,371.25 348.46,371.26 349.82,371.28 351.18,371.29 352.54,371.3 353.89,371.31 355.25,371.32 356.61,371.33 357.97,371.34 359.33,371.35 360.69,371.36 362.05,371.36 363.41,371.37 364.77,371.38 366.13,371.39 367.48,371.39 368.84,371.4 370.2,371.41 371.56,371.41 372.92,371.42 374.28,371.42 375.64,371.43 377,371.43 378.36,371.44 379.71,371.44 381.07,371.45 382.43,371.45 383.79,371.45 385.15,371.46 386.51,371.46 387.87,371.46 389.23,371.47 390.59,371.47 391.95,371.47 393.3,371.47 394.66,371.47 396.02,371.48 397.38,371.48 398.74,371.48 400.1,371.48 401.46,371.48 402.82,371.48 404.18,371.49 405.54,371.49 406.89,371.49 408.25,371.49 409.61,371.49 410.97,371.49 412.33,371.49 412.77,371.49 413.22,371.49 413.66,371.49 414.11,371.49 414.55,371.49 415,371.49 415.44,371.49 415.89,371.49 416.33,371.49 416.78,371.49 417.22,371.49 417.67,371.49 418.11,371.49 418.55,371.49 419,371.49 419.44,371.49 419.89,371.49 420.33,371.49 420.78,371.5 421.22,371.5 421.67,371.5 422.11,371.5 422.56,371.5 423,371.5 423.45,371.5 423.89,371.5 424.33,371.5 424.78,371.5 425.22,371.5 425.67,371.5 426.11,371.5 426.56,371.5 427,371.5 427.45,371.5 427.89,371.5 428.34,371.5 428.78,371.5 429.23,371.5 429.67,371.5 430.11,371.5 430.56,371.5 431,371.5 431.45,371.5 431.89,371.5 432.34,371.5 432.78,371.5 433.23,371.5 433.67,371.5 434.12,371.5 434.56,371.5 435,371.5 435.45,371.5 435.89,371.5 436.34,371.5 436.78,371.5 437.23,371.5 437.67,371.5 438.12,371.5 438.56,371.5 439.01,371.5 439.45,371.5 439.9,371.5 440.34,371.5 440.78,371.5 441.23,371.5 441.67,371.5 442.12,371.5 442.56,371.5 443.01,371.5 443.45,371.5 443.9,371.5 444.34,371.5 444.79,371.5 445.23,371.5 445.68,371.5 446.12,371.5 446.56,371.5 447.01,371.5 447.45,371.5 447.9,371.5 448.34,371.5 448.79,371.5 449.23,371.5 449.68,371.5 450.12,371.5 450.57,371.5 451.01,371.5 451.46,371.5 451.9,371.5 451.9,371.5" fill="#cf1e2d" fill-opacity="0.47"/>
<polyline points="254.05,213.33 254.32,213.33 254.58,213.33 254.85,213.33 255.12,213.33 255.38,216.36 255.65,227.11 255.92,238.76 256.18,250.89 256.45,263.14 256.72,275.16 256.98,286.66 257.25,297.42 257.52,307.28 257.78,316.14 258.05,323.97 258.32,330.78 258.58,336.61 258.85,341.55 259.12,345.68 259.39,349.11 259.65,351.95 259.92,354.29 260.19,356.22 260.45,357.82 260.72,359.16 260.99,360.3 261.25,361.27 261.52,362.12 261.79,362.87 262.05,363.54 262.32,364.15 262.59,364.7 262.85,365.21 263.12,365.67 263.39,366.1 263.65,366.5 263.92,366.86 264.19,367.19 264.45,367.5 264.72,367.78 264.99,368.04 265.25,368.27 265.52,368.48 265.79,368.67 266.05,368.85 266.32,369 266.59,369.14 266.85,369.26 267.12,369.37 267.39,369.47 267.65,369.56 267.92,369.63 268.19,369.7 268.46,369.76 268.72,369.81 268.99,369.86 269.26,369.9 269.52,369.93 269.79,369.96 270.06,369.99 270.32,370.01 270.59,370.03 270.86,370.04 271.12,370.06 271.39,370.07 271.66,370.08 271.92,370.09 272.19,370.1 272.46,370.11 272.72,370.12 272.99,370.12 273.26,370.13 273.52,370.13 273.79,370.14 274.06,370.14 274.32,370.15 274.59,370.15 274.86,370.16 275.12,370.16 275.39,370.16 275.66,370.17 275.92,370.17 276.19,370.17 276.46,370.18 276.72,370.18 276.99,370.18 277.26,370.19 277.53,370.19 277.79,370.19 279.15,370.21 280.51,370.23 281.87,370.25 283.23,370.27 284.59,370.29 285.95,370.31 287.3,370.33 288.66,370.35 290.02,370.38 291.38,370.4 292.74,370.42 294.1,370.44 295.46,370.47 296.82,370.49 298.18,370.52 299.54,370.54 300.89,370.56 302.25,370.59 303.61,370.61 304.97,370.64 306.33,370.66 307.69,370.69 309.05,370.71 310.41,370.73 311.77,370.76 313.13,370.78 314.48,370.81 315.84,370.83 317.2,370.85 318.56,370.87 319.92,370.9 321.28,370.92 322.64,370.94 324,370.96 325.36,370.98 326.71,371 328.07,371.02 329.43,371.04 330.79,371.06 332.15,371.08 333.51,371.1 334.87,371.11 336.23,371.13 337.59,371.15 338.95,371.16 340.3,371.18 341.66,371.19 343.02,371.21 344.38,371.22 345.74,371.24 347.1,371.25 348.46,371.26 349.82,371.28 351.18,371.29 352.54,371.3 353.89,371.31 355.25,371.32 356.61,371.33 357.97,371.34 359.33,371.35 360.69,371.36 362.05,371.36 363.41,371.37 364.77,371.38 366.13,371.39 367.48,371.39 368.84,371.4 370.2,371.41 371.56,371.41 372.92,371.42 374.28,371.42 375.64,371.43 377,371.43 378.36,371.44 379.71,371.44 381.07,371.45 382.43,371.45 383.79,371.45 385.15,371.46 386.51,371.46 387.87,371.46 389.23,371.47 390.59,371.47 391.95,371.47 393.3,371.47 394.66,371.47 396.02,371.48 397.38,371.48 398.74,371.48 400.1,371.48 401.46,371.48 402.82,371.48 404.18,371.49 405.54,371.49 406.89,371.49 408.25,371.49 409.61,371.49 410.97,371.49 412.33,371.49 412.77,371.49 413.22,371.49 413.66,371.49 414.11,371.49 414.55,371.49 415,371.49 415.44,371.49 415.89,371.49 416.33,371.49 416.78,371.49 417.22,371.49 417.67,371.49 418.11,371.49 418.55,371.49 419,371.49 419.44,371.49 419.89,371.49 420.33,371.49 420.78,371.5 421.22,371.5 421.67,371.5 422.11,371.5 422.56,371.5 423,371.5 423.45,371.5 423.89,371.5 424.33,371.5 424.78,371.5 425.22,371.5 425.67,371.5 426.11,371.5 426.56,371.5 427,371.5 427.45,371.5 427.89,371.5 428.34,371.5 428.78,371.5 429.23,371.5 429.67,371.5 430.11,371.5 430.56,371.5 431,371.5 431.45,371.5 431.89,371.5 432.34,371.5 432.78,371.5 433.23,371.5 433.67,371.5 434.12,371.5 434.56,371.5 435,371.5 435.45,371.5 435.89,371.5 436.34,371.5 436.78,371.5 437.23,371.5 437.67,371.5 438.12,371.5 438.56,371.5 439.01,371.5 439.45,371.5 439.9,371.5 440.34,371.5 440.78,371.5 441.23,371.5 441.67,371.5 442.12,371.5 442.56,371.5 443.01,371.5 443.45,371.5 443.9,371.5 444.34,371.5 444.79,371.5 445.23,371.5 445.68,371.5 446.12,371.5 446.56,371.5 447.01,371.5 447.45,371.5 447.9,371.5 448.34,371.5 448.79,371.5 449.23,371.5 449.68,371.5 450.12,371.5 450.57,371.5 451.01,371.5 451.46,371.5 451.9,371.5" fill="none" stroke="#e5221b" stroke-width="1.5" stroke-linejoin="round"/>
<path d="M312.25 371.5v-4.4h0.6v4.4zM317.05 371.5v-4.4h0.6v4.4zM326.65 371.5v-4.4h0.6v4.4zM329.65 371.5v-4.4h0.6v4.4zM341.05 371.5v-4.4h0.6v4.4zM353.65 371.5v-4.4h0.6v4.4zM354.85 371.5v-4.4h0.6v4.4zM355.45 371.5v-4.4h0.6v4.4zM357.85 371.5v-4.4h0.6v4.4zM361.45 371.5v-4.4h0.6v4.4zM363.25 371.5v-4.4h0.6v4.4zM374.05 371.5v-4.4h0.6v4.4zM378.85 371.5v-4.4h0.6v4.4zM386.65 371.5v-4.4h0.6v4.4zM408.85 371.5v-4.4h0.6v4.4zM411.85 371.5v-4.4h0.6v4.4z" fill="#377eb8" fill-opacity="0.5"/>
<path d="M327.85 371.5v-4.4h0.6v4.4zM330.85 371.5v-4.4h0.6v4.4zM335.65 371.5v-4.4h0.6v4.4zM338.05 371.5v-4.4h0.6v4.4zM372.85 371.5v-4.4h0.6v4.4zM377.05 371.5v-4.4h0.6v4.4zM381.25 371.5v-4.4h0.6v4.4zM387.85 371.5v-4.4h0.6v4.4zM389.05 371.5v-4.4h0.6v4.4zM392.05 371.5v-4.4h0.6v4.4zM396.25 371.5v-4.4h0.6v4.4zM397.45 371.5v-4.4h0.6v4.4zM399.25 371.5v-4.4h0.6v4.4zM407.65 371.5v-4.4h0.6v4.4zM408.25 371.5v-4.4h0.6v4.4zM410.65 371.5v-4.4h0.6v4.4z" fill="#377eb8" fill-opacity="0.8"/>
<path d="M341.65 371.5v-4.4h0.6v4.4zM352.45 371.5v-4.4h0.6v4.4zM358.45 371.5v-4.4h0.6v4.4zM359.65 371.5v-4.4h0.6v4.4zM368.65 371.5v-4.4h0.6v4.4zM371.65 371.5v-4.4h0.6v4.4zM372.25 371.5v-4.4h0.6v4.4zM375.25 371.5v-4.4h0.6v4.4zM393.85 371.5v-4.4h0.6v4.4zM395.65 371.5v-4.4h0.6v4.4zM405.85 371.5v-4.4h0.6v4.4zM409.45 371.5v-4.4h0.6v4.4zM413.05 371.5v-4.4h0.6v4.4zM416.05 371.5v-4.4h0.6v4.4zM419.05 371.5v-4.4h0.6v4.4zM423.25 371.5v-4.4h0.6v4.4zM425.05 371.5v-4.4h0.6v4.4zM429.85 371.5v-4.4h0.6v4.4zM431.05 371.5v-4.4h0.6v4.4zM438.85 371.5v-4.4h0.6v4.4z" fill="#377eb8" fill-opacity="0.9"/>
<path d="M324.85 371.5v-4.4h0.6v4.4zM346.45 371.5v-4.4h0.6v4.4zM348.85 371.5v-4.4h0.6v4.4zM362.65 371.5v-4.4h0.6v4.4zM376.45 371.5v-4.4h0.6v4.4zM396.85 371.5v-4.4h0.6v4.4zM402.85 371.5v-4.4h0.6v4.4zM404.05 371.5v-4.4h0.6v4.4zM404.65 371.5v-4.4h0.6v4.4zM410.05 371.5v-4.4h0.6v4.4zM413.65 371.5v-4.4h0.6v4.4zM415.45 371.5v-4.4h0.6v4.4zM418.45 371.5v-4.4h0.6v4.4zM419.65 371.5v-4.4h0.6v4.4zM420.25 371.5v-4.4h0.6v4.4zM420.85 371.5v-4.4h0.6v4.4zM421.45 371.5v-4.4h0.6v4.4zM422.05 371.5v-4.4h0.6v4.4zM425.65 371.5v-4.4h0.6v4.4zM426.85 371.5v-4.4h0.6v4.4zM428.05 371.5v-4.4h0.6v4.4zM428.65 371.5v-4.4h0.6v4.4zM429.25 371.5v-4.4h0.6v4.4zM430.45 371.5v-4.4h0.6v4.4zM431.65 371.5v-4.4h0.6v4.4zM432.25 371.5v-4.4h0.6v4.4zM432.85 371.5v-4.4h0.6v4.4zM434.05 371.5v-4.4h0.6v4.4zM434.65 371.5v-4.4h0.6v4.4zM436.45 371.5v-4.4h0.6v4.4zM437.05 371.5v-4.4h0.6v4.4zM437.65 371.5v-4.4h0.6v4.4zM438.25 371.5v-4.4h0.6v4.4zM440.05 371.5v-4.4h0.6v4.4zM440.65 371.5v-4.4h0.6v4.4zM441.85 371.5v-4.4h0.6v4.4zM442.45 371.5v-4.4h0.6v4.4zM443.05 371.5v-4.4h0.6v4.4zM443.65 371.5v-4.4h0.6v4.4zM444.25 371.5v-4.4h0.6v4.4zM445.45 371.5v-4.4h0.6v4.4zM446.05 371.5v-4.4h0.6v4.4zM446.65 371.5v-4.4h0.6v4.4zM447.85 371.5v-4.4h0.6v4.4zM448.45 371.5v-4.4h0.6v4.4zM449.05 371.5v-4.4h0.6v4.4zM449.65 371.5v-4.4h0.6v4.4zM450.25 371.5v-4.4h0.6v4.4zM450.85 371.5v-4.4h0.6v4.4zM451.45 371.5v-4.4h0.6v4.4z" fill="#377eb8" fill-opacity="1.0"/>
<path d="M296.05 371.5v-4.4h0.6v4.4zM320.05 371.5v-4.4h0.6v4.4zM323.05 371.5v-4.4h0.6v4.4zM342.85 371.5v-4.4h0.6v4.4zM343.45 371.5v-4.4h0.6v4.4zM344.05 371.5v-4.4h0.6v4.4zM360.85 371.5v-4.4h0.6v4.4zM364.45 371.5v-4.4h0.6v4.4zM380.05 371.5v-4.4h0.6v4.4zM384.85 371.5v-4.4h0.6v4.4zM390.25 371.5v-4.4h0.6v4.4zM398.05 371.5v-4.4h0.6v4.4zM411.25 371.5v-4.4h0.6v4.4z" fill="#4875a8" fill-opacity="0.9"/>
<path d="M286.45 371.5v-4.4h0.6v4.4zM365.05 371.5v-4.4h0.6v4.4zM391.45 371.5v-4.4h0.6v4.4zM405.25 371.5v-4.4h0.6v4.4zM426.25 371.5v-4.4h0.6v4.4zM427.45 371.5v-4.4h0.6v4.4zM433.45 371.5v-4.4h0.6v4.4zM444.85 371.5v-4.4h0.6v4.4zM447.25 371.5v-4.4h0.6v4.4z" fill="#4875a8" fill-opacity="1.0"/>
<path d="M390.85 371.5v-4.4h0.6v4.4z" fill="#5a6c99" fill-opacity="0.9"/>
<path d="M309.85 371.5v-4.4h0.6v4.4zM356.05 371.5v-4.4h0.6v4.4zM393.25 371.5v-4.4h0.6v4.4zM422.65 371.5v-4.4h0.6v4.4zM423.85 371.5v-4.4h0.6v4.4z" fill="#5a6c99" fill-opacity="1.0"/>
<path d="M309.25 371.5v-4.4h0.6v4.4zM313.45 371.5v-4.4h0.6v4.4zM315.85 371.5v-4.4h0.6v4.4zM318.85 371.5v-4.4h0.6v4.4zM322.45 371.5v-4.4h0.6v4.4zM326.05 371.5v-4.4h0.6v4.4zM357.25 371.5v-4.4h0.6v4.4zM362.05 371.5v-4.4h0.6v4.4zM373.45 371.5v-4.4h0.6v4.4zM382.45 371.5v-4.4h0.6v4.4zM399.85 371.5v-4.4h0.6v4.4z" fill="#6b6289" fill-opacity="0.8"/>
<path d="M285.85 371.5v-4.4h0.6v4.4zM370.45 371.5v-4.4h0.6v4.4zM374.65 371.5v-4.4h0.6v4.4zM383.05 371.5v-4.4h0.6v4.4zM384.25 371.5v-4.4h0.6v4.4zM385.45 371.5v-4.4h0.6v4.4zM386.05 371.5v-4.4h0.6v4.4zM401.65 371.5v-4.4h0.6v4.4zM403.45 371.5v-4.4h0.6v4.4zM441.25 371.5v-4.4h0.6v4.4z" fill="#6b6289" fill-opacity="0.9"/>
<path d="M291.25 371.5v-4.4h0.6v4.4zM293.65 371.5v-4.4h0.6v4.4zM301.45 371.5v-4.4h0.6v4.4zM310.45 371.5v-4.4h0.6v4.4zM312.85 371.5v-4.4h0.6v4.4zM324.25 371.5v-4.4h0.6v4.4zM353.05 371.5v-4.4h0.6v4.4zM363.85 371.5v-4.4h0.6v4.4zM412.45 371.5v-4.4h0.6v4.4zM424.45 371.5v-4.4h0.6v4.4zM435.25 371.5v-4.4h0.6v4.4zM435.85 371.5v-4.4h0.6v4.4z" fill="#6b6289" fill-opacity="1.0"/>
<path d="M332.05 371.5v-4.4h0.6v4.4zM342.25 371.5v-4.4h0.6v4.4zM350.05 371.5v-4.4h0.6v4.4z" fill="#7d5979" fill-opacity="0.9"/>
<path d="M280.45 371.5v-4.4h0.6v4.4zM297.85 371.5v-4.4h0.6v4.4zM303.85 371.5v-4.4h0.6v4.4z" fill="#7d5979" fill-opacity="1.0"/>
<path d="M290.05 371.5v-4.4h0.6v4.4zM305.05 371.5v-4.4h0.6v4.4zM305.65 371.5v-4.4h0.6v4.4zM400.45 371.5v-4.4h0.6v4.4zM406.45 371.5v-4.4h0.6v4.4z" fill="#8e506a" fill-opacity="0.9"/>
<path d="M264.25 371.5v-4.4h0.6v4.4zM287.65 371.5v-4.4h0.6v4.4zM298.45 371.5v-4.4h0.6v4.4zM306.85 371.5v-4.4h0.6v4.4zM316.45 371.5v-4.4h0.6v4.4zM336.25 371.5v-4.4h0.6v4.4zM407.05 371.5v-4.4h0.6v4.4zM414.25 371.5v-4.4h0.6v4.4zM414.85 371.5v-4.4h0.6v4.4zM416.65 371.5v-4.4h0.6v4.4zM439.45 371.5v-4.4h0.6v4.4z" fill="#8e506a" fill-opacity="1.0"/>
<path d="M302.05 371.5v-4.4h0.6v4.4zM321.25 371.5v-4.4h0.6v4.4zM337.45 371.5v-4.4h0.6v4.4zM345.25 371.5v-4.4h0.6v4.4zM347.65 371.5v-4.4h0.6v4.4zM388.45 371.5v-4.4h0.6v4.4z" fill="#9f475a" fill-opacity="0.9"/>
<path d="M284.05 371.5v-4.4h0.6v4.4zM295.45 371.5v-4.4h0.6v4.4zM417.85 371.5v-4.4h0.6v4.4z" fill="#9f475a" fill-opacity="1.0"/>
<path d="M303.25 371.5v-4.4h0.6v4.4zM314.65 371.5v-4.4h0.6v4.4zM318.25 371.5v-4.4h0.6v4.4zM321.85 371.5v-4.4h0.6v4.4zM325.45 371.5v-4.4h0.6v4.4zM328.45 371.5v-4.4h0.6v4.4zM333.85 371.5v-4.4h0.6v4.4zM339.85 371.5v-4.4h0.6v4.4zM345.85 371.5v-4.4h0.6v4.4zM366.25 371.5v-4.4h0.6v4.4zM381.85 371.5v-4.4h0.6v4.4zM394.45 371.5v-4.4h0.6v4.4zM398.65 371.5v-4.4h0.6v4.4z" fill="#b13e4a" fill-opacity="0.8"/>
<path d="M299.65 371.5v-4.4h0.6v4.4zM300.25 371.5v-4.4h0.6v4.4zM306.25 371.5v-4.4h0.6v4.4zM308.65 371.5v-4.4h0.6v4.4zM320.65 371.5v-4.4h0.6v4.4zM327.25 371.5v-4.4h0.6v4.4zM340.45 371.5v-4.4h0.6v4.4zM375.85 371.5v-4.4h0.6v4.4zM377.65 371.5v-4.4h0.6v4.4zM389.65 371.5v-4.4h0.6v4.4z" fill="#b13e4a" fill-opacity="0.9"/>
<path d="M281.05 371.5v-4.4h0.6v4.4zM299.05 371.5v-4.4h0.6v4.4zM317.65 371.5v-4.4h0.6v4.4zM334.45 371.5v-4.4h0.6v4.4z" fill="#b13e4a" fill-opacity="1.0"/>
<path d="M348.25 371.5v-4.4h0.6v4.4z" fill="#c2343a" fill-opacity="0.9"/>
<path d="M294.25 371.5v-4.4h0.6v4.4zM378.25 371.5v-4.4h0.6v4.4z" fill="#c2343a" fill-opacity="1.0"/>
<path d="M293.05 371.5v-4.4h0.6v4.4zM300.85 371.5v-4.4h0.6v4.4zM330.25 371.5v-4.4h0.6v4.4zM331.45 371.5v-4.4h0.6v4.4zM333.25 371.5v-4.4h0.6v4.4zM344.65 371.5v-4.4h0.6v4.4zM392.65 371.5v-4.4h0.6v4.4zM401.05 371.5v-4.4h0.6v4.4z" fill="#d42b2b" fill-opacity="0.9"/>
<path d="M281.65 371.5v-4.4h0.6v4.4zM282.85 371.5v-4.4h0.6v4.4zM283.45 371.5v-4.4h0.6v4.4zM289.45 371.5v-4.4h0.6v4.4zM297.25 371.5v-4.4h0.6v4.4zM302.65 371.5v-4.4h0.6v4.4z" fill="#d42b2b" fill-opacity="1.0"/>
<path d="M307.45 371.5v-4.4h0.6v4.4zM314.05 371.5v-4.4h0.6v4.4zM319.45 371.5v-4.4h0.6v4.4zM332.65 371.5v-4.4h0.6v4.4zM349.45 371.5v-4.4h0.6v4.4zM354.25 371.5v-4.4h0.6v4.4zM365.65 371.5v-4.4h0.6v4.4zM367.45 371.5v-4.4h0.6v4.4zM369.85 371.5v-4.4h0.6v4.4zM371.05 371.5v-4.4h0.6v4.4zM395.05 371.5v-4.4h0.6v4.4z" fill="#e5221b" fill-opacity="0.5"/>
<path d="M329.05 371.5v-4.4h0.6v4.4zM335.05 371.5v-4.4h0.6v4.4zM339.25 371.5v-4.4h0.6v4.4zM347.05 371.5v-4.4h0.6v4.4zM351.25 371.5v-4.4h0.6v4.4zM359.05 371.5v-4.4h0.6v4.4zM383.65 371.5v-4.4h0.6v4.4zM402.25 371.5v-4.4h0.6v4.4z" fill="#e5221b" fill-opacity="0.8"/>
<path d="M287.05 371.5v-4.4h0.6v4.4zM288.25 371.5v-4.4h0.6v4.4zM288.85 371.5v-4.4h0.6v4.4zM290.65 371.5v-4.4h0.6v4.4zM291.85 371.5v-4.4h0.6v4.4zM296.65 371.5v-4.4h0.6v4.4zM304.45 371.5v-4.4h0.6v4.4zM308.05 371.5v-4.4h0.6v4.4zM315.25 371.5v-4.4h0.6v4.4zM360.25 371.5v-4.4h0.6v4.4zM366.85 371.5v-4.4h0.6v4.4zM368.05 371.5v-4.4h0.6v4.4z" fill="#e5221b" fill-opacity="0.9"/>
<path d="M254.05 371.5v-4.4h0.6v4.4zM254.65 371.5v-4.4h0.6v4.4zM255.25 371.5v-4.4h0.6v4.4zM255.85 371.5v-4.4h0.6v4.4zM256.45 371.5v-4.4h0.6v4.4zM257.05 371.5v-4.4h0.6v4.4zM257.65 371.5v-4.4h0.6v4.4zM258.25 371.5v-4.4h0.6v4.4zM258.85 371.5v-4.4h0.6v4.4zM259.45 371.5v-4.4h0.6v4.4zM260.05 371.5v-4.4h0.6v4.4zM260.65 371.5v-4.4h0.6v4.4zM261.25 371.5v-4.4h0.6v4.4zM261.85 371.5v-4.4h0.6v4.4zM262.45 371.5v-4.4h0.6v4.4zM263.05 371.5v-4.4h0.6v4.4zM263.65 371.5v-4.4h0.6v4.4zM264.85 371.5v-4.4h0.6v4.4zM265.45 371.5v-4.4h0.6v4.4zM266.05 371.5v-4.4h0.6v4.4zM266.65 371.5v-4.4h0.6v4.4zM267.25 371.5v-4.4h0.6v4.4zM267.85 371.5v-4.4h0.6v4.4zM268.45 371.5v-4.4h0.6v4.4zM269.05 371.5v-4.4h0.6v4.4zM269.65 371.5v-4.4h0.6v4.4zM270.25 371.5v-4.4h0.6v4.4zM270.85 371.5v-4.4h0.6v4.4zM271.45 371.5v-4.4h0.6v4.4zM272.05 371.5v-4.4h0.6v4.4zM272.65 371.5v-4.4h0.6v4.4zM273.25 371.5v-4.4h0.6v4.4zM273.85 371.5v-4.4h0.6v4.4zM274.45 371.5v-4.4h0.6v4.4zM275.05 371.5v-4.4h0.6v4.4zM275.65 371.5v-4.4h0.6v4.4zM276.25 371.5v-4.4h0.6v4.4zM276.85 371.5v-4.4h0.6v4.4zM277.45 371.5v-4.4h0.6v4.4zM278.05 371.5v-4.4h0.6v4.4zM278.65 371.5v-4.4h0.6v4.4zM279.25 371.5v-4.4h0.6v4.4zM279.85 371.5v-4.4h0.6v4.4zM282.25 371.5v-4.4h0.6v4.4zM284.65 371.5v-4.4h0.6v4.4zM285.25 371.5v-4.4h0.6v4.4zM292.45 371.5v-4.4h0.6v4.4zM294.85 371.5v-4.4h0.6v4.4zM311.05 371.5v-4.4h0.6v4.4z" fill="#e5221b" fill-opacity="1.0"/>
</g>
<path d="M353.28 371.5V225.05" stroke="#828282" stroke-width="0.85" stroke-dasharray="2.4 1.55" fill="none"/>
<path d="M254.05 224.55V371.5H452.4M254.05 371.5v4.1M254.05 371.5h-4.1M293.62 371.5v4.1M254.05 342.21h-4.1M333.19 371.5v4.1M254.05 312.92h-4.1M372.76 371.5v4.1M254.05 283.63h-4.1M412.33 371.5v4.1M254.05 254.34h-4.1M451.9 371.5v4.1M254.05 225.05h-4.1" stroke="#2b2b2b" stroke-width="1.15" fill="none"/>
<text transform="translate(353.08 220.75) scale(1.005 1) skewY(0.06)" font-size="10.4" text-anchor="middle" font-weight="bold">XGBoost</text>
<text transform="translate(254.15 386.4) scale(0.900 1) skewY(0.06)" font-size="10.0" text-anchor="middle">0.0</text>
<text transform="translate(293.72 386.4) scale(0.900 1) skewY(0.06)" font-size="10.0" text-anchor="middle">0.2</text>
<text transform="translate(333.29 386.4) scale(0.900 1) skewY(0.06)" font-size="10.0" text-anchor="middle">0.4</text>
<text transform="translate(372.86 386.4) scale(0.900 1) skewY(0.06)" font-size="10.0" text-anchor="middle">0.6</text>
<text transform="translate(412.43 386.4) scale(0.900 1) skewY(0.06)" font-size="10.0" text-anchor="middle">0.8</text>
<text transform="translate(452 386.4) scale(0.900 1) skewY(0.06)" font-size="10.0" text-anchor="middle">1.0</text>
<text transform="translate(352.88 398.7) scale(1.010 1) skewY(0.06)" font-size="10.4" text-anchor="middle" font-weight="bold">Predicted Score</text>
</g>
<g>
<text transform="translate(652.8 373.7) skewY(0.06)" font-size="10.45" text-anchor="middle">True Label</text>
<rect x="619.7" y="381.4" width="20.2" height="7" fill="#377eb8" fill-opacity="0.44" stroke="#377eb8" stroke-width="1.05"/>
<rect x="619.7" y="395.4" width="20.2" height="7" fill="#cf1e2d" fill-opacity="0.47" stroke="#e5221b" stroke-width="1.05"/>
<text transform="translate(647.3 387.6) scale(0.985 1) skewY(0.06)" font-size="9.55">Negative</text>
<text transform="translate(647.3 402.1) scale(0.985 1) skewY(0.06)" font-size="9.55">Positive</text>
</g>
</svg></body></html>
